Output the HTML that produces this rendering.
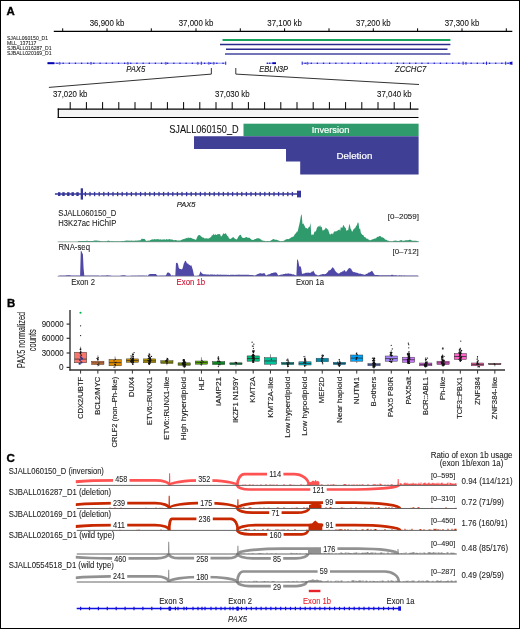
<!DOCTYPE html>
<html><head><meta charset="utf-8"><style>
html,body{margin:0;padding:0;background:#fff;}
svg{display:block;will-change:transform;font-family:"Liberation Sans", sans-serif;}
</style></head><body>
<svg width="520" height="629" viewBox="0 0 520 629">
<rect width="520" height="629" fill="#fff"/>
<rect x="0.5" y="0.5" width="519" height="628" fill="none" stroke="#000" stroke-width="1"/>
<text x="6.50" y="14.80" font-size="11.4" text-anchor="start" fill="#000" font-weight="bold" stroke="#000" stroke-width="0.35">A</text>
<line x1="53.80" y1="31.30" x2="512.30" y2="31.30" stroke="#000" stroke-width="1.2" />
<line x1="62.70" y1="28.30" x2="62.70" y2="31.30" stroke="#000" stroke-width="1" />
<line x1="107.00" y1="28.30" x2="107.00" y2="31.30" stroke="#000" stroke-width="1" />
<line x1="151.30" y1="28.30" x2="151.30" y2="31.30" stroke="#000" stroke-width="1" />
<line x1="196.00" y1="28.30" x2="196.00" y2="31.30" stroke="#000" stroke-width="1" />
<line x1="240.30" y1="28.30" x2="240.30" y2="31.30" stroke="#000" stroke-width="1" />
<line x1="284.60" y1="28.30" x2="284.60" y2="31.30" stroke="#000" stroke-width="1" />
<line x1="329.00" y1="28.30" x2="329.00" y2="31.30" stroke="#000" stroke-width="1" />
<line x1="373.30" y1="28.30" x2="373.30" y2="31.30" stroke="#000" stroke-width="1" />
<line x1="417.60" y1="28.30" x2="417.60" y2="31.30" stroke="#000" stroke-width="1" />
<line x1="462.00" y1="28.30" x2="462.00" y2="31.30" stroke="#000" stroke-width="1" />
<line x1="506.30" y1="28.30" x2="506.30" y2="31.30" stroke="#000" stroke-width="1" />
<text x="107.00" y="25.60" font-size="9.3" text-anchor="middle" fill="#111" stroke="#111" stroke-width="0.08" textLength="34.6" lengthAdjust="spacingAndGlyphs" >36,900 kb</text>
<text x="196.00" y="25.60" font-size="9.3" text-anchor="middle" fill="#111" stroke="#111" stroke-width="0.08" textLength="34.6" lengthAdjust="spacingAndGlyphs" >37,000 kb</text>
<text x="284.60" y="25.60" font-size="9.3" text-anchor="middle" fill="#111" stroke="#111" stroke-width="0.08" textLength="34.6" lengthAdjust="spacingAndGlyphs" >37,100 kb</text>
<text x="373.30" y="25.60" font-size="9.3" text-anchor="middle" fill="#111" stroke="#111" stroke-width="0.08" textLength="34.6" lengthAdjust="spacingAndGlyphs" >37,200 kb</text>
<text x="462.00" y="25.60" font-size="9.3" text-anchor="middle" fill="#111" stroke="#111" stroke-width="0.08" textLength="34.6" lengthAdjust="spacingAndGlyphs" >37,300 kb</text>
<text x="6.90" y="40.30" font-size="5.9" text-anchor="start" fill="#222" stroke="#222" stroke-width="0.08" textLength="41.1" lengthAdjust="spacingAndGlyphs" >SJALL060150_D1</text>
<text x="6.90" y="45.15" font-size="5.9" text-anchor="start" fill="#222" stroke="#222" stroke-width="0.08" textLength="29.6" lengthAdjust="spacingAndGlyphs" >MLL_137117</text>
<text x="6.90" y="50.00" font-size="5.9" text-anchor="start" fill="#222" stroke="#222" stroke-width="0.08" textLength="44.6" lengthAdjust="spacingAndGlyphs" >SJBALL016287_D1</text>
<text x="6.90" y="54.85" font-size="5.9" text-anchor="start" fill="#222" stroke="#222" stroke-width="0.08" textLength="44.6" lengthAdjust="spacingAndGlyphs" >SJBALL020169_D1</text>
<line x1="222.50" y1="39.90" x2="450.40" y2="39.90" stroke="#17a35c" stroke-width="2" />
<line x1="220.00" y1="44.60" x2="450.40" y2="44.60" stroke="#2b2b8c" stroke-width="1.5" />
<line x1="226.00" y1="49.30" x2="447.50" y2="49.30" stroke="#2b2b8c" stroke-width="1.5" />
<line x1="225.00" y1="54.00" x2="450.40" y2="54.00" stroke="#4545a0" stroke-width="1.6" />
<line x1="47.50" y1="63.20" x2="225.80" y2="63.20" stroke="#6a6af0" stroke-width="0.8" />
<rect x="47.50" y="62.20" width="6.90" height="2.00" fill="#0000b0" />
<circle cx="57.00" cy="63.2" r="0.75" fill="#1010c8"/>
<circle cx="63.15" cy="63.2" r="0.75" fill="#1010c8"/>
<circle cx="69.30" cy="63.2" r="0.75" fill="#1010c8"/>
<circle cx="75.45" cy="63.2" r="0.75" fill="#1010c8"/>
<circle cx="81.60" cy="63.2" r="0.75" fill="#1010c8"/>
<circle cx="87.75" cy="63.2" r="0.75" fill="#1010c8"/>
<circle cx="93.90" cy="63.2" r="0.75" fill="#1010c8"/>
<circle cx="100.05" cy="63.2" r="0.75" fill="#1010c8"/>
<circle cx="106.20" cy="63.2" r="0.75" fill="#1010c8"/>
<circle cx="112.35" cy="63.2" r="0.75" fill="#1010c8"/>
<circle cx="118.50" cy="63.2" r="0.75" fill="#1010c8"/>
<circle cx="124.65" cy="63.2" r="0.75" fill="#1010c8"/>
<circle cx="130.80" cy="63.2" r="0.75" fill="#1010c8"/>
<circle cx="136.95" cy="63.2" r="0.75" fill="#1010c8"/>
<circle cx="143.10" cy="63.2" r="0.75" fill="#1010c8"/>
<circle cx="149.25" cy="63.2" r="0.75" fill="#1010c8"/>
<circle cx="155.40" cy="63.2" r="0.75" fill="#1010c8"/>
<circle cx="161.55" cy="63.2" r="0.75" fill="#1010c8"/>
<circle cx="167.70" cy="63.2" r="0.75" fill="#1010c8"/>
<circle cx="173.85" cy="63.2" r="0.75" fill="#1010c8"/>
<circle cx="180.00" cy="63.2" r="0.75" fill="#1010c8"/>
<circle cx="186.15" cy="63.2" r="0.75" fill="#1010c8"/>
<circle cx="192.30" cy="63.2" r="0.75" fill="#1010c8"/>
<circle cx="204.60" cy="63.2" r="0.75" fill="#1010c8"/>
<circle cx="210.75" cy="63.2" r="0.75" fill="#1010c8"/>
<circle cx="216.90" cy="63.2" r="0.75" fill="#1010c8"/>
<circle cx="223.05" cy="63.2" r="0.75" fill="#1010c8"/>
<ellipse cx="59.60" cy="63.2" rx="1.1" ry="1.5" fill="#4a4ad8" fill-opacity="0.8"/>
<ellipse cx="91.00" cy="63.2" rx="1.1" ry="1.5" fill="#4a4ad8" fill-opacity="0.8"/>
<ellipse cx="127.80" cy="63.2" rx="1.1" ry="1.5" fill="#4a4ad8" fill-opacity="0.8"/>
<ellipse cx="165.80" cy="63.2" rx="1.1" ry="1.5" fill="#4a4ad8" fill-opacity="0.8"/>
<ellipse cx="197.80" cy="63.2" rx="1.1" ry="1.5" fill="#4a4ad8" fill-opacity="0.8"/>
<ellipse cx="208.80" cy="63.2" rx="1.1" ry="1.5" fill="#4a4ad8" fill-opacity="0.8"/>
<ellipse cx="213.70" cy="63.2" rx="1.1" ry="1.5" fill="#4a4ad8" fill-opacity="0.8"/>
<rect x="200.80" y="61.60" width="1.00" height="3.20" fill="#2020d0" />
<rect x="225.20" y="61.60" width="1.00" height="3.20" fill="#2020d0" />
<line x1="266.20" y1="63.20" x2="276.00" y2="63.20" stroke="#6a6af0" stroke-width="0.8" />
<rect x="272.30" y="62.30" width="3.70" height="1.80" fill="#0000b0" />
<circle cx="267.50" cy="63.2" r="0.7" fill="#1010c8"/>
<circle cx="269.80" cy="63.2" r="0.7" fill="#1010c8"/>
<line x1="301.90" y1="63.20" x2="512.00" y2="63.20" stroke="#6a6af0" stroke-width="0.8" />
<circle cx="305.10" cy="63.2" r="0.75" fill="#1010c8"/>
<circle cx="311.25" cy="63.2" r="0.75" fill="#1010c8"/>
<circle cx="317.40" cy="63.2" r="0.75" fill="#1010c8"/>
<circle cx="323.55" cy="63.2" r="0.75" fill="#1010c8"/>
<circle cx="329.70" cy="63.2" r="0.75" fill="#1010c8"/>
<circle cx="335.85" cy="63.2" r="0.75" fill="#1010c8"/>
<circle cx="342.00" cy="63.2" r="0.75" fill="#1010c8"/>
<circle cx="348.15" cy="63.2" r="0.75" fill="#1010c8"/>
<circle cx="354.30" cy="63.2" r="0.75" fill="#1010c8"/>
<circle cx="360.45" cy="63.2" r="0.75" fill="#1010c8"/>
<circle cx="366.60" cy="63.2" r="0.75" fill="#1010c8"/>
<circle cx="372.75" cy="63.2" r="0.75" fill="#1010c8"/>
<circle cx="378.90" cy="63.2" r="0.75" fill="#1010c8"/>
<circle cx="385.05" cy="63.2" r="0.75" fill="#1010c8"/>
<circle cx="391.20" cy="63.2" r="0.75" fill="#1010c8"/>
<circle cx="397.35" cy="63.2" r="0.75" fill="#1010c8"/>
<circle cx="403.50" cy="63.2" r="0.75" fill="#1010c8"/>
<circle cx="409.65" cy="63.2" r="0.75" fill="#1010c8"/>
<circle cx="415.80" cy="63.2" r="0.75" fill="#1010c8"/>
<circle cx="421.95" cy="63.2" r="0.75" fill="#1010c8"/>
<circle cx="428.10" cy="63.2" r="0.75" fill="#1010c8"/>
<circle cx="434.25" cy="63.2" r="0.75" fill="#1010c8"/>
<circle cx="440.40" cy="63.2" r="0.75" fill="#1010c8"/>
<circle cx="446.55" cy="63.2" r="0.75" fill="#1010c8"/>
<circle cx="452.70" cy="63.2" r="0.75" fill="#1010c8"/>
<circle cx="458.85" cy="63.2" r="0.75" fill="#1010c8"/>
<circle cx="471.15" cy="63.2" r="0.75" fill="#1010c8"/>
<circle cx="477.30" cy="63.2" r="0.75" fill="#1010c8"/>
<circle cx="483.45" cy="63.2" r="0.75" fill="#1010c8"/>
<circle cx="489.60" cy="63.2" r="0.75" fill="#1010c8"/>
<circle cx="495.75" cy="63.2" r="0.75" fill="#1010c8"/>
<circle cx="501.90" cy="63.2" r="0.75" fill="#1010c8"/>
<circle cx="508.05" cy="63.2" r="0.75" fill="#1010c8"/>
<ellipse cx="307.50" cy="63.2" rx="1.1" ry="1.5" fill="#4a4ad8" fill-opacity="0.8"/>
<ellipse cx="466.00" cy="63.2" rx="1.1" ry="1.5" fill="#4a4ad8" fill-opacity="0.8"/>
<rect x="301.70" y="61.60" width="1.00" height="3.20" fill="#2020d0" />
<rect x="462.60" y="61.60" width="1.00" height="3.20" fill="#2020d0" />
<rect x="486.00" y="61.60" width="1.00" height="3.20" fill="#2020d0" />
<rect x="505.20" y="61.60" width="1.00" height="3.20" fill="#2020d0" />
<rect x="511.50" y="61.60" width="1.00" height="3.20" fill="#2020d0" />
<rect x="509.60" y="61.90" width="2.40" height="2.60" fill="#1010c0" />
<text x="126.20" y="72.10" font-size="8.8" text-anchor="start" fill="#222" stroke="#222" stroke-width="0.15" font-style="italic" textLength="19" lengthAdjust="spacingAndGlyphs" >PAX5</text>
<text x="259.20" y="72.10" font-size="8.8" text-anchor="start" fill="#222" stroke="#222" stroke-width="0.15" font-style="italic" textLength="28.9" lengthAdjust="spacingAndGlyphs" >EBLN3P</text>
<text x="395.00" y="72.10" font-size="8.8" text-anchor="start" fill="#222" stroke="#222" stroke-width="0.15" font-style="italic" textLength="31.3" lengthAdjust="spacingAndGlyphs" >ZCCHC7</text>
<polyline points="48.9,87.4 211.35,74.1 211.35,68" fill="none" stroke="#333" stroke-width="1"/>
<polyline points="235.8,68 235.8,74.1 419,84.5" fill="none" stroke="#333" stroke-width="1"/>
<text x="70.20" y="97.10" font-size="9.3" text-anchor="middle" fill="#111" stroke="#111" stroke-width="0.08" textLength="34.6" lengthAdjust="spacingAndGlyphs" >37,020 kb</text>
<text x="232.30" y="97.10" font-size="9.3" text-anchor="middle" fill="#111" stroke="#111" stroke-width="0.08" textLength="34.6" lengthAdjust="spacingAndGlyphs" >37,030 kb</text>
<text x="394.40" y="97.10" font-size="9.3" text-anchor="middle" fill="#111" stroke="#111" stroke-width="0.08" textLength="34.6" lengthAdjust="spacingAndGlyphs" >37,040 kb</text>
<rect x="58.30" y="109.20" width="360.20" height="8.30" fill="#f5f5f5" />
<line x1="57.70" y1="109.20" x2="418.50" y2="109.20" stroke="#000" stroke-width="1.2" />
<line x1="57.70" y1="117.50" x2="418.50" y2="117.50" stroke="#000" stroke-width="1.2" />
<line x1="58.30" y1="108.60" x2="58.30" y2="118.10" stroke="#000" stroke-width="1.2" />
<line x1="70.20" y1="102.10" x2="70.20" y2="109.20" stroke="#000" stroke-width="1" />
<line x1="86.40" y1="102.10" x2="86.40" y2="109.20" stroke="#000" stroke-width="1" />
<line x1="102.60" y1="102.10" x2="102.60" y2="109.20" stroke="#000" stroke-width="1" />
<line x1="118.80" y1="102.10" x2="118.80" y2="109.20" stroke="#000" stroke-width="1" />
<line x1="135.00" y1="102.10" x2="135.00" y2="109.20" stroke="#000" stroke-width="1" />
<line x1="151.20" y1="102.10" x2="151.20" y2="109.20" stroke="#000" stroke-width="1" />
<line x1="167.40" y1="102.10" x2="167.40" y2="109.20" stroke="#000" stroke-width="1" />
<line x1="183.60" y1="102.10" x2="183.60" y2="109.20" stroke="#000" stroke-width="1" />
<line x1="199.80" y1="102.10" x2="199.80" y2="109.20" stroke="#000" stroke-width="1" />
<line x1="216.00" y1="102.10" x2="216.00" y2="109.20" stroke="#000" stroke-width="1" />
<line x1="232.20" y1="102.10" x2="232.20" y2="109.20" stroke="#000" stroke-width="1" />
<line x1="248.40" y1="102.10" x2="248.40" y2="109.20" stroke="#000" stroke-width="1" />
<line x1="264.60" y1="102.10" x2="264.60" y2="109.20" stroke="#000" stroke-width="1" />
<line x1="280.80" y1="102.10" x2="280.80" y2="109.20" stroke="#000" stroke-width="1" />
<line x1="297.00" y1="102.10" x2="297.00" y2="109.20" stroke="#000" stroke-width="1" />
<line x1="313.20" y1="102.10" x2="313.20" y2="109.20" stroke="#000" stroke-width="1" />
<line x1="329.40" y1="102.10" x2="329.40" y2="109.20" stroke="#000" stroke-width="1" />
<line x1="345.60" y1="102.10" x2="345.60" y2="109.20" stroke="#000" stroke-width="1" />
<line x1="361.80" y1="102.10" x2="361.80" y2="109.20" stroke="#000" stroke-width="1" />
<line x1="378.00" y1="102.10" x2="378.00" y2="109.20" stroke="#000" stroke-width="1" />
<line x1="394.20" y1="102.10" x2="394.20" y2="109.20" stroke="#000" stroke-width="1" />
<line x1="410.40" y1="102.10" x2="410.40" y2="109.20" stroke="#000" stroke-width="1" />
<rect x="243.50" y="123.70" width="175.10" height="12.50" fill="#2f9a6c" />
<polygon points="194.00,136.20 418.60,136.20 418.60,174.50 300.20,174.50 300.20,161.50 286.00,161.50 286.00,149.00 194.00,149.00" fill="#3f3f96" />
<text x="238.70" y="132.90" font-size="10.2" text-anchor="end" fill="#111" stroke="#111" stroke-width="0.08" textLength="69.5" lengthAdjust="spacingAndGlyphs" >SJALL060150_D</text>
<text x="311.70" y="133.10" font-size="9.7" text-anchor="start" fill="#fff" textLength="37.7" lengthAdjust="spacingAndGlyphs" stroke="#fff" stroke-width="0.2">Inversion</text>
<text x="336.60" y="159.10" font-size="9.7" text-anchor="start" fill="#fff" textLength="35.7" lengthAdjust="spacingAndGlyphs" stroke="#fff" stroke-width="0.2">Deletion</text>
<line x1="54.90" y1="194.00" x2="301.00" y2="194.00" stroke="#36369a" stroke-width="1.4" />
<rect x="58.00" y="192.20" width="2.40" height="3.80" fill="#36369a" />
<rect x="62.30" y="192.20" width="2.40" height="3.80" fill="#36369a" />
<rect x="67.10" y="192.20" width="2.40" height="3.80" fill="#36369a" />
<rect x="71.50" y="192.20" width="2.40" height="3.80" fill="#36369a" />
<rect x="76.30" y="192.20" width="2.40" height="3.80" fill="#36369a" />
<rect x="80.70" y="188.30" width="2.30" height="11.30" fill="#36369a" />
<rect x="84.75" y="191.90" width="1.30" height="4.30" fill="#36369a" />
<rect x="89.35" y="191.90" width="1.30" height="4.30" fill="#36369a" />
<rect x="93.95" y="191.90" width="1.30" height="4.30" fill="#36369a" />
<rect x="98.55" y="191.90" width="1.30" height="4.30" fill="#36369a" />
<rect x="103.15" y="191.90" width="1.30" height="4.30" fill="#36369a" />
<rect x="107.75" y="191.90" width="1.30" height="4.30" fill="#36369a" />
<rect x="112.35" y="191.90" width="1.30" height="4.30" fill="#36369a" />
<rect x="116.95" y="191.90" width="1.30" height="4.30" fill="#36369a" />
<rect x="121.55" y="191.90" width="1.30" height="4.30" fill="#36369a" />
<rect x="126.15" y="191.90" width="1.30" height="4.30" fill="#36369a" />
<rect x="130.75" y="191.90" width="1.30" height="4.30" fill="#36369a" />
<rect x="135.35" y="191.90" width="1.30" height="4.30" fill="#36369a" />
<rect x="139.95" y="191.90" width="1.30" height="4.30" fill="#36369a" />
<rect x="144.55" y="191.90" width="1.30" height="4.30" fill="#36369a" />
<rect x="149.15" y="191.90" width="1.30" height="4.30" fill="#36369a" />
<rect x="153.75" y="191.90" width="1.30" height="4.30" fill="#36369a" />
<rect x="158.35" y="191.90" width="1.30" height="4.30" fill="#36369a" />
<rect x="162.95" y="191.90" width="1.30" height="4.30" fill="#36369a" />
<rect x="167.55" y="191.90" width="1.30" height="4.30" fill="#36369a" />
<rect x="172.15" y="191.90" width="1.30" height="4.30" fill="#36369a" />
<rect x="176.75" y="191.90" width="1.30" height="4.30" fill="#36369a" />
<rect x="181.35" y="191.90" width="1.30" height="4.30" fill="#36369a" />
<rect x="185.95" y="191.90" width="1.30" height="4.30" fill="#36369a" />
<rect x="190.55" y="191.90" width="1.30" height="4.30" fill="#36369a" />
<rect x="195.15" y="191.90" width="1.30" height="4.30" fill="#36369a" />
<rect x="199.75" y="191.90" width="1.30" height="4.30" fill="#36369a" />
<rect x="204.35" y="191.90" width="1.30" height="4.30" fill="#36369a" />
<rect x="208.95" y="191.90" width="1.30" height="4.30" fill="#36369a" />
<rect x="213.55" y="191.90" width="1.30" height="4.30" fill="#36369a" />
<rect x="218.15" y="191.90" width="1.30" height="4.30" fill="#36369a" />
<rect x="222.75" y="191.90" width="1.30" height="4.30" fill="#36369a" />
<rect x="227.35" y="191.90" width="1.30" height="4.30" fill="#36369a" />
<rect x="231.95" y="191.90" width="1.30" height="4.30" fill="#36369a" />
<rect x="236.55" y="191.90" width="1.30" height="4.30" fill="#36369a" />
<rect x="241.15" y="191.90" width="1.30" height="4.30" fill="#36369a" />
<rect x="245.75" y="191.90" width="1.30" height="4.30" fill="#36369a" />
<rect x="250.35" y="191.90" width="1.30" height="4.30" fill="#36369a" />
<rect x="254.95" y="191.90" width="1.30" height="4.30" fill="#36369a" />
<rect x="259.55" y="191.90" width="1.30" height="4.30" fill="#36369a" />
<rect x="264.15" y="191.90" width="1.30" height="4.30" fill="#36369a" />
<rect x="268.75" y="191.90" width="1.30" height="4.30" fill="#36369a" />
<rect x="273.35" y="191.90" width="1.30" height="4.30" fill="#36369a" />
<rect x="277.95" y="191.90" width="1.30" height="4.30" fill="#36369a" />
<rect x="282.55" y="191.90" width="1.30" height="4.30" fill="#36369a" />
<rect x="287.15" y="191.90" width="1.30" height="4.30" fill="#36369a" />
<rect x="291.75" y="191.90" width="1.30" height="4.30" fill="#36369a" />
<rect x="297.00" y="190.70" width="4.00" height="6.70" fill="#36369a" />
<text x="176.80" y="206.90" font-size="7.8" text-anchor="start" fill="#222" stroke="#222" stroke-width="0.18" font-style="italic" textLength="18.6" lengthAdjust="spacingAndGlyphs" >PAX5</text>
<text x="58.30" y="216.00" font-size="8.3" text-anchor="start" fill="#222" stroke="#222" stroke-width="0.08" textLength="58" lengthAdjust="spacingAndGlyphs" >SJALL060150_D</text>
<text x="58.30" y="225.80" font-size="8.3" text-anchor="start" fill="#222" stroke="#222" stroke-width="0.08" textLength="58" lengthAdjust="spacingAndGlyphs" >H3K27ac HiChIP</text>
<text x="419.00" y="218.60" font-size="7.9" text-anchor="end" fill="#222" stroke="#222" stroke-width="0.08" textLength="31.2" lengthAdjust="spacingAndGlyphs" >[0–2059]</text>
<polygon points="57.70,241.90 57.70,241.70 58.50,241.69 59.30,241.67 60.10,241.70 60.90,241.70 61.70,241.69 62.50,241.71 63.30,241.70 64.10,241.69 64.90,241.68 65.70,241.72 66.50,241.71 67.30,241.72 68.10,241.68 68.90,241.68 69.70,241.72 70.50,241.67 71.30,241.67 72.10,241.69 72.90,241.69 73.70,241.72 74.50,241.73 75.30,241.69 76.10,241.72 76.90,241.71 77.70,241.71 78.50,241.11 79.30,240.99 80.10,241.00 80.90,240.89 81.70,240.98 82.50,240.94 83.30,240.98 84.10,240.94 84.90,240.99 85.70,241.04 86.50,240.85 87.30,240.85 88.10,240.89 88.90,240.93 89.70,241.03 90.50,241.06 91.30,241.04 92.10,241.10 92.90,240.91 93.70,240.87 94.50,240.55 95.30,240.62 96.10,240.40 96.90,240.44 97.70,240.77 98.50,240.83 99.30,240.86 100.10,241.19 100.90,241.09 101.70,241.21 102.50,241.28 103.30,241.16 104.10,241.13 104.90,241.23 105.70,241.27 106.50,241.22 107.30,240.90 108.10,240.49 108.90,240.74 109.70,241.09 110.50,241.27 111.30,241.28 112.10,241.12 112.90,241.25 113.70,241.17 114.50,241.20 115.30,241.25 116.10,241.14 116.90,241.26 117.70,241.16 118.50,241.27 119.30,241.20 120.10,241.25 120.90,241.23 121.70,241.09 122.50,241.12 123.30,241.23 124.10,241.05 124.90,240.83 125.70,240.71 126.50,240.53 127.30,240.59 128.10,240.78 128.90,240.44 129.70,240.72 130.50,240.69 131.30,240.49 132.10,240.65 132.90,240.65 133.70,240.73 134.50,240.71 135.30,240.50 136.10,240.63 136.90,240.47 137.70,240.56 138.50,240.51 139.30,240.29 140.10,240.40 140.90,239.71 141.70,238.83 142.50,238.81 143.30,238.96 144.10,238.67 144.90,239.17 145.70,240.62 146.50,241.02 147.30,240.78 148.10,240.62 148.90,240.79 149.70,240.43 150.50,240.06 151.30,239.65 152.10,239.31 152.90,239.56 153.70,239.61 154.50,238.89 155.30,239.45 156.10,239.09 156.90,239.44 157.70,239.00 158.50,239.17 159.30,239.41 160.10,239.51 160.90,239.14 161.70,239.68 162.50,239.60 163.30,239.41 164.10,239.25 164.90,239.47 165.70,239.63 166.50,239.06 167.30,239.50 168.10,239.56 168.90,239.27 169.70,239.03 170.50,239.44 171.30,239.54 172.10,239.60 172.90,239.68 173.70,240.15 174.50,240.15 175.30,240.00 176.10,240.10 176.90,240.38 177.70,240.50 178.50,240.41 179.30,240.48 180.10,240.42 180.90,240.32 181.70,239.64 182.50,239.43 183.30,238.90 184.10,239.36 184.90,238.50 185.70,238.39 186.50,237.95 187.30,238.23 188.10,237.26 188.90,238.21 189.70,237.74 190.50,237.81 191.30,237.93 192.10,238.40 192.90,238.73 193.70,238.95 194.50,239.16 195.30,239.82 196.10,239.65 196.90,237.77 197.70,236.06 198.50,235.24 199.30,234.99 200.10,235.36 200.90,236.33 201.70,236.68 202.50,237.45 203.30,237.61 204.10,237.91 204.90,238.70 205.70,238.32 206.50,238.21 207.30,238.55 208.10,238.45 208.90,238.42 209.70,237.66 210.50,237.39 211.30,236.60 212.10,234.89 212.90,235.44 213.70,233.56 214.50,235.35 215.30,234.25 216.10,234.68 216.90,235.09 217.70,233.89 218.50,234.17 219.30,234.10 220.10,234.34 220.90,236.41 221.70,236.29 222.50,234.95 223.30,233.25 224.10,233.63 224.90,233.93 225.70,233.02 226.50,234.52 227.30,235.97 228.10,236.37 228.90,238.21 229.70,238.76 230.50,238.93 231.30,238.44 232.10,237.75 232.90,237.33 233.70,237.29 234.50,238.43 235.30,238.79 236.10,239.55 236.90,239.19 237.70,237.95 238.50,236.54 239.30,235.51 240.10,234.77 240.90,234.95 241.70,236.90 242.50,237.78 243.30,237.92 244.10,237.89 244.90,237.74 245.70,237.22 246.50,237.00 247.30,237.44 248.10,237.92 248.90,237.59 249.70,237.90 250.50,238.86 251.30,239.56 252.10,239.96 252.90,239.67 253.70,239.92 254.50,239.17 255.30,238.99 256.10,238.91 256.90,238.11 257.70,238.61 258.50,238.19 259.30,238.14 260.10,239.26 260.90,239.36 261.70,240.23 262.50,240.50 263.30,240.76 264.10,240.80 264.90,241.10 265.70,241.16 266.50,241.15 267.30,241.12 268.10,241.09 268.90,241.15 269.70,241.25 270.50,240.79 271.30,240.29 272.10,239.87 272.90,239.37 273.70,239.00 274.50,239.57 275.30,239.70 276.10,239.85 276.90,239.85 277.70,240.16 278.50,240.48 279.30,240.80 280.10,241.21 280.90,241.13 281.70,241.10 282.50,241.27 283.30,241.10 284.10,240.59 284.90,240.19 285.70,239.56 286.50,239.35 287.30,239.04 288.10,239.36 288.90,239.12 289.70,238.47 290.50,237.96 291.30,237.20 292.10,237.25 292.90,236.43 293.70,236.43 294.50,234.68 295.30,233.63 296.10,233.12 296.90,231.44 297.70,231.62 298.50,227.79 299.30,224.53 300.10,220.76 300.90,215.79 301.70,214.28 302.50,224.22 303.30,223.37 304.10,225.06 304.90,226.60 305.70,228.29 306.50,228.09 307.30,228.76 308.10,228.52 308.90,226.68 309.70,226.70 310.50,222.66 311.30,235.59 312.10,234.02 312.90,235.36 313.70,234.24 314.50,231.40 315.30,231.82 316.10,230.63 316.90,227.98 317.70,226.80 318.50,226.32 319.30,226.73 320.10,225.06 320.90,227.45 321.70,226.60 322.50,230.59 323.30,230.50 324.10,229.44 324.90,229.73 325.70,227.40 326.50,228.27 327.30,229.36 328.10,229.44 328.90,232.04 329.70,234.15 330.50,234.40 331.30,233.81 332.10,233.36 332.90,234.43 333.70,232.30 334.50,231.35 335.30,231.74 336.10,230.76 336.90,231.57 337.70,230.17 338.50,230.00 339.30,229.32 340.10,230.90 340.90,226.74 341.70,227.94 342.50,227.60 343.30,224.65 344.10,225.88 344.90,227.58 345.70,228.11 346.50,231.12 347.30,230.12 348.10,230.52 348.90,226.13 349.70,223.76 350.50,228.42 351.30,229.77 352.10,231.88 352.90,230.59 353.70,228.99 354.50,228.38 355.30,227.69 356.10,226.00 356.90,225.25 357.70,222.42 358.50,222.73 359.30,228.98 360.10,228.56 360.90,233.10 361.70,234.03 362.50,234.93 363.30,235.04 364.10,236.75 364.90,237.29 365.70,237.50 366.50,238.64 367.30,238.53 368.10,239.47 368.90,239.58 369.70,240.15 370.50,240.18 371.30,239.75 372.10,239.56 372.90,239.29 373.70,238.94 374.50,238.51 375.30,238.56 376.10,238.16 376.90,237.26 377.70,236.85 378.50,236.71 379.30,235.95 380.10,236.16 380.90,236.21 381.70,237.53 382.50,237.32 383.30,237.76 384.10,238.21 384.90,239.24 385.70,239.70 386.50,239.81 387.30,240.60 388.10,240.74 388.90,240.87 389.70,241.14 390.50,241.19 391.30,241.17 392.10,241.31 392.90,241.17 393.70,240.78 394.50,240.72 395.30,240.51 396.10,240.85 396.90,240.86 397.70,240.89 398.50,241.01 399.30,240.78 400.10,240.41 400.90,240.10 401.70,240.18 402.50,240.68 403.30,240.66 404.10,240.67 404.90,240.56 405.70,240.29 406.50,240.34 407.30,240.26 408.10,240.14 408.90,240.09 409.70,239.66 410.50,239.85 411.30,240.15 412.10,240.63 412.90,240.72 413.70,240.81 414.50,240.70 415.30,240.75 416.10,240.82 416.90,241.10 417.70,241.14 418.50,240.97 418.60,241.90" fill="#2f9a6c" />
<line x1="57.70" y1="241.90" x2="418.60" y2="241.90" stroke="#999" stroke-width="0.6" />
<text x="58.40" y="250.30" font-size="8.3" text-anchor="start" fill="#222" stroke="#222" stroke-width="0.08" textLength="31.6" lengthAdjust="spacingAndGlyphs" >RNA-seq</text>
<text x="418.80" y="254.30" font-size="7.9" text-anchor="end" fill="#222" stroke="#222" stroke-width="0.08" textLength="26.3" lengthAdjust="spacingAndGlyphs" >[0–712]</text>
<polygon points="57.70,276.20 57.70,276.00 58.40,275.79 59.10,275.65 59.80,275.45 60.50,275.41 61.20,275.46 61.90,275.47 62.60,275.58 63.30,275.53 64.00,275.55 64.70,275.55 65.40,275.43 66.10,275.30 66.80,275.27 67.50,275.22 68.20,275.15 68.90,274.99 69.60,275.26 70.30,275.32 71.00,275.56 71.70,275.57 72.40,275.55 73.10,275.58 73.80,275.60 74.50,275.58 75.20,275.59 75.90,275.54 76.60,275.56 77.30,275.62 78.00,275.55 78.70,275.57 79.40,275.56 80.10,275.56 80.80,250.74 81.50,251.32 82.20,252.89 82.90,254.35 83.60,268.56 84.30,275.55 85.00,275.58 85.70,275.53 86.40,275.60 87.10,275.55 87.80,275.52 88.50,275.57 89.20,275.51 89.90,275.46 90.60,275.45 91.30,275.49 92.00,275.38 92.70,275.41 93.40,275.44 94.10,275.38 94.80,275.38 95.50,275.42 96.20,275.48 96.90,275.44 97.60,275.53 98.30,275.57 99.00,275.61 99.70,275.63 100.40,275.72 101.10,275.62 101.80,275.56 102.50,275.58 103.20,275.52 103.90,275.53 104.60,275.47 105.30,275.41 106.00,275.41 106.70,275.35 107.40,275.26 108.10,275.37 108.80,275.43 109.50,275.43 110.20,275.54 110.90,275.55 111.60,275.65 112.30,275.67 113.00,275.73 113.70,275.69 114.40,275.67 115.10,275.74 115.80,275.65 116.50,275.73 117.20,275.70 117.90,275.72 118.60,275.69 119.30,275.68 120.00,275.73 120.70,275.54 121.40,275.49 122.10,275.37 122.80,275.25 123.50,275.19 124.20,275.19 124.90,275.34 125.60,275.57 126.30,275.71 127.00,275.66 127.70,275.69 128.40,275.71 129.10,275.68 129.80,275.70 130.50,275.68 131.20,275.61 131.90,275.64 132.60,275.58 133.30,275.59 134.00,275.65 134.70,275.54 135.40,275.54 136.10,275.64 136.80,275.55 137.50,275.60 138.20,275.60 138.90,275.54 139.60,275.62 140.30,275.59 141.00,275.54 141.70,275.57 142.40,275.60 143.10,275.54 143.80,275.56 144.50,275.58 145.20,275.64 145.90,275.58 146.60,275.60 147.30,275.63 148.00,275.64 148.70,274.59 149.40,274.28 150.10,274.09 150.80,273.93 151.50,273.94 152.20,273.99 152.90,273.91 153.60,274.03 154.30,273.94 155.00,274.09 155.70,273.97 156.40,274.62 157.10,275.57 157.80,275.62 158.50,275.64 159.20,275.55 159.90,275.56 160.60,275.58 161.30,275.61 162.00,275.62 162.70,275.57 163.40,275.59 164.10,275.58 164.80,275.58 165.50,275.56 166.20,275.11 166.90,273.27 167.60,272.57 168.30,272.61 169.00,272.63 169.70,273.14 170.40,274.06 171.10,275.42 171.80,275.40 172.50,275.37 173.20,275.45 173.90,275.38 174.60,275.45 175.30,275.45 176.00,262.73 176.70,263.03 177.40,262.83 178.10,264.48 178.80,267.93 179.50,268.80 180.20,269.09 180.90,269.06 181.60,269.47 182.30,268.91 183.00,267.08 183.70,263.84 184.40,262.48 185.10,260.78 185.80,261.04 186.50,262.27 187.20,263.88 187.90,263.01 188.60,264.48 189.30,264.83 190.00,265.18 190.70,265.87 191.40,265.32 192.10,267.47 192.80,269.87 193.50,273.10 194.20,275.80 194.90,275.78 195.60,275.67 196.30,275.70 197.00,275.66 197.70,275.57 198.40,275.53 199.10,275.17 199.80,273.29 200.50,271.32 201.20,272.62 201.90,273.25 202.60,273.78 203.30,274.36 204.00,274.33 204.70,274.23 205.40,274.30 206.10,274.48 206.80,274.58 207.50,274.54 208.20,274.46 208.90,274.60 209.60,274.70 210.30,274.55 211.00,274.62 211.70,274.55 212.40,274.56 213.10,274.55 213.80,274.68 214.50,274.56 215.20,274.70 215.90,274.68 216.60,274.65 217.30,274.49 218.00,274.49 218.70,274.67 219.40,274.63 220.10,274.62 220.80,274.64 221.50,274.66 222.20,274.68 222.90,274.75 223.60,274.67 224.30,274.63 225.00,274.72 225.70,274.67 226.40,274.76 227.10,274.88 227.80,274.75 228.50,274.74 229.20,274.91 229.90,275.00 230.60,274.87 231.30,274.85 232.00,274.83 232.70,274.71 233.40,274.78 234.10,274.72 234.80,274.90 235.50,274.76 236.20,274.68 236.90,274.85 237.60,274.84 238.30,274.65 239.00,274.59 239.70,274.80 240.40,274.65 241.10,274.80 241.80,274.65 242.50,274.69 243.20,274.81 243.90,274.83 244.60,274.71 245.30,274.78 246.00,274.74 246.70,274.84 247.40,274.87 248.10,274.73 248.80,274.82 249.50,274.88 250.20,274.90 250.90,274.95 251.60,275.04 252.30,275.09 253.00,275.26 253.70,275.28 254.40,275.40 255.10,275.40 255.80,275.05 256.50,274.70 257.20,274.33 257.90,273.95 258.60,273.73 259.30,273.45 260.00,273.26 260.70,273.21 261.40,273.41 262.10,273.41 262.80,273.55 263.50,273.24 264.20,273.11 264.90,273.75 265.60,274.92 266.30,275.41 267.00,275.10 267.70,274.85 268.40,274.36 269.10,274.38 269.80,274.01 270.50,273.82 271.20,273.28 271.90,272.91 272.60,272.98 273.30,272.79 274.00,272.48 274.70,272.40 275.40,272.18 276.10,272.77 276.80,272.72 277.50,274.34 278.20,275.48 278.90,275.30 279.60,275.02 280.30,274.85 281.00,274.76 281.70,274.60 282.40,274.39 283.10,274.27 283.80,273.95 284.50,274.03 285.20,273.84 285.90,273.62 286.60,273.67 287.30,273.68 288.00,273.28 288.70,273.38 289.40,273.77 290.10,273.79 290.80,273.73 291.50,274.04 292.20,274.25 292.90,274.42 293.60,274.36 294.30,274.69 295.00,275.05 295.70,275.29 296.40,275.55 297.10,260.12 297.80,259.15 298.50,262.22 299.20,265.90 299.90,266.87 300.60,266.21 301.30,268.83 302.00,274.07 302.70,273.79 303.40,273.54 304.10,273.48 304.80,273.21 305.50,272.87 306.20,272.91 306.90,272.53 307.60,272.75 308.30,272.67 309.00,272.45 309.70,272.91 310.40,272.74 311.10,272.61 311.80,271.61 312.50,271.73 313.20,270.42 313.90,271.73 314.60,273.08 315.30,274.29 316.00,274.58 316.70,274.84 317.40,275.34 318.10,275.56 318.80,275.31 319.50,274.97 320.20,274.79 320.90,274.46 321.60,274.38 322.30,274.05 323.00,274.16 323.70,273.93 324.40,274.21 325.10,273.89 325.80,274.10 326.50,273.35 327.20,272.52 327.90,271.98 328.60,270.53 329.30,270.45 330.00,269.89 330.70,269.64 331.40,268.78 332.10,267.98 332.80,267.01 333.50,268.14 334.20,268.70 334.90,270.43 335.60,271.16 336.30,272.17 337.00,272.61 337.70,273.35 338.40,273.49 339.10,273.46 339.80,272.91 340.50,272.33 341.20,272.30 341.90,271.67 342.60,271.37 343.30,271.41 344.00,270.05 344.70,270.33 345.40,271.60 346.10,271.72 346.80,271.07 347.50,270.05 348.20,268.91 348.90,268.31 349.60,268.11 350.30,268.48 351.00,268.56 351.70,270.04 352.40,271.22 353.10,271.79 353.80,272.26 354.50,271.97 355.20,272.41 355.90,272.46 356.60,272.87 357.30,272.74 358.00,273.33 358.70,273.46 359.40,273.64 360.10,273.52 360.80,273.68 361.50,274.09 362.20,274.18 362.90,274.22 363.60,274.49 364.30,274.81 365.00,274.67 365.70,274.36 366.40,274.05 367.10,273.60 367.80,273.44 368.50,272.61 369.20,272.56 369.90,272.14 370.60,271.68 371.30,271.21 372.00,270.79 372.70,271.70 373.40,272.88 374.10,273.98 374.80,274.93 375.50,274.89 376.20,274.89 376.90,274.89 377.60,275.00 378.30,275.10 379.00,275.18 379.70,275.34 380.40,275.32 381.10,275.32 381.80,275.26 382.50,275.35 383.20,275.31 383.90,275.29 384.60,275.24 385.30,275.24 386.00,275.27 386.70,275.35 387.40,275.25 388.10,275.22 388.80,275.28 389.50,275.31 390.20,275.24 390.90,275.14 391.60,274.83 392.30,274.74 393.00,275.03 393.70,275.17 394.40,275.24 395.10,275.36 395.80,275.25 396.50,275.31 397.20,275.39 397.90,275.42 398.60,275.41 399.30,275.37 400.00,275.36 400.70,275.42 401.40,275.34 402.10,275.43 402.80,275.43 403.50,275.48 404.20,275.37 404.90,275.49 405.60,275.40 406.30,275.45 407.00,275.46 407.70,275.47 408.40,275.51 409.10,275.44 409.80,275.43 410.50,275.46 411.20,275.50 411.90,275.57 412.60,275.49 413.30,275.56 414.00,275.50 414.70,275.58 415.40,275.55 416.10,275.53 416.80,275.61 417.50,275.58 418.20,275.64 418.60,276.20" fill="#4f48a6" />
<line x1="57.70" y1="276.30" x2="418.60" y2="276.30" stroke="#999" stroke-width="0.6" />
<text x="71.20" y="285.10" font-size="8.8" text-anchor="start" fill="#222" stroke="#222" stroke-width="0.08" textLength="23.8" lengthAdjust="spacingAndGlyphs" >Exon 2</text>
<text x="176.50" y="284.90" font-size="8.8" text-anchor="start" fill="#c8102e" stroke="#c8102e" stroke-width="0.08" textLength="28.7" lengthAdjust="spacingAndGlyphs" >Exon 1b</text>
<text x="295.90" y="284.70" font-size="8.8" text-anchor="start" fill="#222" stroke="#222" stroke-width="0.08" textLength="28.1" lengthAdjust="spacingAndGlyphs" >Exon 1a</text>
<text x="6.90" y="306.60" font-size="11.4" text-anchor="start" fill="#000" font-weight="bold" stroke="#000" stroke-width="0.35">B</text>
<line x1="70.00" y1="310.00" x2="70.00" y2="370.60" stroke="#333" stroke-width="1.4" />
<line x1="69.30" y1="370.00" x2="505.00" y2="370.00" stroke="#333" stroke-width="1.4" />
<line x1="66.60" y1="324.10" x2="70.00" y2="324.10" stroke="#333" stroke-width="1.2" />
<text x="63.70" y="327.10" font-size="8.8" text-anchor="end" fill="#222" stroke="#222" stroke-width="0.08" textLength="22" lengthAdjust="spacingAndGlyphs" >90000</text>
<line x1="66.60" y1="338.30" x2="70.00" y2="338.30" stroke="#333" stroke-width="1.2" />
<text x="63.70" y="341.30" font-size="8.8" text-anchor="end" fill="#222" stroke="#222" stroke-width="0.08" textLength="22" lengthAdjust="spacingAndGlyphs" >60000</text>
<line x1="66.60" y1="353.00" x2="70.00" y2="353.00" stroke="#333" stroke-width="1.2" />
<text x="63.70" y="356.00" font-size="8.8" text-anchor="end" fill="#222" stroke="#222" stroke-width="0.08" textLength="22" lengthAdjust="spacingAndGlyphs" >30000</text>
<line x1="66.60" y1="367.40" x2="70.00" y2="367.40" stroke="#333" stroke-width="1.2" />
<text x="63.70" y="370.40" font-size="8.8" text-anchor="end" fill="#222" stroke="#222" stroke-width="0.08" textLength="4.6" lengthAdjust="spacingAndGlyphs" >0</text>
<text transform="translate(24.9,339.9) rotate(-90)" font-size="10.8" text-anchor="middle" fill="#222" stroke="#222" stroke-width="0.08" textLength="56" lengthAdjust="spacingAndGlyphs">PAX5 normalized</text>
<text transform="translate(35.9,340.2) rotate(-90)" font-size="10.8" text-anchor="middle" fill="#222" stroke="#222" stroke-width="0.08" textLength="22" lengthAdjust="spacingAndGlyphs">counts</text>
<line x1="80.60" y1="346.70" x2="80.60" y2="352.20" stroke="#222" stroke-width="0.5" />
<line x1="80.60" y1="362.80" x2="80.60" y2="364.60" stroke="#222" stroke-width="0.5" />
<rect x="74.50" y="352.20" width="12.20" height="10.60" fill="#F8766D" stroke="#2a2a2a" stroke-width="0.45"/>
<line x1="74.50" y1="359.10" x2="86.70" y2="359.10" stroke="#2a2a2a" stroke-width="0.75" />
<line x1="80.60" y1="370.00" x2="80.60" y2="373.60" stroke="#333" stroke-width="1" />
<circle cx="80.44" cy="353.30" r="0.62" fill="#111"/>
<circle cx="80.38" cy="356.01" r="0.62" fill="#111"/>
<circle cx="81.33" cy="357.79" r="0.62" fill="#111"/>
<circle cx="80.77" cy="352.54" r="0.62" fill="#111"/>
<circle cx="80.95" cy="361.82" r="0.62" fill="#111"/>
<circle cx="80.95" cy="351.94" r="0.62" fill="#111"/>
<circle cx="80.81" cy="349.18" r="0.62" fill="#111"/>
<circle cx="80.57" cy="351.94" r="0.62" fill="#111"/>
<circle cx="80.14" cy="352.88" r="0.62" fill="#111"/>
<circle cx="81.80" cy="358.73" r="0.62" fill="#111"/>
<circle cx="80.36" cy="349.06" r="0.62" fill="#111"/>
<circle cx="80.53" cy="354.00" r="0.62" fill="#111"/>
<circle cx="80.24" cy="349.34" r="0.62" fill="#111"/>
<circle cx="81.45" cy="355.18" r="0.62" fill="#111"/>
<text transform="translate(82.70,376.8) rotate(-90)" font-size="7.9" text-anchor="end" fill="#222" stroke="#222" stroke-width="0.14" textLength="42.3" lengthAdjust="spacingAndGlyphs">CDX2/UBTF</text>
<line x1="97.86" y1="355.40" x2="97.86" y2="361.20" stroke="#222" stroke-width="0.5" />
<line x1="97.86" y1="364.60" x2="97.86" y2="366.40" stroke="#222" stroke-width="0.5" />
<rect x="91.76" y="361.20" width="12.20" height="3.40" fill="#ED8141" stroke="#2a2a2a" stroke-width="0.45"/>
<line x1="91.76" y1="362.90" x2="103.96" y2="362.90" stroke="#2a2a2a" stroke-width="0.75" />
<line x1="97.86" y1="370.00" x2="97.86" y2="373.60" stroke="#333" stroke-width="1" />
<circle cx="97.89" cy="359.69" r="0.62" fill="#111"/>
<circle cx="98.77" cy="365.13" r="0.62" fill="#111"/>
<circle cx="98.21" cy="357.64" r="0.62" fill="#111"/>
<circle cx="97.82" cy="364.49" r="0.62" fill="#111"/>
<circle cx="98.87" cy="363.04" r="0.62" fill="#111"/>
<circle cx="98.11" cy="359.07" r="0.62" fill="#111"/>
<circle cx="97.54" cy="358.91" r="0.62" fill="#111"/>
<circle cx="96.97" cy="358.48" r="0.62" fill="#111"/>
<text transform="translate(99.96,376.8) rotate(-90)" font-size="7.9" text-anchor="end" fill="#222" stroke="#222" stroke-width="0.14" textLength="37.9" lengthAdjust="spacingAndGlyphs">BCL2/MYC</text>
<line x1="115.12" y1="356.60" x2="115.12" y2="359.50" stroke="#222" stroke-width="0.5" />
<line x1="115.12" y1="365.80" x2="115.12" y2="367.60" stroke="#222" stroke-width="0.5" />
<rect x="109.02" y="359.50" width="12.20" height="6.30" fill="#E08B00" stroke="#2a2a2a" stroke-width="0.45"/>
<line x1="109.02" y1="362.65" x2="121.22" y2="362.65" stroke="#2a2a2a" stroke-width="0.75" />
<line x1="115.12" y1="370.00" x2="115.12" y2="373.60" stroke="#333" stroke-width="1" />
<circle cx="114.10" cy="367.18" r="0.62" fill="#111"/>
<circle cx="115.29" cy="364.52" r="0.62" fill="#111"/>
<circle cx="115.37" cy="359.48" r="0.62" fill="#111"/>
<circle cx="114.60" cy="364.25" r="0.62" fill="#111"/>
<circle cx="115.29" cy="362.53" r="0.62" fill="#111"/>
<circle cx="115.42" cy="365.08" r="0.62" fill="#111"/>
<circle cx="114.02" cy="360.76" r="0.62" fill="#111"/>
<circle cx="116.02" cy="362.43" r="0.62" fill="#111"/>
<text transform="translate(117.22,376.8) rotate(-90)" font-size="7.9" text-anchor="end" fill="#222" stroke="#222" stroke-width="0.14" textLength="70.6" lengthAdjust="spacingAndGlyphs">CRLF2 (non–Ph-like)</text>
<line x1="132.38" y1="352.90" x2="132.38" y2="358.90" stroke="#222" stroke-width="0.5" />
<line x1="132.38" y1="362.30" x2="132.38" y2="364.10" stroke="#222" stroke-width="0.5" />
<rect x="126.28" y="358.90" width="12.20" height="3.40" fill="#CF9400" stroke="#2a2a2a" stroke-width="0.45"/>
<line x1="126.28" y1="360.60" x2="138.48" y2="360.60" stroke="#2a2a2a" stroke-width="0.75" />
<line x1="132.38" y1="370.00" x2="132.38" y2="373.60" stroke="#333" stroke-width="1" />
<circle cx="132.97" cy="362.87" r="0.62" fill="#111"/>
<circle cx="131.11" cy="360.34" r="0.62" fill="#111"/>
<circle cx="132.77" cy="362.87" r="0.62" fill="#111"/>
<circle cx="132.27" cy="359.35" r="0.62" fill="#111"/>
<circle cx="131.92" cy="360.72" r="0.62" fill="#111"/>
<circle cx="132.09" cy="360.36" r="0.62" fill="#111"/>
<circle cx="133.41" cy="361.16" r="0.62" fill="#111"/>
<circle cx="132.07" cy="361.44" r="0.62" fill="#111"/>
<circle cx="133.36" cy="354.17" r="0.62" fill="#111"/>
<circle cx="131.66" cy="361.47" r="0.62" fill="#111"/>
<circle cx="133.17" cy="360.25" r="0.62" fill="#111"/>
<circle cx="132.98" cy="358.46" r="0.62" fill="#111"/>
<circle cx="132.26" cy="358.98" r="0.62" fill="#111"/>
<circle cx="132.57" cy="358.92" r="0.62" fill="#111"/>
<circle cx="133.79" cy="360.06" r="0.62" fill="#111"/>
<circle cx="132.61" cy="354.64" r="0.62" fill="#111"/>
<circle cx="132.14" cy="359.98" r="0.62" fill="#111"/>
<circle cx="132.65" cy="364.20" r="0.62" fill="#111"/>
<circle cx="132.66" cy="360.71" r="0.62" fill="#111"/>
<circle cx="132.55" cy="359.53" r="0.62" fill="#111"/>
<circle cx="134.08" cy="352.56" r="0.62" fill="#111"/>
<circle cx="132.63" cy="358.89" r="0.62" fill="#111"/>
<circle cx="130.47" cy="358.25" r="0.62" fill="#111"/>
<circle cx="132.04" cy="360.05" r="0.62" fill="#111"/>
<circle cx="132.98" cy="360.08" r="0.62" fill="#111"/>
<circle cx="133.42" cy="362.31" r="0.62" fill="#111"/>
<circle cx="133.14" cy="359.30" r="0.62" fill="#111"/>
<circle cx="130.50" cy="361.59" r="0.62" fill="#111"/>
<circle cx="132.50" cy="360.66" r="0.62" fill="#111"/>
<circle cx="133.22" cy="358.26" r="0.62" fill="#111"/>
<circle cx="132.32" cy="359.61" r="0.62" fill="#111"/>
<circle cx="133.45" cy="356.56" r="0.62" fill="#111"/>
<circle cx="133.02" cy="364.13" r="0.62" fill="#111"/>
<circle cx="132.19" cy="359.32" r="0.62" fill="#111"/>
<circle cx="131.31" cy="359.20" r="0.62" fill="#111"/>
<circle cx="131.32" cy="357.01" r="0.62" fill="#111"/>
<circle cx="133.27" cy="357.90" r="0.62" fill="#111"/>
<circle cx="132.90" cy="361.25" r="0.62" fill="#111"/>
<circle cx="132.92" cy="356.29" r="0.62" fill="#111"/>
<circle cx="133.49" cy="362.42" r="0.62" fill="#111"/>
<circle cx="131.00" cy="355.84" r="0.62" fill="#111"/>
<circle cx="133.36" cy="354.75" r="0.62" fill="#111"/>
<circle cx="133.43" cy="358.92" r="0.62" fill="#111"/>
<circle cx="131.67" cy="362.56" r="0.62" fill="#111"/>
<circle cx="131.86" cy="359.50" r="0.62" fill="#111"/>
<text transform="translate(134.48,376.8) rotate(-90)" font-size="7.9" text-anchor="end" fill="#222" stroke="#222" stroke-width="0.14" textLength="20.2" lengthAdjust="spacingAndGlyphs">DUX4</text>
<line x1="149.64" y1="352.90" x2="149.64" y2="358.90" stroke="#222" stroke-width="0.5" />
<line x1="149.64" y1="362.80" x2="149.64" y2="364.60" stroke="#222" stroke-width="0.5" />
<rect x="143.54" y="358.90" width="12.20" height="3.90" fill="#BB9D00" stroke="#2a2a2a" stroke-width="0.45"/>
<line x1="143.54" y1="360.85" x2="155.74" y2="360.85" stroke="#2a2a2a" stroke-width="0.75" />
<line x1="149.64" y1="370.00" x2="149.64" y2="373.60" stroke="#333" stroke-width="1" />
<circle cx="150.35" cy="358.18" r="0.62" fill="#111"/>
<circle cx="148.03" cy="360.32" r="0.62" fill="#111"/>
<circle cx="149.37" cy="363.24" r="0.62" fill="#111"/>
<circle cx="149.63" cy="354.70" r="0.62" fill="#111"/>
<circle cx="150.22" cy="361.56" r="0.62" fill="#111"/>
<circle cx="150.68" cy="360.57" r="0.62" fill="#111"/>
<circle cx="150.77" cy="360.80" r="0.62" fill="#111"/>
<circle cx="148.27" cy="358.42" r="0.62" fill="#111"/>
<circle cx="150.39" cy="361.24" r="0.62" fill="#111"/>
<circle cx="149.23" cy="358.21" r="0.62" fill="#111"/>
<circle cx="149.80" cy="362.82" r="0.62" fill="#111"/>
<circle cx="149.50" cy="360.89" r="0.62" fill="#111"/>
<circle cx="148.76" cy="361.16" r="0.62" fill="#111"/>
<circle cx="150.35" cy="357.82" r="0.62" fill="#111"/>
<circle cx="150.19" cy="359.73" r="0.62" fill="#111"/>
<circle cx="148.55" cy="356.44" r="0.62" fill="#111"/>
<circle cx="149.19" cy="357.67" r="0.62" fill="#111"/>
<circle cx="148.57" cy="356.43" r="0.62" fill="#111"/>
<circle cx="149.56" cy="361.25" r="0.62" fill="#111"/>
<circle cx="149.19" cy="363.65" r="0.62" fill="#111"/>
<circle cx="148.28" cy="355.32" r="0.62" fill="#111"/>
<circle cx="149.84" cy="358.62" r="0.62" fill="#111"/>
<circle cx="149.32" cy="360.71" r="0.62" fill="#111"/>
<circle cx="150.57" cy="359.52" r="0.62" fill="#111"/>
<circle cx="150.10" cy="358.39" r="0.62" fill="#111"/>
<circle cx="149.43" cy="362.33" r="0.62" fill="#111"/>
<circle cx="149.31" cy="364.38" r="0.62" fill="#111"/>
<circle cx="148.99" cy="363.72" r="0.62" fill="#111"/>
<circle cx="150.12" cy="362.66" r="0.62" fill="#111"/>
<circle cx="149.01" cy="360.65" r="0.62" fill="#111"/>
<circle cx="149.58" cy="359.98" r="0.62" fill="#111"/>
<circle cx="148.93" cy="354.00" r="0.62" fill="#111"/>
<circle cx="149.39" cy="360.06" r="0.62" fill="#111"/>
<circle cx="151.51" cy="356.46" r="0.62" fill="#111"/>
<circle cx="150.44" cy="358.76" r="0.62" fill="#111"/>
<circle cx="150.82" cy="359.67" r="0.62" fill="#111"/>
<circle cx="149.94" cy="358.86" r="0.62" fill="#111"/>
<circle cx="149.87" cy="363.48" r="0.62" fill="#111"/>
<circle cx="149.15" cy="363.52" r="0.62" fill="#111"/>
<circle cx="149.84" cy="357.40" r="0.62" fill="#111"/>
<circle cx="149.77" cy="356.03" r="0.62" fill="#111"/>
<circle cx="148.80" cy="363.64" r="0.62" fill="#111"/>
<circle cx="148.70" cy="363.15" r="0.62" fill="#111"/>
<circle cx="149.03" cy="363.19" r="0.62" fill="#111"/>
<circle cx="149.82" cy="358.53" r="0.62" fill="#111"/>
<text transform="translate(151.74,376.8) rotate(-90)" font-size="7.9" text-anchor="end" fill="#222" stroke="#222" stroke-width="0.14" textLength="48.1" lengthAdjust="spacingAndGlyphs">ETV6::RUNX1</text>
<line x1="166.90" y1="357.70" x2="166.90" y2="360.70" stroke="#222" stroke-width="0.5" />
<line x1="166.90" y1="363.50" x2="166.90" y2="365.30" stroke="#222" stroke-width="0.5" />
<rect x="160.80" y="360.70" width="12.20" height="2.80" fill="#A3A500" stroke="#2a2a2a" stroke-width="0.45"/>
<line x1="160.80" y1="362.10" x2="173.00" y2="362.10" stroke="#2a2a2a" stroke-width="0.75" />
<line x1="166.90" y1="370.00" x2="166.90" y2="373.60" stroke="#333" stroke-width="1" />
<circle cx="166.39" cy="360.52" r="0.62" fill="#111"/>
<circle cx="166.81" cy="360.67" r="0.62" fill="#111"/>
<circle cx="166.67" cy="360.87" r="0.62" fill="#111"/>
<circle cx="167.45" cy="358.57" r="0.62" fill="#111"/>
<circle cx="166.82" cy="360.75" r="0.62" fill="#111"/>
<circle cx="167.01" cy="359.97" r="0.62" fill="#111"/>
<circle cx="167.19" cy="359.35" r="0.62" fill="#111"/>
<circle cx="167.64" cy="358.53" r="0.62" fill="#111"/>
<circle cx="165.57" cy="361.07" r="0.62" fill="#111"/>
<circle cx="166.94" cy="362.33" r="0.62" fill="#111"/>
<circle cx="166.17" cy="360.65" r="0.62" fill="#111"/>
<circle cx="168.00" cy="359.61" r="0.62" fill="#111"/>
<circle cx="167.25" cy="361.57" r="0.62" fill="#111"/>
<circle cx="167.02" cy="363.46" r="0.62" fill="#111"/>
<text transform="translate(169.00,376.8) rotate(-90)" font-size="7.9" text-anchor="end" fill="#222" stroke="#222" stroke-width="0.14" textLength="62.9" lengthAdjust="spacingAndGlyphs">ETV6::RUNX1-like</text>
<line x1="184.16" y1="359.50" x2="184.16" y2="362.80" stroke="#222" stroke-width="0.5" />
<line x1="184.16" y1="365.30" x2="184.16" y2="367.10" stroke="#222" stroke-width="0.5" />
<rect x="178.06" y="362.80" width="12.20" height="2.50" fill="#85AD00" stroke="#2a2a2a" stroke-width="0.45"/>
<line x1="178.06" y1="364.05" x2="190.26" y2="364.05" stroke="#2a2a2a" stroke-width="0.75" />
<line x1="184.16" y1="370.00" x2="184.16" y2="373.60" stroke="#333" stroke-width="1" />
<circle cx="185.32" cy="362.73" r="0.62" fill="#111"/>
<circle cx="184.84" cy="364.73" r="0.62" fill="#111"/>
<circle cx="183.95" cy="363.09" r="0.62" fill="#111"/>
<circle cx="184.91" cy="364.01" r="0.62" fill="#111"/>
<circle cx="185.03" cy="366.33" r="0.62" fill="#111"/>
<circle cx="184.01" cy="366.35" r="0.62" fill="#111"/>
<circle cx="184.85" cy="363.60" r="0.62" fill="#111"/>
<circle cx="184.16" cy="364.26" r="0.62" fill="#111"/>
<circle cx="184.71" cy="364.27" r="0.62" fill="#111"/>
<circle cx="184.18" cy="363.80" r="0.62" fill="#111"/>
<circle cx="183.99" cy="362.10" r="0.62" fill="#111"/>
<circle cx="184.64" cy="361.25" r="0.62" fill="#111"/>
<circle cx="183.85" cy="361.67" r="0.62" fill="#111"/>
<circle cx="182.75" cy="363.47" r="0.62" fill="#111"/>
<circle cx="184.00" cy="360.67" r="0.62" fill="#111"/>
<circle cx="183.17" cy="365.76" r="0.62" fill="#111"/>
<circle cx="184.03" cy="364.39" r="0.62" fill="#111"/>
<circle cx="182.89" cy="364.36" r="0.62" fill="#111"/>
<circle cx="184.60" cy="365.76" r="0.62" fill="#111"/>
<circle cx="182.93" cy="362.45" r="0.62" fill="#111"/>
<circle cx="184.18" cy="361.79" r="0.62" fill="#111"/>
<circle cx="184.33" cy="363.62" r="0.62" fill="#111"/>
<circle cx="183.24" cy="365.76" r="0.62" fill="#111"/>
<circle cx="183.81" cy="361.75" r="0.62" fill="#111"/>
<circle cx="184.50" cy="362.01" r="0.62" fill="#111"/>
<circle cx="183.05" cy="364.41" r="0.62" fill="#111"/>
<circle cx="184.12" cy="359.72" r="0.62" fill="#111"/>
<circle cx="183.63" cy="363.20" r="0.62" fill="#111"/>
<circle cx="184.04" cy="360.18" r="0.62" fill="#111"/>
<circle cx="182.25" cy="363.72" r="0.62" fill="#111"/>
<circle cx="184.26" cy="365.08" r="0.62" fill="#111"/>
<circle cx="183.20" cy="359.76" r="0.62" fill="#111"/>
<circle cx="184.13" cy="363.14" r="0.62" fill="#111"/>
<circle cx="183.56" cy="359.54" r="0.62" fill="#111"/>
<circle cx="183.65" cy="363.21" r="0.62" fill="#111"/>
<circle cx="183.21" cy="360.46" r="0.62" fill="#111"/>
<circle cx="183.82" cy="364.09" r="0.62" fill="#111"/>
<circle cx="184.23" cy="361.05" r="0.62" fill="#111"/>
<circle cx="184.93" cy="366.80" r="0.62" fill="#111"/>
<circle cx="184.25" cy="367.05" r="0.62" fill="#111"/>
<circle cx="184.58" cy="363.21" r="0.62" fill="#111"/>
<circle cx="185.80" cy="364.62" r="0.62" fill="#111"/>
<circle cx="184.52" cy="364.36" r="0.62" fill="#111"/>
<circle cx="184.05" cy="363.47" r="0.62" fill="#111"/>
<circle cx="184.33" cy="364.99" r="0.62" fill="#111"/>
<circle cx="185.64" cy="362.11" r="0.62" fill="#111"/>
<circle cx="183.59" cy="364.21" r="0.62" fill="#111"/>
<circle cx="184.34" cy="363.55" r="0.62" fill="#111"/>
<circle cx="185.33" cy="365.78" r="0.62" fill="#111"/>
<circle cx="184.17" cy="360.44" r="0.62" fill="#111"/>
<text transform="translate(186.26,376.8) rotate(-90)" font-size="7.9" text-anchor="end" fill="#222" stroke="#222" stroke-width="0.14" textLength="63.5" lengthAdjust="spacingAndGlyphs">High hyperdiploid</text>
<line x1="201.42" y1="357.30" x2="201.42" y2="361.00" stroke="#222" stroke-width="0.5" />
<line x1="201.42" y1="364.20" x2="201.42" y2="366.00" stroke="#222" stroke-width="0.5" />
<rect x="195.32" y="361.00" width="12.20" height="3.20" fill="#5BB300" stroke="#2a2a2a" stroke-width="0.45"/>
<line x1="195.32" y1="362.60" x2="207.52" y2="362.60" stroke="#2a2a2a" stroke-width="0.75" />
<line x1="201.42" y1="370.00" x2="201.42" y2="373.60" stroke="#333" stroke-width="1" />
<circle cx="201.89" cy="363.65" r="0.62" fill="#111"/>
<circle cx="201.08" cy="362.24" r="0.62" fill="#111"/>
<circle cx="200.95" cy="362.54" r="0.62" fill="#111"/>
<circle cx="201.99" cy="360.45" r="0.62" fill="#111"/>
<circle cx="201.06" cy="364.54" r="0.62" fill="#111"/>
<circle cx="203.02" cy="361.58" r="0.62" fill="#111"/>
<text transform="translate(203.52,376.8) rotate(-90)" font-size="7.9" text-anchor="end" fill="#222" stroke="#222" stroke-width="0.14" textLength="13.5" lengthAdjust="spacingAndGlyphs">HLF</text>
<line x1="218.68" y1="356.60" x2="218.68" y2="361.60" stroke="#222" stroke-width="0.5" />
<line x1="218.68" y1="364.60" x2="218.68" y2="366.40" stroke="#222" stroke-width="0.5" />
<rect x="212.58" y="361.60" width="12.20" height="3.00" fill="#00B81F" stroke="#2a2a2a" stroke-width="0.45"/>
<line x1="212.58" y1="363.10" x2="224.78" y2="363.10" stroke="#2a2a2a" stroke-width="0.75" />
<line x1="218.68" y1="370.00" x2="218.68" y2="373.60" stroke="#333" stroke-width="1" />
<circle cx="217.46" cy="361.75" r="0.62" fill="#111"/>
<circle cx="219.93" cy="364.72" r="0.62" fill="#111"/>
<circle cx="219.50" cy="361.17" r="0.62" fill="#111"/>
<circle cx="218.36" cy="356.85" r="0.62" fill="#111"/>
<circle cx="218.70" cy="358.85" r="0.62" fill="#111"/>
<circle cx="217.67" cy="361.04" r="0.62" fill="#111"/>
<circle cx="218.05" cy="357.87" r="0.62" fill="#111"/>
<circle cx="218.79" cy="364.50" r="0.62" fill="#111"/>
<circle cx="218.35" cy="359.20" r="0.62" fill="#111"/>
<circle cx="218.19" cy="358.57" r="0.62" fill="#111"/>
<circle cx="219.08" cy="361.61" r="0.62" fill="#111"/>
<circle cx="220.15" cy="361.90" r="0.62" fill="#111"/>
<circle cx="218.31" cy="366.56" r="0.62" fill="#111"/>
<circle cx="218.80" cy="361.25" r="0.62" fill="#111"/>
<text transform="translate(220.78,376.8) rotate(-90)" font-size="7.9" text-anchor="end" fill="#222" stroke="#222" stroke-width="0.14" textLength="28.9" lengthAdjust="spacingAndGlyphs">iAMP21</text>
<line x1="235.94" y1="362.00" x2="235.94" y2="362.80" stroke="#222" stroke-width="0.5" />
<line x1="235.94" y1="364.60" x2="235.94" y2="366.40" stroke="#222" stroke-width="0.5" />
<rect x="229.84" y="362.80" width="12.20" height="1.80" fill="#00BC59" stroke="#2a2a2a" stroke-width="0.45"/>
<line x1="229.84" y1="363.70" x2="242.04" y2="363.70" stroke="#2a2a2a" stroke-width="0.75" />
<line x1="235.94" y1="370.00" x2="235.94" y2="373.60" stroke="#333" stroke-width="1" />
<circle cx="235.98" cy="362.35" r="0.62" fill="#111"/>
<circle cx="236.48" cy="362.71" r="0.62" fill="#111"/>
<circle cx="235.21" cy="362.33" r="0.62" fill="#111"/>
<circle cx="236.38" cy="363.29" r="0.62" fill="#111"/>
<text transform="translate(238.04,376.8) rotate(-90)" font-size="7.9" text-anchor="end" fill="#222" stroke="#222" stroke-width="0.14" textLength="46.2" lengthAdjust="spacingAndGlyphs">IKZF1 N159Y</text>
<line x1="253.20" y1="349.90" x2="253.20" y2="355.90" stroke="#222" stroke-width="0.5" />
<line x1="253.20" y1="361.20" x2="253.20" y2="363.00" stroke="#222" stroke-width="0.5" />
<rect x="247.10" y="355.90" width="12.20" height="5.30" fill="#00BF7D" stroke="#2a2a2a" stroke-width="0.45"/>
<line x1="247.10" y1="358.55" x2="259.30" y2="358.55" stroke="#2a2a2a" stroke-width="0.75" />
<line x1="253.20" y1="370.00" x2="253.20" y2="373.60" stroke="#333" stroke-width="1" />
<circle cx="253.56" cy="357.13" r="0.62" fill="#111"/>
<circle cx="253.13" cy="359.70" r="0.62" fill="#111"/>
<circle cx="253.13" cy="346.19" r="0.62" fill="#111"/>
<circle cx="253.72" cy="358.35" r="0.62" fill="#111"/>
<circle cx="253.30" cy="359.92" r="0.62" fill="#111"/>
<circle cx="253.09" cy="360.28" r="0.62" fill="#111"/>
<circle cx="253.19" cy="351.77" r="0.62" fill="#111"/>
<circle cx="253.19" cy="361.87" r="0.62" fill="#111"/>
<circle cx="253.72" cy="360.06" r="0.62" fill="#111"/>
<circle cx="253.11" cy="356.23" r="0.62" fill="#111"/>
<circle cx="254.24" cy="360.08" r="0.62" fill="#111"/>
<circle cx="252.80" cy="354.72" r="0.62" fill="#111"/>
<circle cx="254.38" cy="359.13" r="0.62" fill="#111"/>
<circle cx="253.50" cy="361.82" r="0.62" fill="#111"/>
<circle cx="253.57" cy="352.42" r="0.62" fill="#111"/>
<circle cx="253.58" cy="354.39" r="0.62" fill="#111"/>
<circle cx="252.29" cy="355.61" r="0.62" fill="#111"/>
<circle cx="253.06" cy="356.73" r="0.62" fill="#111"/>
<circle cx="252.95" cy="350.95" r="0.62" fill="#111"/>
<circle cx="253.94" cy="355.49" r="0.62" fill="#111"/>
<circle cx="253.25" cy="351.81" r="0.62" fill="#111"/>
<circle cx="253.72" cy="356.79" r="0.62" fill="#111"/>
<circle cx="252.15" cy="355.26" r="0.62" fill="#111"/>
<circle cx="253.21" cy="356.98" r="0.62" fill="#111"/>
<circle cx="253.23" cy="355.53" r="0.62" fill="#111"/>
<circle cx="253.38" cy="358.17" r="0.62" fill="#111"/>
<circle cx="253.53" cy="351.89" r="0.62" fill="#111"/>
<circle cx="252.10" cy="356.60" r="0.62" fill="#111"/>
<circle cx="253.42" cy="348.26" r="0.62" fill="#111"/>
<circle cx="252.74" cy="360.65" r="0.62" fill="#111"/>
<circle cx="252.75" cy="362.05" r="0.62" fill="#111"/>
<circle cx="253.21" cy="358.14" r="0.62" fill="#111"/>
<circle cx="253.62" cy="355.64" r="0.62" fill="#111"/>
<circle cx="253.76" cy="362.21" r="0.62" fill="#111"/>
<circle cx="253.85" cy="355.48" r="0.62" fill="#111"/>
<circle cx="253.46" cy="360.67" r="0.62" fill="#111"/>
<circle cx="253.77" cy="355.89" r="0.62" fill="#111"/>
<circle cx="252.94" cy="361.93" r="0.62" fill="#111"/>
<circle cx="252.85" cy="351.06" r="0.62" fill="#111"/>
<circle cx="252.61" cy="357.52" r="0.62" fill="#111"/>
<circle cx="253.08" cy="355.12" r="0.62" fill="#111"/>
<circle cx="253.84" cy="344.18" r="0.62" fill="#111"/>
<circle cx="252.39" cy="346.00" r="0.62" fill="#111"/>
<circle cx="254.22" cy="350.88" r="0.62" fill="#111"/>
<circle cx="252.10" cy="358.56" r="0.62" fill="#111"/>
<circle cx="254.33" cy="357.76" r="0.62" fill="#111"/>
<circle cx="252.12" cy="342.16" r="0.62" fill="#111"/>
<circle cx="253.88" cy="351.10" r="0.62" fill="#111"/>
<circle cx="253.67" cy="355.56" r="0.62" fill="#111"/>
<circle cx="252.94" cy="355.39" r="0.62" fill="#111"/>
<text transform="translate(255.30,376.8) rotate(-90)" font-size="7.9" text-anchor="end" fill="#222" stroke="#222" stroke-width="0.14" textLength="26" lengthAdjust="spacingAndGlyphs">KMT2A</text>
<line x1="270.46" y1="354.30" x2="270.46" y2="357.70" stroke="#222" stroke-width="0.5" />
<line x1="270.46" y1="364.20" x2="270.46" y2="366.00" stroke="#222" stroke-width="0.5" />
<rect x="264.36" y="357.70" width="12.20" height="6.50" fill="#00C19C" stroke="#2a2a2a" stroke-width="0.45"/>
<line x1="264.36" y1="360.95" x2="276.56" y2="360.95" stroke="#2a2a2a" stroke-width="0.75" />
<line x1="270.46" y1="370.00" x2="270.46" y2="373.60" stroke="#333" stroke-width="1" />
<circle cx="271.40" cy="359.21" r="0.62" fill="#111"/>
<text transform="translate(272.56,376.8) rotate(-90)" font-size="7.9" text-anchor="end" fill="#222" stroke="#222" stroke-width="0.14" textLength="41" lengthAdjust="spacingAndGlyphs">KMT2A-like</text>
<line x1="287.72" y1="358.90" x2="287.72" y2="362.30" stroke="#222" stroke-width="0.5" />
<line x1="287.72" y1="364.60" x2="287.72" y2="366.40" stroke="#222" stroke-width="0.5" />
<rect x="281.62" y="362.30" width="12.20" height="2.30" fill="#00C0B8" stroke="#2a2a2a" stroke-width="0.45"/>
<line x1="281.62" y1="363.45" x2="293.82" y2="363.45" stroke="#2a2a2a" stroke-width="0.75" />
<line x1="287.72" y1="370.00" x2="287.72" y2="373.60" stroke="#333" stroke-width="1" />
<circle cx="287.47" cy="364.58" r="0.62" fill="#111"/>
<circle cx="288.89" cy="362.69" r="0.62" fill="#111"/>
<circle cx="287.75" cy="363.78" r="0.62" fill="#111"/>
<circle cx="287.80" cy="359.09" r="0.62" fill="#111"/>
<circle cx="288.51" cy="366.25" r="0.62" fill="#111"/>
<circle cx="286.98" cy="362.58" r="0.62" fill="#111"/>
<circle cx="288.07" cy="360.31" r="0.62" fill="#111"/>
<circle cx="288.25" cy="364.59" r="0.62" fill="#111"/>
<circle cx="286.64" cy="360.01" r="0.62" fill="#111"/>
<circle cx="287.78" cy="363.06" r="0.62" fill="#111"/>
<circle cx="287.44" cy="364.74" r="0.62" fill="#111"/>
<circle cx="288.59" cy="361.78" r="0.62" fill="#111"/>
<circle cx="287.91" cy="365.72" r="0.62" fill="#111"/>
<circle cx="287.69" cy="366.51" r="0.62" fill="#111"/>
<text transform="translate(289.82,376.8) rotate(-90)" font-size="7.9" text-anchor="end" fill="#222" stroke="#222" stroke-width="0.14" textLength="61" lengthAdjust="spacingAndGlyphs">Low hyperdiploid</text>
<line x1="304.98" y1="355.80" x2="304.98" y2="361.80" stroke="#222" stroke-width="0.5" />
<line x1="304.98" y1="365.00" x2="304.98" y2="366.80" stroke="#222" stroke-width="0.5" />
<rect x="298.88" y="361.80" width="12.20" height="3.20" fill="#00BDD0" stroke="#2a2a2a" stroke-width="0.45"/>
<line x1="298.88" y1="363.40" x2="311.08" y2="363.40" stroke="#2a2a2a" stroke-width="0.75" />
<line x1="304.98" y1="370.00" x2="304.98" y2="373.60" stroke="#333" stroke-width="1" />
<circle cx="305.27" cy="363.59" r="0.62" fill="#111"/>
<circle cx="305.05" cy="359.03" r="0.62" fill="#111"/>
<circle cx="305.70" cy="360.17" r="0.62" fill="#111"/>
<circle cx="304.80" cy="361.03" r="0.62" fill="#111"/>
<circle cx="304.67" cy="358.81" r="0.62" fill="#111"/>
<circle cx="304.95" cy="358.66" r="0.62" fill="#111"/>
<circle cx="304.51" cy="362.28" r="0.62" fill="#111"/>
<circle cx="304.43" cy="365.60" r="0.62" fill="#111"/>
<circle cx="304.69" cy="366.16" r="0.62" fill="#111"/>
<circle cx="305.35" cy="362.20" r="0.62" fill="#111"/>
<circle cx="304.03" cy="356.59" r="0.62" fill="#111"/>
<circle cx="305.82" cy="365.26" r="0.62" fill="#111"/>
<circle cx="303.67" cy="362.53" r="0.62" fill="#111"/>
<circle cx="305.89" cy="361.99" r="0.62" fill="#111"/>
<circle cx="304.82" cy="359.72" r="0.62" fill="#111"/>
<circle cx="304.90" cy="360.61" r="0.62" fill="#111"/>
<text transform="translate(307.08,376.8) rotate(-90)" font-size="7.9" text-anchor="end" fill="#222" stroke="#222" stroke-width="0.14" textLength="59" lengthAdjust="spacingAndGlyphs">Low hypodiploid</text>
<line x1="322.24" y1="354.70" x2="322.24" y2="358.20" stroke="#222" stroke-width="0.5" />
<line x1="322.24" y1="361.80" x2="322.24" y2="363.60" stroke="#222" stroke-width="0.5" />
<rect x="316.14" y="358.20" width="12.20" height="3.60" fill="#00B8E5" stroke="#2a2a2a" stroke-width="0.45"/>
<line x1="316.14" y1="360.00" x2="328.34" y2="360.00" stroke="#2a2a2a" stroke-width="0.75" />
<line x1="322.24" y1="370.00" x2="322.24" y2="373.60" stroke="#333" stroke-width="1" />
<circle cx="323.45" cy="355.66" r="0.62" fill="#111"/>
<circle cx="322.38" cy="356.87" r="0.62" fill="#111"/>
<circle cx="322.90" cy="358.54" r="0.62" fill="#111"/>
<circle cx="321.97" cy="360.76" r="0.62" fill="#111"/>
<circle cx="321.86" cy="359.23" r="0.62" fill="#111"/>
<circle cx="322.06" cy="355.35" r="0.62" fill="#111"/>
<circle cx="322.68" cy="356.62" r="0.62" fill="#111"/>
<circle cx="321.54" cy="357.97" r="0.62" fill="#111"/>
<circle cx="322.78" cy="355.02" r="0.62" fill="#111"/>
<circle cx="321.76" cy="361.29" r="0.62" fill="#111"/>
<circle cx="322.55" cy="362.74" r="0.62" fill="#111"/>
<circle cx="321.79" cy="360.57" r="0.62" fill="#111"/>
<circle cx="322.81" cy="363.77" r="0.62" fill="#111"/>
<circle cx="322.17" cy="358.50" r="0.62" fill="#111"/>
<text transform="translate(324.34,376.8) rotate(-90)" font-size="7.9" text-anchor="end" fill="#222" stroke="#222" stroke-width="0.14" textLength="26.4" lengthAdjust="spacingAndGlyphs">MEF2D</text>
<line x1="339.50" y1="358.90" x2="339.50" y2="362.30" stroke="#222" stroke-width="0.5" />
<line x1="339.50" y1="364.60" x2="339.50" y2="366.40" stroke="#222" stroke-width="0.5" />
<rect x="333.40" y="362.30" width="12.20" height="2.30" fill="#00B0F6" stroke="#2a2a2a" stroke-width="0.45"/>
<line x1="333.40" y1="363.45" x2="345.60" y2="363.45" stroke="#2a2a2a" stroke-width="0.75" />
<line x1="339.50" y1="370.00" x2="339.50" y2="373.60" stroke="#333" stroke-width="1" />
<circle cx="339.03" cy="365.38" r="0.62" fill="#111"/>
<circle cx="338.29" cy="365.03" r="0.62" fill="#111"/>
<circle cx="340.31" cy="362.20" r="0.62" fill="#111"/>
<circle cx="338.53" cy="363.87" r="0.62" fill="#111"/>
<circle cx="338.31" cy="364.18" r="0.62" fill="#111"/>
<circle cx="339.85" cy="363.67" r="0.62" fill="#111"/>
<circle cx="339.95" cy="365.48" r="0.62" fill="#111"/>
<circle cx="340.12" cy="363.61" r="0.62" fill="#111"/>
<circle cx="337.78" cy="362.04" r="0.62" fill="#111"/>
<circle cx="339.27" cy="366.41" r="0.62" fill="#111"/>
<circle cx="339.53" cy="361.89" r="0.62" fill="#111"/>
<circle cx="339.69" cy="363.68" r="0.62" fill="#111"/>
<circle cx="339.13" cy="359.66" r="0.62" fill="#111"/>
<circle cx="339.71" cy="365.14" r="0.62" fill="#111"/>
<text transform="translate(341.60,376.8) rotate(-90)" font-size="7.9" text-anchor="end" fill="#222" stroke="#222" stroke-width="0.14" textLength="46.2" lengthAdjust="spacingAndGlyphs">Near haploid</text>
<line x1="356.76" y1="352.00" x2="356.76" y2="355.00" stroke="#222" stroke-width="0.5" />
<line x1="356.76" y1="361.20" x2="356.76" y2="363.00" stroke="#222" stroke-width="0.5" />
<rect x="350.66" y="355.00" width="12.20" height="6.20" fill="#00A5FF" stroke="#2a2a2a" stroke-width="0.45"/>
<line x1="350.66" y1="358.10" x2="362.86" y2="358.10" stroke="#2a2a2a" stroke-width="0.75" />
<line x1="356.76" y1="370.00" x2="356.76" y2="373.60" stroke="#333" stroke-width="1" />
<circle cx="356.37" cy="357.48" r="0.62" fill="#111"/>
<circle cx="357.14" cy="357.35" r="0.62" fill="#111"/>
<circle cx="357.13" cy="354.69" r="0.62" fill="#111"/>
<circle cx="356.77" cy="358.81" r="0.62" fill="#111"/>
<circle cx="356.57" cy="353.32" r="0.62" fill="#111"/>
<circle cx="356.34" cy="353.65" r="0.62" fill="#111"/>
<circle cx="356.33" cy="358.98" r="0.62" fill="#111"/>
<circle cx="356.05" cy="359.60" r="0.62" fill="#111"/>
<text transform="translate(358.86,376.8) rotate(-90)" font-size="7.9" text-anchor="end" fill="#222" stroke="#222" stroke-width="0.14" textLength="27.5" lengthAdjust="spacingAndGlyphs">NUTM1</text>
<line x1="374.02" y1="357.50" x2="374.02" y2="363.50" stroke="#222" stroke-width="0.5" />
<line x1="374.02" y1="365.80" x2="374.02" y2="367.60" stroke="#222" stroke-width="0.5" />
<rect x="367.92" y="363.50" width="12.20" height="2.30" fill="#7997FF" stroke="#2a2a2a" stroke-width="0.45"/>
<line x1="367.92" y1="364.65" x2="380.12" y2="364.65" stroke="#2a2a2a" stroke-width="0.75" />
<line x1="374.02" y1="370.00" x2="374.02" y2="373.60" stroke="#333" stroke-width="1" />
<circle cx="374.27" cy="365.36" r="0.62" fill="#111"/>
<circle cx="374.12" cy="363.71" r="0.62" fill="#111"/>
<circle cx="372.81" cy="363.47" r="0.62" fill="#111"/>
<circle cx="374.53" cy="363.16" r="0.62" fill="#111"/>
<circle cx="374.56" cy="364.60" r="0.62" fill="#111"/>
<circle cx="373.83" cy="362.88" r="0.62" fill="#111"/>
<circle cx="373.80" cy="362.39" r="0.62" fill="#111"/>
<circle cx="373.34" cy="362.93" r="0.62" fill="#111"/>
<circle cx="374.00" cy="358.13" r="0.62" fill="#111"/>
<circle cx="373.88" cy="367.76" r="0.62" fill="#111"/>
<circle cx="372.74" cy="366.92" r="0.62" fill="#111"/>
<circle cx="374.38" cy="366.81" r="0.62" fill="#111"/>
<circle cx="373.81" cy="363.15" r="0.62" fill="#111"/>
<circle cx="374.04" cy="364.21" r="0.62" fill="#111"/>
<circle cx="373.61" cy="359.68" r="0.62" fill="#111"/>
<circle cx="372.45" cy="358.21" r="0.62" fill="#111"/>
<circle cx="374.00" cy="363.83" r="0.62" fill="#111"/>
<circle cx="374.45" cy="364.07" r="0.62" fill="#111"/>
<circle cx="374.12" cy="366.73" r="0.62" fill="#111"/>
<circle cx="374.62" cy="362.98" r="0.62" fill="#111"/>
<circle cx="375.09" cy="364.98" r="0.62" fill="#111"/>
<circle cx="374.64" cy="360.30" r="0.62" fill="#111"/>
<circle cx="373.38" cy="362.91" r="0.62" fill="#111"/>
<circle cx="373.54" cy="366.97" r="0.62" fill="#111"/>
<circle cx="373.51" cy="359.82" r="0.62" fill="#111"/>
<circle cx="373.26" cy="363.07" r="0.62" fill="#111"/>
<circle cx="374.94" cy="363.46" r="0.62" fill="#111"/>
<circle cx="374.25" cy="358.74" r="0.62" fill="#111"/>
<circle cx="373.54" cy="363.42" r="0.62" fill="#111"/>
<circle cx="374.00" cy="361.82" r="0.62" fill="#111"/>
<circle cx="374.06" cy="363.34" r="0.62" fill="#111"/>
<circle cx="372.54" cy="360.66" r="0.62" fill="#111"/>
<circle cx="373.90" cy="363.68" r="0.62" fill="#111"/>
<circle cx="374.68" cy="358.61" r="0.62" fill="#111"/>
<circle cx="374.03" cy="364.24" r="0.62" fill="#111"/>
<circle cx="373.62" cy="365.21" r="0.62" fill="#111"/>
<circle cx="373.77" cy="360.87" r="0.62" fill="#111"/>
<circle cx="374.04" cy="366.73" r="0.62" fill="#111"/>
<circle cx="374.42" cy="365.44" r="0.62" fill="#111"/>
<circle cx="373.57" cy="365.36" r="0.62" fill="#111"/>
<circle cx="374.34" cy="365.47" r="0.62" fill="#111"/>
<circle cx="373.56" cy="360.25" r="0.62" fill="#111"/>
<circle cx="373.42" cy="364.82" r="0.62" fill="#111"/>
<circle cx="374.85" cy="366.59" r="0.62" fill="#111"/>
<circle cx="374.26" cy="363.72" r="0.62" fill="#111"/>
<circle cx="374.90" cy="366.05" r="0.62" fill="#111"/>
<circle cx="374.09" cy="358.19" r="0.62" fill="#111"/>
<circle cx="373.02" cy="365.31" r="0.62" fill="#111"/>
<circle cx="373.98" cy="358.56" r="0.62" fill="#111"/>
<circle cx="375.42" cy="363.99" r="0.62" fill="#111"/>
<circle cx="374.46" cy="362.08" r="0.62" fill="#111"/>
<circle cx="374.00" cy="366.33" r="0.62" fill="#111"/>
<circle cx="373.24" cy="360.76" r="0.62" fill="#111"/>
<circle cx="374.04" cy="363.15" r="0.62" fill="#111"/>
<circle cx="374.22" cy="365.92" r="0.62" fill="#111"/>
<text transform="translate(376.12,376.8) rotate(-90)" font-size="7.9" text-anchor="end" fill="#222" stroke="#222" stroke-width="0.14" textLength="29.8" lengthAdjust="spacingAndGlyphs">B-others</text>
<line x1="391.28" y1="350.00" x2="391.28" y2="356.00" stroke="#222" stroke-width="0.5" />
<line x1="391.28" y1="361.20" x2="391.28" y2="363.00" stroke="#222" stroke-width="0.5" />
<rect x="385.18" y="356.00" width="12.20" height="5.20" fill="#AC88FF" stroke="#2a2a2a" stroke-width="0.45"/>
<line x1="385.18" y1="358.60" x2="397.38" y2="358.60" stroke="#2a2a2a" stroke-width="0.75" />
<line x1="391.28" y1="370.00" x2="391.28" y2="373.60" stroke="#333" stroke-width="1" />
<circle cx="391.15" cy="355.23" r="0.62" fill="#111"/>
<circle cx="390.75" cy="353.18" r="0.62" fill="#111"/>
<circle cx="391.18" cy="353.62" r="0.62" fill="#111"/>
<circle cx="392.28" cy="348.95" r="0.62" fill="#111"/>
<circle cx="391.25" cy="345.28" r="0.62" fill="#111"/>
<circle cx="391.79" cy="355.72" r="0.62" fill="#111"/>
<circle cx="391.74" cy="352.63" r="0.62" fill="#111"/>
<circle cx="390.85" cy="361.73" r="0.62" fill="#111"/>
<circle cx="390.29" cy="354.46" r="0.62" fill="#111"/>
<circle cx="389.60" cy="361.25" r="0.62" fill="#111"/>
<circle cx="390.24" cy="355.29" r="0.62" fill="#111"/>
<circle cx="391.71" cy="352.54" r="0.62" fill="#111"/>
<circle cx="392.64" cy="359.68" r="0.62" fill="#111"/>
<circle cx="392.00" cy="355.39" r="0.62" fill="#111"/>
<circle cx="391.06" cy="361.89" r="0.62" fill="#111"/>
<circle cx="391.60" cy="355.50" r="0.62" fill="#111"/>
<circle cx="390.91" cy="354.17" r="0.62" fill="#111"/>
<circle cx="390.20" cy="359.45" r="0.62" fill="#111"/>
<circle cx="391.90" cy="361.09" r="0.62" fill="#111"/>
<circle cx="389.94" cy="361.45" r="0.62" fill="#111"/>
<circle cx="391.65" cy="362.19" r="0.62" fill="#111"/>
<circle cx="391.58" cy="355.45" r="0.62" fill="#111"/>
<circle cx="390.41" cy="359.78" r="0.62" fill="#111"/>
<circle cx="390.30" cy="352.44" r="0.62" fill="#111"/>
<circle cx="391.30" cy="355.90" r="0.62" fill="#111"/>
<text transform="translate(393.38,376.8) rotate(-90)" font-size="7.9" text-anchor="end" fill="#222" stroke="#222" stroke-width="0.14" textLength="40.3" lengthAdjust="spacingAndGlyphs">PAX5 P80R</text>
<line x1="408.54" y1="351.20" x2="408.54" y2="357.20" stroke="#222" stroke-width="0.5" />
<line x1="408.54" y1="362.30" x2="408.54" y2="364.10" stroke="#222" stroke-width="0.5" />
<rect x="402.44" y="357.20" width="12.20" height="5.10" fill="#CF78FF" stroke="#2a2a2a" stroke-width="0.45"/>
<line x1="402.44" y1="359.75" x2="414.64" y2="359.75" stroke="#2a2a2a" stroke-width="0.75" />
<line x1="408.54" y1="370.00" x2="408.54" y2="373.60" stroke="#333" stroke-width="1" />
<circle cx="408.07" cy="359.41" r="0.62" fill="#111"/>
<circle cx="408.31" cy="358.22" r="0.62" fill="#111"/>
<circle cx="409.63" cy="358.68" r="0.62" fill="#111"/>
<circle cx="409.12" cy="353.58" r="0.62" fill="#111"/>
<circle cx="407.76" cy="359.33" r="0.62" fill="#111"/>
<circle cx="407.92" cy="361.89" r="0.62" fill="#111"/>
<circle cx="409.44" cy="357.94" r="0.62" fill="#111"/>
<circle cx="408.72" cy="344.66" r="0.62" fill="#111"/>
<circle cx="408.15" cy="357.83" r="0.62" fill="#111"/>
<circle cx="409.35" cy="357.09" r="0.62" fill="#111"/>
<circle cx="408.56" cy="362.06" r="0.62" fill="#111"/>
<circle cx="407.78" cy="359.91" r="0.62" fill="#111"/>
<circle cx="409.62" cy="363.10" r="0.62" fill="#111"/>
<circle cx="408.28" cy="357.92" r="0.62" fill="#111"/>
<circle cx="407.76" cy="360.92" r="0.62" fill="#111"/>
<circle cx="408.14" cy="361.99" r="0.62" fill="#111"/>
<circle cx="407.38" cy="353.98" r="0.62" fill="#111"/>
<circle cx="408.77" cy="359.20" r="0.62" fill="#111"/>
<circle cx="408.35" cy="343.24" r="0.62" fill="#111"/>
<circle cx="409.21" cy="358.27" r="0.62" fill="#111"/>
<circle cx="408.06" cy="362.68" r="0.62" fill="#111"/>
<circle cx="407.39" cy="359.67" r="0.62" fill="#111"/>
<circle cx="408.31" cy="355.43" r="0.62" fill="#111"/>
<circle cx="409.29" cy="358.72" r="0.62" fill="#111"/>
<circle cx="409.66" cy="355.91" r="0.62" fill="#111"/>
<circle cx="408.68" cy="359.52" r="0.62" fill="#111"/>
<circle cx="407.63" cy="359.68" r="0.62" fill="#111"/>
<circle cx="408.75" cy="347.84" r="0.62" fill="#111"/>
<circle cx="409.09" cy="356.42" r="0.62" fill="#111"/>
<circle cx="408.55" cy="357.51" r="0.62" fill="#111"/>
<circle cx="409.16" cy="357.54" r="0.62" fill="#111"/>
<circle cx="409.66" cy="357.74" r="0.62" fill="#111"/>
<circle cx="408.36" cy="363.23" r="0.62" fill="#111"/>
<circle cx="409.78" cy="359.13" r="0.62" fill="#111"/>
<circle cx="408.41" cy="354.37" r="0.62" fill="#111"/>
<circle cx="408.91" cy="360.93" r="0.62" fill="#111"/>
<circle cx="408.84" cy="356.64" r="0.62" fill="#111"/>
<circle cx="408.25" cy="362.02" r="0.62" fill="#111"/>
<circle cx="407.77" cy="354.52" r="0.62" fill="#111"/>
<circle cx="407.59" cy="360.69" r="0.62" fill="#111"/>
<circle cx="409.19" cy="351.99" r="0.62" fill="#111"/>
<circle cx="408.10" cy="355.95" r="0.62" fill="#111"/>
<circle cx="408.78" cy="356.60" r="0.62" fill="#111"/>
<circle cx="409.17" cy="355.70" r="0.62" fill="#111"/>
<circle cx="407.70" cy="354.47" r="0.62" fill="#111"/>
<circle cx="409.14" cy="360.86" r="0.62" fill="#111"/>
<circle cx="408.96" cy="355.77" r="0.62" fill="#111"/>
<circle cx="407.86" cy="353.45" r="0.62" fill="#111"/>
<circle cx="408.90" cy="354.25" r="0.62" fill="#111"/>
<circle cx="408.96" cy="356.85" r="0.62" fill="#111"/>
<circle cx="409.47" cy="354.14" r="0.62" fill="#111"/>
<circle cx="409.39" cy="363.32" r="0.62" fill="#111"/>
<circle cx="408.75" cy="361.95" r="0.62" fill="#111"/>
<circle cx="409.28" cy="353.92" r="0.62" fill="#111"/>
<circle cx="409.08" cy="361.49" r="0.62" fill="#111"/>
<circle cx="408.94" cy="360.94" r="0.62" fill="#111"/>
<circle cx="407.79" cy="363.13" r="0.62" fill="#111"/>
<circle cx="407.61" cy="361.26" r="0.62" fill="#111"/>
<circle cx="409.28" cy="363.39" r="0.62" fill="#111"/>
<circle cx="408.43" cy="356.80" r="0.62" fill="#111"/>
<text transform="translate(410.64,376.8) rotate(-90)" font-size="7.9" text-anchor="end" fill="#222" stroke="#222" stroke-width="0.14" textLength="27.8" lengthAdjust="spacingAndGlyphs">PAX5alt</text>
<line x1="425.80" y1="357.00" x2="425.80" y2="363.00" stroke="#222" stroke-width="0.5" />
<line x1="425.80" y1="365.80" x2="425.80" y2="367.60" stroke="#222" stroke-width="0.5" />
<rect x="419.70" y="363.00" width="12.20" height="2.80" fill="#E76BF3" stroke="#2a2a2a" stroke-width="0.45"/>
<line x1="419.70" y1="364.40" x2="431.90" y2="364.40" stroke="#2a2a2a" stroke-width="0.75" />
<line x1="425.80" y1="370.00" x2="425.80" y2="373.60" stroke="#333" stroke-width="1" />
<circle cx="426.50" cy="364.21" r="0.62" fill="#111"/>
<circle cx="425.47" cy="365.55" r="0.62" fill="#111"/>
<circle cx="426.24" cy="365.76" r="0.62" fill="#111"/>
<circle cx="426.04" cy="362.17" r="0.62" fill="#111"/>
<circle cx="427.03" cy="363.22" r="0.62" fill="#111"/>
<circle cx="426.16" cy="365.93" r="0.62" fill="#111"/>
<circle cx="424.88" cy="364.90" r="0.62" fill="#111"/>
<circle cx="425.20" cy="366.83" r="0.62" fill="#111"/>
<circle cx="426.60" cy="365.61" r="0.62" fill="#111"/>
<circle cx="425.45" cy="363.61" r="0.62" fill="#111"/>
<circle cx="425.69" cy="360.12" r="0.62" fill="#111"/>
<circle cx="425.42" cy="359.08" r="0.62" fill="#111"/>
<circle cx="426.18" cy="363.09" r="0.62" fill="#111"/>
<circle cx="425.70" cy="365.66" r="0.62" fill="#111"/>
<circle cx="426.31" cy="364.50" r="0.62" fill="#111"/>
<circle cx="425.44" cy="365.26" r="0.62" fill="#111"/>
<circle cx="425.24" cy="366.07" r="0.62" fill="#111"/>
<circle cx="426.82" cy="366.17" r="0.62" fill="#111"/>
<circle cx="425.12" cy="366.19" r="0.62" fill="#111"/>
<circle cx="427.52" cy="358.07" r="0.62" fill="#111"/>
<circle cx="425.92" cy="359.25" r="0.62" fill="#111"/>
<circle cx="425.92" cy="362.89" r="0.62" fill="#111"/>
<circle cx="427.01" cy="362.93" r="0.62" fill="#111"/>
<circle cx="426.53" cy="365.32" r="0.62" fill="#111"/>
<circle cx="427.08" cy="361.91" r="0.62" fill="#111"/>
<circle cx="426.12" cy="362.47" r="0.62" fill="#111"/>
<circle cx="424.50" cy="365.53" r="0.62" fill="#111"/>
<circle cx="424.46" cy="365.76" r="0.62" fill="#111"/>
<circle cx="426.35" cy="359.32" r="0.62" fill="#111"/>
<circle cx="425.56" cy="362.87" r="0.62" fill="#111"/>
<circle cx="425.81" cy="362.89" r="0.62" fill="#111"/>
<circle cx="424.45" cy="364.59" r="0.62" fill="#111"/>
<circle cx="425.46" cy="366.24" r="0.62" fill="#111"/>
<circle cx="425.12" cy="364.90" r="0.62" fill="#111"/>
<circle cx="424.64" cy="364.21" r="0.62" fill="#111"/>
<text transform="translate(427.90,376.8) rotate(-90)" font-size="7.9" text-anchor="end" fill="#222" stroke="#222" stroke-width="0.14" textLength="38.3" lengthAdjust="spacingAndGlyphs">BCR::ABL1</text>
<line x1="443.06" y1="355.20" x2="443.06" y2="361.20" stroke="#222" stroke-width="0.5" />
<line x1="443.06" y1="364.60" x2="443.06" y2="366.40" stroke="#222" stroke-width="0.5" />
<rect x="436.96" y="361.20" width="12.20" height="3.40" fill="#F763E0" stroke="#2a2a2a" stroke-width="0.45"/>
<line x1="436.96" y1="362.90" x2="449.16" y2="362.90" stroke="#2a2a2a" stroke-width="0.75" />
<line x1="443.06" y1="370.00" x2="443.06" y2="373.60" stroke="#333" stroke-width="1" />
<circle cx="442.41" cy="348.76" r="0.62" fill="#111"/>
<circle cx="442.30" cy="363.69" r="0.62" fill="#111"/>
<circle cx="442.10" cy="360.86" r="0.62" fill="#111"/>
<circle cx="444.79" cy="363.02" r="0.62" fill="#111"/>
<circle cx="442.87" cy="347.95" r="0.62" fill="#111"/>
<circle cx="442.10" cy="365.05" r="0.62" fill="#111"/>
<circle cx="441.87" cy="362.96" r="0.62" fill="#111"/>
<circle cx="442.87" cy="362.75" r="0.62" fill="#111"/>
<circle cx="443.33" cy="363.39" r="0.62" fill="#111"/>
<circle cx="442.54" cy="355.09" r="0.62" fill="#111"/>
<circle cx="441.16" cy="361.87" r="0.62" fill="#111"/>
<circle cx="442.98" cy="360.16" r="0.62" fill="#111"/>
<circle cx="442.78" cy="362.11" r="0.62" fill="#111"/>
<circle cx="443.95" cy="360.12" r="0.62" fill="#111"/>
<circle cx="443.72" cy="364.30" r="0.62" fill="#111"/>
<circle cx="442.48" cy="362.02" r="0.62" fill="#111"/>
<circle cx="443.90" cy="361.43" r="0.62" fill="#111"/>
<circle cx="442.61" cy="360.15" r="0.62" fill="#111"/>
<circle cx="442.33" cy="359.11" r="0.62" fill="#111"/>
<circle cx="442.40" cy="359.18" r="0.62" fill="#111"/>
<circle cx="442.67" cy="357.26" r="0.62" fill="#111"/>
<circle cx="442.39" cy="356.71" r="0.62" fill="#111"/>
<circle cx="443.30" cy="360.60" r="0.62" fill="#111"/>
<circle cx="441.53" cy="358.04" r="0.62" fill="#111"/>
<circle cx="442.56" cy="362.48" r="0.62" fill="#111"/>
<circle cx="442.85" cy="362.68" r="0.62" fill="#111"/>
<circle cx="442.03" cy="362.73" r="0.62" fill="#111"/>
<circle cx="441.79" cy="363.46" r="0.62" fill="#111"/>
<circle cx="443.40" cy="361.04" r="0.62" fill="#111"/>
<circle cx="442.21" cy="355.92" r="0.62" fill="#111"/>
<circle cx="441.68" cy="362.49" r="0.62" fill="#111"/>
<circle cx="442.16" cy="356.48" r="0.62" fill="#111"/>
<circle cx="442.76" cy="360.95" r="0.62" fill="#111"/>
<circle cx="442.68" cy="360.48" r="0.62" fill="#111"/>
<circle cx="444.38" cy="364.09" r="0.62" fill="#111"/>
<circle cx="444.32" cy="365.10" r="0.62" fill="#111"/>
<circle cx="442.96" cy="360.50" r="0.62" fill="#111"/>
<circle cx="442.55" cy="357.14" r="0.62" fill="#111"/>
<circle cx="442.75" cy="364.58" r="0.62" fill="#111"/>
<circle cx="441.72" cy="356.62" r="0.62" fill="#111"/>
<circle cx="441.48" cy="359.75" r="0.62" fill="#111"/>
<circle cx="443.46" cy="365.61" r="0.62" fill="#111"/>
<circle cx="444.07" cy="356.26" r="0.62" fill="#111"/>
<circle cx="443.15" cy="348.84" r="0.62" fill="#111"/>
<circle cx="443.76" cy="364.34" r="0.62" fill="#111"/>
<circle cx="444.26" cy="360.72" r="0.62" fill="#111"/>
<circle cx="442.08" cy="363.50" r="0.62" fill="#111"/>
<circle cx="443.46" cy="364.71" r="0.62" fill="#111"/>
<circle cx="442.56" cy="363.88" r="0.62" fill="#111"/>
<circle cx="442.53" cy="364.65" r="0.62" fill="#111"/>
<circle cx="442.53" cy="362.44" r="0.62" fill="#111"/>
<circle cx="442.82" cy="365.66" r="0.62" fill="#111"/>
<circle cx="442.59" cy="360.34" r="0.62" fill="#111"/>
<circle cx="443.89" cy="363.34" r="0.62" fill="#111"/>
<circle cx="441.74" cy="357.74" r="0.62" fill="#111"/>
<text transform="translate(445.16,376.8) rotate(-90)" font-size="7.9" text-anchor="end" fill="#222" stroke="#222" stroke-width="0.14" textLength="23.3" lengthAdjust="spacingAndGlyphs">Ph-like</text>
<line x1="460.32" y1="347.50" x2="460.32" y2="353.50" stroke="#222" stroke-width="0.5" />
<line x1="460.32" y1="359.50" x2="460.32" y2="361.30" stroke="#222" stroke-width="0.5" />
<rect x="454.22" y="353.50" width="12.20" height="6.00" fill="#FF61C9" stroke="#2a2a2a" stroke-width="0.45"/>
<line x1="454.22" y1="356.50" x2="466.42" y2="356.50" stroke="#2a2a2a" stroke-width="0.75" />
<line x1="460.32" y1="370.00" x2="460.32" y2="373.60" stroke="#333" stroke-width="1" />
<circle cx="460.96" cy="358.18" r="0.62" fill="#111"/>
<circle cx="460.52" cy="352.98" r="0.62" fill="#111"/>
<circle cx="459.79" cy="354.80" r="0.62" fill="#111"/>
<circle cx="460.91" cy="357.39" r="0.62" fill="#111"/>
<circle cx="458.98" cy="359.37" r="0.62" fill="#111"/>
<circle cx="459.82" cy="358.61" r="0.62" fill="#111"/>
<circle cx="460.08" cy="357.29" r="0.62" fill="#111"/>
<circle cx="460.15" cy="353.07" r="0.62" fill="#111"/>
<circle cx="460.56" cy="352.49" r="0.62" fill="#111"/>
<circle cx="460.78" cy="358.70" r="0.62" fill="#111"/>
<circle cx="460.11" cy="351.89" r="0.62" fill="#111"/>
<circle cx="460.29" cy="354.35" r="0.62" fill="#111"/>
<circle cx="461.49" cy="350.80" r="0.62" fill="#111"/>
<circle cx="460.39" cy="359.15" r="0.62" fill="#111"/>
<circle cx="459.82" cy="352.98" r="0.62" fill="#111"/>
<circle cx="459.40" cy="351.08" r="0.62" fill="#111"/>
<circle cx="460.46" cy="354.24" r="0.62" fill="#111"/>
<circle cx="459.73" cy="358.31" r="0.62" fill="#111"/>
<circle cx="461.01" cy="356.84" r="0.62" fill="#111"/>
<circle cx="461.00" cy="353.06" r="0.62" fill="#111"/>
<circle cx="460.31" cy="357.76" r="0.62" fill="#111"/>
<circle cx="459.79" cy="349.28" r="0.62" fill="#111"/>
<circle cx="459.95" cy="352.86" r="0.62" fill="#111"/>
<circle cx="460.86" cy="360.62" r="0.62" fill="#111"/>
<circle cx="459.72" cy="349.81" r="0.62" fill="#111"/>
<circle cx="461.45" cy="350.63" r="0.62" fill="#111"/>
<circle cx="459.93" cy="360.70" r="0.62" fill="#111"/>
<circle cx="460.45" cy="353.00" r="0.62" fill="#111"/>
<circle cx="460.74" cy="353.11" r="0.62" fill="#111"/>
<circle cx="458.68" cy="352.85" r="0.62" fill="#111"/>
<circle cx="460.76" cy="341.10" r="0.62" fill="#111"/>
<circle cx="461.61" cy="350.49" r="0.62" fill="#111"/>
<circle cx="461.53" cy="357.22" r="0.62" fill="#111"/>
<circle cx="459.98" cy="353.28" r="0.62" fill="#111"/>
<circle cx="459.71" cy="353.98" r="0.62" fill="#111"/>
<circle cx="460.35" cy="361.32" r="0.62" fill="#111"/>
<circle cx="460.51" cy="355.52" r="0.62" fill="#111"/>
<circle cx="460.43" cy="359.42" r="0.62" fill="#111"/>
<circle cx="460.13" cy="352.05" r="0.62" fill="#111"/>
<circle cx="460.69" cy="353.43" r="0.62" fill="#111"/>
<circle cx="460.45" cy="353.20" r="0.62" fill="#111"/>
<circle cx="459.33" cy="349.99" r="0.62" fill="#111"/>
<circle cx="459.68" cy="355.29" r="0.62" fill="#111"/>
<circle cx="459.90" cy="353.69" r="0.62" fill="#111"/>
<circle cx="460.37" cy="353.85" r="0.62" fill="#111"/>
<circle cx="460.23" cy="348.56" r="0.62" fill="#111"/>
<circle cx="459.87" cy="360.12" r="0.62" fill="#111"/>
<circle cx="461.30" cy="360.17" r="0.62" fill="#111"/>
<circle cx="459.23" cy="356.28" r="0.62" fill="#111"/>
<circle cx="460.86" cy="360.13" r="0.62" fill="#111"/>
<text transform="translate(462.42,376.8) rotate(-90)" font-size="7.9" text-anchor="end" fill="#222" stroke="#222" stroke-width="0.14" textLength="42" lengthAdjust="spacingAndGlyphs">TCF3::PBX1</text>
<line x1="477.58" y1="357.00" x2="477.58" y2="363.00" stroke="#222" stroke-width="0.5" />
<line x1="477.58" y1="365.80" x2="477.58" y2="367.60" stroke="#222" stroke-width="0.5" />
<rect x="471.48" y="363.00" width="12.20" height="2.80" fill="#FF65AE" stroke="#2a2a2a" stroke-width="0.45"/>
<line x1="471.48" y1="364.40" x2="483.68" y2="364.40" stroke="#2a2a2a" stroke-width="0.75" />
<line x1="477.58" y1="370.00" x2="477.58" y2="373.60" stroke="#333" stroke-width="1" />
<circle cx="476.76" cy="363.83" r="0.62" fill="#111"/>
<circle cx="477.31" cy="361.63" r="0.62" fill="#111"/>
<circle cx="477.30" cy="362.47" r="0.62" fill="#111"/>
<circle cx="478.45" cy="360.77" r="0.62" fill="#111"/>
<circle cx="478.70" cy="364.18" r="0.62" fill="#111"/>
<circle cx="477.92" cy="363.50" r="0.62" fill="#111"/>
<circle cx="477.05" cy="364.56" r="0.62" fill="#111"/>
<circle cx="479.04" cy="366.54" r="0.62" fill="#111"/>
<circle cx="478.86" cy="366.50" r="0.62" fill="#111"/>
<circle cx="477.01" cy="359.06" r="0.62" fill="#111"/>
<circle cx="477.66" cy="363.17" r="0.62" fill="#111"/>
<circle cx="479.17" cy="366.96" r="0.62" fill="#111"/>
<circle cx="477.56" cy="363.59" r="0.62" fill="#111"/>
<circle cx="477.49" cy="356.68" r="0.62" fill="#111"/>
<text transform="translate(479.68,376.8) rotate(-90)" font-size="7.9" text-anchor="end" fill="#222" stroke="#222" stroke-width="0.14" textLength="28.3" lengthAdjust="spacingAndGlyphs">ZNF384</text>
<line x1="494.84" y1="363.50" x2="494.84" y2="363.50" stroke="#222" stroke-width="0.5" />
<line x1="494.84" y1="364.60" x2="494.84" y2="366.40" stroke="#222" stroke-width="0.5" />
<rect x="488.74" y="363.50" width="12.20" height="1.10" fill="#FF6C90" stroke="#2a2a2a" stroke-width="0.45"/>
<line x1="488.74" y1="364.05" x2="500.94" y2="364.05" stroke="#2a2a2a" stroke-width="0.75" />
<line x1="494.84" y1="370.00" x2="494.84" y2="373.60" stroke="#333" stroke-width="1" />
<circle cx="494.26" cy="363.55" r="0.62" fill="#111"/>
<circle cx="494.87" cy="364.56" r="0.62" fill="#111"/>
<text transform="translate(496.94,376.8) rotate(-90)" font-size="7.9" text-anchor="end" fill="#222" stroke="#222" stroke-width="0.14" textLength="42.6" lengthAdjust="spacingAndGlyphs">ZNF384-like</text>
<circle cx="80.5" cy="312.8" r="1.05" fill="#00b050"/>
<circle cx="80.6" cy="325.8" r="0.65" fill="#111"/>
<circle cx="80.6" cy="335.6" r="0.65" fill="#111"/>
<circle cx="81" cy="357.5" r="1.0" fill="#2a3590"/>
<circle cx="82" cy="358.5" r="1.0" fill="#2a3590"/>
<circle cx="80" cy="360" r="1.0" fill="#2a3590"/>
<circle cx="79.5" cy="363.8" r="1.0" fill="#2a3590"/>
<circle cx="81.5" cy="362.5" r="1.0" fill="#2a3590"/>
<text x="6.50" y="461.50" font-size="11.6" text-anchor="start" fill="#000" font-weight="bold" stroke="#000" stroke-width="0.35">C</text>
<text x="8.80" y="473.70" font-size="8.2" text-anchor="start" fill="#222" stroke="#222" stroke-width="0.08" textLength="95.1" lengthAdjust="spacingAndGlyphs" >SJALL060150_D (inversion)</text>
<text x="8.80" y="494.70" font-size="8.2" text-anchor="start" fill="#222" stroke="#222" stroke-width="0.08" textLength="102.4" lengthAdjust="spacingAndGlyphs" >SJBALL016287_D1 (deletion)</text>
<text x="8.80" y="516.60" font-size="8.2" text-anchor="start" fill="#222" stroke="#222" stroke-width="0.08" textLength="102.4" lengthAdjust="spacingAndGlyphs" >SJBALL020169_D1 (deletion)</text>
<text x="8.80" y="538.20" font-size="8.2" text-anchor="start" fill="#222" stroke="#222" stroke-width="0.08" textLength="105.8" lengthAdjust="spacingAndGlyphs" >SJBALL020165_D1 (wild type)</text>
<text x="8.80" y="568.20" font-size="8.2" text-anchor="start" fill="#222" stroke="#222" stroke-width="0.08" textLength="105" lengthAdjust="spacingAndGlyphs" >SJALL0554518_D1 (wild type)</text>
<text x="471.60" y="457.70" font-size="8.5" text-anchor="middle" fill="#222" stroke="#222" stroke-width="0.08" textLength="81.9" lengthAdjust="spacingAndGlyphs" >Ratio of exon 1b usage</text>
<text x="471.50" y="466.30" font-size="8.5" text-anchor="middle" fill="#222" stroke="#222" stroke-width="0.08" textLength="63.7" lengthAdjust="spacingAndGlyphs" >(exon 1b/exon 1a)</text>
<text x="455.40" y="477.80" font-size="7.9" text-anchor="end" fill="#222" stroke="#222" stroke-width="0.08" textLength="24.3" lengthAdjust="spacingAndGlyphs" >[0–595]</text>
<text x="455.40" y="500.80" font-size="7.9" text-anchor="end" fill="#222" stroke="#222" stroke-width="0.08" textLength="24.3" lengthAdjust="spacingAndGlyphs" >[0–310]</text>
<text x="455.40" y="522.90" font-size="7.9" text-anchor="end" fill="#222" stroke="#222" stroke-width="0.08" textLength="24.3" lengthAdjust="spacingAndGlyphs" >[0–450]</text>
<text x="455.40" y="546.40" font-size="7.9" text-anchor="end" fill="#222" stroke="#222" stroke-width="0.08" textLength="24.3" lengthAdjust="spacingAndGlyphs" >[0–490]</text>
<text x="455.40" y="574.10" font-size="7.9" text-anchor="end" fill="#222" stroke="#222" stroke-width="0.08" textLength="24.3" lengthAdjust="spacingAndGlyphs" >[0–287]</text>
<text x="461.50" y="484.20" font-size="8.5" text-anchor="start" fill="#222" stroke="#222" stroke-width="0.08" textLength="51.2" lengthAdjust="spacingAndGlyphs" >0.94 (114/121)</text>
<text x="461.50" y="504.80" font-size="8.5" text-anchor="start" fill="#222" stroke="#222" stroke-width="0.08" textLength="42.4" lengthAdjust="spacingAndGlyphs" >0.72 (71/99)</text>
<text x="461.50" y="525.60" font-size="8.5" text-anchor="start" fill="#222" stroke="#222" stroke-width="0.08" textLength="46" lengthAdjust="spacingAndGlyphs" >1.76 (160/91)</text>
<text x="461.50" y="550.60" font-size="8.5" text-anchor="start" fill="#222" stroke="#222" stroke-width="0.08" textLength="46.6" lengthAdjust="spacingAndGlyphs" >0.48 (85/176)</text>
<text x="461.50" y="577.90" font-size="8.5" text-anchor="start" fill="#222" stroke="#222" stroke-width="0.08" textLength="42.4" lengthAdjust="spacingAndGlyphs" >0.49 (29/59)</text>
<defs><clipPath id="cc"><rect x="75.8" y="440" width="382" height="160"/></clipPath></defs>
<polygon points="76.50,485.20 76.50,485.20 77.50,485.20 77.50,485.20 78.50,485.20 78.50,485.20 79.50,485.20 79.50,485.20 80.50,485.20 80.50,485.20 81.50,485.20 81.50,485.20 82.50,485.20 82.50,485.20 83.50,485.20 83.50,485.20 84.50,485.20 84.50,485.20 85.50,485.20 85.50,485.20 86.50,485.20 86.50,485.20 87.50,485.20 87.50,485.20 88.50,485.20 88.50,485.20 89.50,485.20 89.50,485.20 90.50,485.20 90.50,485.20 91.50,485.20 91.50,485.20 92.50,485.20 92.50,485.20 93.50,485.20 93.50,485.20 94.50,485.20 94.50,485.20 95.50,485.20 95.50,485.20 96.50,485.20 96.50,485.20 97.50,485.20 97.50,485.20 98.50,485.20 98.50,485.20 99.50,485.20 99.50,485.20 100.50,485.20 100.50,485.20 101.50,485.20 101.50,485.20 102.50,485.20 102.50,485.20 103.50,485.20 103.50,485.20 104.50,485.20 104.50,485.20 105.50,485.20 105.50,485.20 106.50,485.20 106.50,485.20 107.50,485.20 107.50,485.20 108.50,485.20 108.50,485.20 109.50,485.20 109.50,485.20 110.50,485.20 110.50,485.20 111.50,485.20 111.50,485.20 112.50,485.20 112.50,485.20 113.50,485.20 113.50,485.20 114.50,485.20 114.50,485.20 115.50,485.20 115.50,485.20 116.50,485.20 116.50,485.20 117.50,485.20 117.50,485.20 118.50,485.20 118.50,485.20 119.50,485.20 119.50,485.20 120.50,485.20 120.50,485.20 121.50,485.20 121.50,485.20 122.50,485.20 122.50,485.20 123.50,485.20 123.50,485.20 124.50,485.20 124.50,485.20 125.50,485.20 125.50,485.20 126.50,485.20 126.50,485.20 127.50,485.20 127.50,485.20 128.50,485.20 128.50,485.20 129.50,485.20 129.50,485.20 130.50,485.20 130.50,485.20 131.50,485.20 131.50,485.20 132.50,485.20 132.50,485.20 133.50,485.20 133.50,485.20 134.50,485.20 134.50,485.20 135.50,485.20 135.50,485.20 136.50,485.20 136.50,485.20 137.50,485.20 137.50,485.20 138.50,485.20 138.50,485.20 139.50,485.20 139.50,485.20 140.50,485.20 140.50,485.20 141.50,485.20 141.50,485.20 142.50,485.20 142.50,485.20 143.50,485.20 143.50,485.20 144.50,485.20 144.50,485.20 145.50,485.20 145.50,485.20 146.50,485.20 146.50,485.20 147.50,485.20 147.50,485.20 148.50,485.20 148.50,485.20 149.50,485.20 149.50,485.20 150.50,485.20 150.50,485.20 151.50,485.20 151.50,485.20 152.50,485.20 152.50,485.20 153.50,485.20 153.50,485.20 154.50,485.20 154.50,485.20 155.50,485.20 155.50,485.20 156.50,485.20 156.50,485.20 157.50,485.20 157.50,485.20 158.50,485.20 158.50,485.20 159.50,485.20 159.50,485.20 160.50,485.20 160.50,485.20 161.50,485.20 161.50,485.20 162.50,485.20 162.50,485.20 163.50,485.20 163.50,485.20 164.50,485.20 164.50,485.20 165.50,485.20 165.50,485.20 166.50,485.20 166.50,485.20 167.50,485.20 167.50,485.20 168.50,485.20 168.50,485.20 169.50,485.20 169.50,485.20 170.50,485.20 170.50,485.20 171.50,485.20 171.50,485.20 172.50,485.20 172.50,485.20 173.50,485.20 173.50,485.20 174.50,485.20 174.50,485.20 175.50,485.20 175.50,485.20 176.50,485.20 176.50,485.20 177.50,485.20 177.50,485.20 178.50,485.20 178.50,485.20 179.50,485.20 179.50,485.20 180.50,485.20 180.50,485.20 181.50,485.20 181.50,485.20 182.50,485.20 182.50,485.20 183.50,485.20 183.50,485.20 184.50,485.20 184.50,485.20 185.50,485.20 185.50,485.20 186.50,485.20 186.50,485.20 187.50,485.20 187.50,485.20 188.50,485.20 188.50,485.20 189.50,485.20 189.50,485.20 190.50,485.20 190.50,485.20 191.50,485.20 191.50,485.20 192.50,485.20 192.50,485.20 193.50,485.20 193.50,485.20 194.50,485.20 194.50,485.20 195.50,485.20 195.50,485.20 196.50,485.20 196.50,485.20 197.50,485.20 197.50,485.20 198.50,485.20 198.50,485.20 199.50,485.20 199.50,485.20 200.50,485.20 200.50,485.20 201.50,485.20 201.50,485.20 202.50,485.20 202.50,485.20 203.50,485.20 203.50,485.20 204.50,485.20 204.50,485.20 205.50,485.20 205.50,485.20 206.50,485.20 206.50,485.20 207.50,485.20 207.50,485.20 208.50,485.20 208.50,485.20 209.50,485.20 209.50,485.20 210.50,485.20 210.50,485.20 211.50,485.20 211.50,485.20 212.50,485.20 212.50,485.20 213.50,485.20 213.50,485.20 214.50,485.20 214.50,485.20 215.50,485.20 215.50,485.20 216.50,485.20 216.50,485.20 217.50,485.20 217.50,485.20 218.50,485.20 218.50,485.20 219.50,485.20 219.50,485.20 220.50,485.20 220.50,485.20 221.50,485.20 221.50,485.20 222.50,485.20 222.50,485.20 223.50,485.20 223.50,485.20 224.50,485.20 224.50,485.20 225.50,485.20 225.50,485.20 226.50,485.20 226.50,485.20 227.50,485.20 227.50,485.20 228.50,485.20 228.50,485.20 229.50,485.20 229.50,485.20 230.50,485.20 230.50,485.20 231.50,485.20 231.50,485.20 232.50,485.20 232.50,485.20 233.50,485.20 233.50,485.20 234.50,485.20 234.50,485.20 235.50,485.20 235.50,485.20 236.50,485.20 236.50,485.20 237.50,485.20 237.50,485.20 238.50,485.20 238.50,485.20 239.50,485.20 239.50,485.20 240.50,485.20 240.50,485.20 241.50,485.20 241.50,485.20 242.50,485.20 242.50,484.51 243.50,484.51 243.50,485.20 244.50,485.20 244.50,484.39 245.50,484.39 245.50,484.74 246.50,484.74 246.50,485.20 247.50,485.20 247.50,485.20 248.50,485.20 248.50,484.83 249.50,484.83 249.50,484.35 250.50,484.35 250.50,485.20 251.50,485.20 251.50,485.20 252.50,485.20 252.50,484.35 253.50,484.35 253.50,485.20 254.50,485.20 254.50,485.20 255.50,485.20 255.50,485.20 256.50,485.20 256.50,484.84 257.50,484.84 257.50,485.20 258.50,485.20 258.50,485.20 259.50,485.20 259.50,485.20 260.50,485.20 260.50,484.17 261.50,484.17 261.50,485.20 262.50,485.20 262.50,485.20 263.50,485.20 263.50,485.20 264.50,485.20 264.50,485.20 265.50,485.20 265.50,484.08 266.50,484.08 266.50,485.20 267.50,485.20 267.50,485.20 268.50,485.20 268.50,485.20 269.50,485.20 269.50,484.15 270.50,484.15 270.50,485.20 271.50,485.20 271.50,484.57 272.50,484.57 272.50,485.20 273.50,485.20 273.50,484.43 274.50,484.43 274.50,485.20 275.50,485.20 275.50,485.20 276.50,485.20 276.50,484.26 277.50,484.26 277.50,485.20 278.50,485.20 278.50,485.20 279.50,485.20 279.50,485.20 280.50,485.20 280.50,485.20 281.50,485.20 281.50,485.20 282.50,485.20 282.50,485.20 283.50,485.20 283.50,484.11 284.50,484.11 284.50,485.20 285.50,485.20 285.50,485.20 286.50,485.20 286.50,485.20 287.50,485.20 287.50,485.20 288.50,485.20 288.50,485.20 289.50,485.20 289.50,484.03 290.50,484.03 290.50,484.74 291.50,484.74 291.50,484.67 292.50,484.67 292.50,485.20 293.50,485.20 293.50,484.81 294.50,484.81 294.50,485.20 295.50,485.20 295.50,484.88 296.50,484.88 296.50,485.20 297.50,485.20 297.50,485.20 298.50,485.20 298.50,485.20 299.50,485.20 299.50,485.20 300.50,485.20 300.50,484.12 301.50,484.12 301.50,485.20 302.50,485.20 302.50,484.79 303.50,484.79 303.50,485.20 304.50,485.20 304.50,485.20 305.50,485.20 305.50,485.20 306.50,485.20 306.50,484.53 307.50,484.53 307.50,484.37 308.50,484.37 308.50,485.20 309.50,485.20 309.50,484.38 310.50,484.38 310.50,485.20 311.50,485.20 311.50,484.16 312.50,484.16 312.50,485.20 313.50,485.20 313.50,485.20 314.50,485.20 314.50,485.20 315.50,485.20 315.50,485.20 316.50,485.20 316.50,485.20 317.50,485.20 317.50,485.20 318.50,485.20 318.50,485.20 319.50,485.20 319.50,485.20 320.50,485.20 320.50,484.59 321.50,484.59 321.50,484.33 322.50,484.33 322.50,485.20 323.50,485.20 323.50,485.20 324.50,485.20 324.50,485.20 325.50,485.20 325.50,485.20 326.50,485.20 326.50,485.20 327.50,485.20 327.50,484.23 328.50,484.23 328.50,485.20 329.50,485.20 329.50,485.20 330.50,485.20 330.50,484.35 331.50,484.35 331.50,485.20 332.50,485.20 332.50,484.21 333.50,484.21 333.50,484.34 334.50,484.34 334.50,485.20 335.50,485.20 335.50,484.72 336.50,484.72 336.50,485.20 337.50,485.20 337.50,485.20 338.50,485.20 338.50,485.20 339.50,485.20 339.50,485.20 340.50,485.20 340.50,485.20 341.50,485.20 341.50,485.20 342.50,485.20 342.50,485.20 343.50,485.20 343.50,484.07 344.50,484.07 344.50,484.02 345.50,484.02 345.50,484.20 346.50,484.20 346.50,485.20 347.50,485.20 347.50,485.20 348.50,485.20 348.50,484.22 349.50,484.22 349.50,485.20 350.50,485.20 350.50,485.20 351.50,485.20 351.50,484.50 352.50,484.50 352.50,485.20 353.50,485.20 353.50,484.13 354.50,484.13 354.50,485.20 355.50,485.20 355.50,485.20 356.50,485.20 356.50,484.29 357.50,484.29 357.50,485.20 358.50,485.20 358.50,484.74 359.50,484.74 359.50,484.52 360.50,484.52 360.50,485.20 361.50,485.20 361.50,484.58 362.50,484.58 362.50,484.19 363.50,484.19 363.50,485.20 364.50,485.20 364.50,485.20 365.50,485.20 365.50,485.20 366.50,485.20 366.50,485.20 367.50,485.20 367.50,483.98 368.50,483.98 368.50,485.20 369.50,485.20 369.50,485.20 370.50,485.20 370.50,485.20 371.50,485.20 371.50,485.20 372.50,485.20 372.50,484.59 373.50,484.59 373.50,484.23 374.50,484.23 374.50,484.14 375.50,484.14 375.50,484.44 376.50,484.44 376.50,485.20 377.50,485.20 377.50,484.18 378.50,484.18 378.50,485.20 379.50,485.20 379.50,483.62 380.50,483.62 380.50,483.90 381.50,483.90 381.50,484.81 382.50,484.81 382.50,485.20 383.50,485.20 383.50,485.20 384.50,485.20 384.50,484.40 385.50,484.40 385.50,485.20 386.50,485.20 386.50,485.20 387.50,485.20 387.50,484.61 388.50,484.61 388.50,485.20 389.50,485.20 389.50,485.20 390.50,485.20 390.50,484.46 391.50,484.46 391.50,484.02 392.50,484.02 392.50,485.20 393.50,485.20 393.50,485.20 394.50,485.20 394.50,485.20 395.50,485.20 395.50,485.20 396.50,485.20 396.50,485.20 397.50,485.20 397.50,485.20 398.50,485.20 398.50,485.20 399.50,485.20 399.50,483.50 400.50,483.50 400.50,483.01 401.50,483.01 401.50,484.23 402.50,484.23 402.50,484.49 403.50,484.49 403.50,483.27 404.50,483.27 404.50,482.48 405.50,482.48 405.50,483.62 406.50,483.62 406.50,482.67 407.50,482.67 407.50,483.70 408.50,483.70 408.50,483.54 409.50,483.54 409.50,483.88 410.50,483.88 410.50,483.33 411.50,483.33 411.50,483.82 412.50,483.82 412.50,482.72 413.50,482.72 413.50,483.57 414.50,483.57 414.50,483.86 415.50,483.86 415.50,483.29 416.50,483.29 416.50,484.32 417.50,484.32 417.50,483.82 418.50,483.82 418.50,482.74 419.50,482.74 419.50,484.07 420.50,484.07 420.50,482.59 421.50,482.59 421.50,484.40 422.50,484.40 422.50,483.46 423.50,483.46 423.50,482.88 424.50,482.88 424.50,482.40 425.50,482.40 425.50,483.41 426.50,483.41 426.50,483.68 427.50,483.68 427.50,483.25 428.50,483.25 428.50,482.51 429.50,482.51 429.50,483.40 430.50,483.40 430.50,483.71 431.50,483.71 431.50,483.32 432.50,483.32 432.50,482.65 433.50,482.65 433.50,483.48 434.50,483.48 434.50,483.19 435.50,483.19 435.50,483.78 436.50,483.78 436.50,482.79 437.50,482.79 437.50,483.83 438.50,483.83 438.50,482.77 439.50,482.77 439.50,484.27 440.50,484.27 440.50,483.05 441.50,483.05 441.50,482.42 442.50,482.42 442.50,483.62 443.50,483.62 443.50,483.89 444.50,483.89 444.50,483.44 445.50,483.44 445.50,484.12 446.50,484.12 446.50,483.23 447.50,483.23 447.50,482.41 448.50,482.41 448.50,484.41 449.50,484.41 449.50,482.85 450.50,482.85 450.50,483.05 451.50,483.05 451.50,483.86 452.50,483.86 452.50,483.27 453.50,483.27 453.50,484.09 454.50,484.09 454.50,483.34 455.50,483.34 455.50,483.14 456.50,483.14 456.50,485.20" fill="#ff5252" />
<polygon points="307.90,485.20 307.90,482.50 311.00,482.00 313.00,480.50 314.50,481.50 315.60,479.80 316.80,481.60 318.00,480.80 319.40,482.20 319.40,485.20" fill="#ff5252" />
<polygon points="168.85,485.20 169.10,473.30 170.10,473.30 170.35,485.20" fill="#ff5252" />
<polygon points="397.45,485.20 397.70,479.10 398.70,479.10 398.95,485.20" fill="#ff5252" />
<g clip-path="url(#cc)">
<path d="M60.00,485.20 C60.00,482.55 84.64,480.40 115.00,480.40 L155.40,480.40 C163.13,480.40 169.40,482.55 169.40,485.20" fill="none" stroke="#ff5252" stroke-width="2.7"/>
<path d="M169.60,485.20 C169.60,482.55 184.65,480.40 203.20,480.40 L203.30,480.40 C221.85,480.40 236.90,482.55 236.90,485.20" fill="none" stroke="#ff5252" stroke-width="2.7"/>
<path d="M237.30,485.20 C237.30,479.13 240.44,474.20 244.30,474.20 L293.80,474.20 C302.08,474.20 308.80,479.13 308.80,485.20" fill="none" stroke="#ff5252" stroke-width="2.7"/>
<path d="M237.30,485.20 C237.30,487.57 242.68,489.50 249.30,489.50 L344.00,489.50 C374.36,489.50 399.00,487.57 399.00,485.20" fill="none" stroke="#ff5252" stroke-width="2.7"/>
</g>
<rect x="113.10" y="475.70" width="16.40" height="7.6" fill="#fff"/>
<text x="121.30" y="482.35" font-size="8.3" text-anchor="middle" fill="#222" stroke="#222" stroke-width="0.08" textLength="12.0" lengthAdjust="spacingAndGlyphs" >458</text>
<rect x="196.00" y="475.70" width="16.40" height="7.6" fill="#fff"/>
<text x="204.20" y="482.35" font-size="8.3" text-anchor="middle" fill="#222" stroke="#222" stroke-width="0.08" textLength="12.0" lengthAdjust="spacingAndGlyphs" >352</text>
<rect x="267.00" y="470.40" width="16.40" height="7.6" fill="#fff"/>
<text x="275.20" y="477.05" font-size="8.3" text-anchor="middle" fill="#222" stroke="#222" stroke-width="0.08" textLength="12.0" lengthAdjust="spacingAndGlyphs" >114</text>
<rect x="310.30" y="486.40" width="16.40" height="7.6" fill="#fff"/>
<text x="318.50" y="493.05" font-size="8.3" text-anchor="middle" fill="#222" stroke="#222" stroke-width="0.08" textLength="12.0" lengthAdjust="spacingAndGlyphs" >121</text>
<line x1="76.80" y1="485.40" x2="456.80" y2="485.40" stroke="#555" stroke-width="0.9" />
<polygon points="76.50,508.30 76.50,508.30 77.50,508.30 77.50,508.30 78.50,508.30 78.50,508.30 79.50,508.30 79.50,508.30 80.50,508.30 80.50,508.30 81.50,508.30 81.50,508.30 82.50,508.30 82.50,508.30 83.50,508.30 83.50,508.30 84.50,508.30 84.50,508.30 85.50,508.30 85.50,508.30 86.50,508.30 86.50,508.30 87.50,508.30 87.50,508.30 88.50,508.30 88.50,508.30 89.50,508.30 89.50,508.30 90.50,508.30 90.50,508.30 91.50,508.30 91.50,508.30 92.50,508.30 92.50,508.30 93.50,508.30 93.50,508.30 94.50,508.30 94.50,507.91 95.50,507.91 95.50,508.30 96.50,508.30 96.50,507.94 97.50,507.94 97.50,508.30 98.50,508.30 98.50,508.30 99.50,508.30 99.50,508.30 100.50,508.30 100.50,508.30 101.50,508.30 101.50,508.30 102.50,508.30 102.50,507.99 103.50,507.99 103.50,508.30 104.50,508.30 104.50,508.30 105.50,508.30 105.50,508.30 106.50,508.30 106.50,508.30 107.50,508.30 107.50,508.30 108.50,508.30 108.50,508.30 109.50,508.30 109.50,507.46 110.50,507.46 110.50,508.30 111.50,508.30 111.50,508.30 112.50,508.30 112.50,508.30 113.50,508.30 113.50,508.30 114.50,508.30 114.50,507.47 115.50,507.47 115.50,508.30 116.50,508.30 116.50,508.30 117.50,508.30 117.50,508.30 118.50,508.30 118.50,508.30 119.50,508.30 119.50,508.30 120.50,508.30 120.50,507.44 121.50,507.44 121.50,508.30 122.50,508.30 122.50,508.30 123.50,508.30 123.50,508.30 124.50,508.30 124.50,508.30 125.50,508.30 125.50,508.30 126.50,508.30 126.50,508.30 127.50,508.30 127.50,508.30 128.50,508.30 128.50,508.30 129.50,508.30 129.50,508.30 130.50,508.30 130.50,508.30 131.50,508.30 131.50,508.30 132.50,508.30 132.50,508.30 133.50,508.30 133.50,508.30 134.50,508.30 134.50,508.30 135.50,508.30 135.50,508.30 136.50,508.30 136.50,508.30 137.50,508.30 137.50,508.30 138.50,508.30 138.50,508.30 139.50,508.30 139.50,508.30 140.50,508.30 140.50,508.30 141.50,508.30 141.50,508.30 142.50,508.30 142.50,508.30 143.50,508.30 143.50,508.30 144.50,508.30 144.50,508.30 145.50,508.30 145.50,507.68 146.50,507.68 146.50,508.30 147.50,508.30 147.50,508.30 148.50,508.30 148.50,507.93 149.50,507.93 149.50,508.30 150.50,508.30 150.50,508.30 151.50,508.30 151.50,508.30 152.50,508.30 152.50,508.30 153.50,508.30 153.50,508.30 154.50,508.30 154.50,508.30 155.50,508.30 155.50,507.60 156.50,507.60 156.50,508.30 157.50,508.30 157.50,508.30 158.50,508.30 158.50,508.30 159.50,508.30 159.50,507.84 160.50,507.84 160.50,508.30 161.50,508.30 161.50,507.73 162.50,507.73 162.50,508.30 163.50,508.30 163.50,508.30 164.50,508.30 164.50,508.30 165.50,508.30 165.50,508.30 166.50,508.30 166.50,508.30 167.50,508.30 167.50,508.30 168.50,508.30 168.50,508.30 169.50,508.30 169.50,508.30 170.50,508.30 170.50,508.30 171.50,508.30 171.50,508.30 172.50,508.30 172.50,508.30 173.50,508.30 173.50,508.30 174.50,508.30 174.50,508.30 175.50,508.30 175.50,508.30 176.50,508.30 176.50,508.30 177.50,508.30 177.50,508.30 178.50,508.30 178.50,508.30 179.50,508.30 179.50,508.30 180.50,508.30 180.50,508.30 181.50,508.30 181.50,508.30 182.50,508.30 182.50,508.30 183.50,508.30 183.50,508.30 184.50,508.30 184.50,508.30 185.50,508.30 185.50,508.30 186.50,508.30 186.50,508.30 187.50,508.30 187.50,508.30 188.50,508.30 188.50,508.30 189.50,508.30 189.50,508.30 190.50,508.30 190.50,508.30 191.50,508.30 191.50,508.30 192.50,508.30 192.50,508.30 193.50,508.30 193.50,508.30 194.50,508.30 194.50,508.30 195.50,508.30 195.50,508.30 196.50,508.30 196.50,508.30 197.50,508.30 197.50,508.30 198.50,508.30 198.50,508.30 199.50,508.30 199.50,508.30 200.50,508.30 200.50,508.30 201.50,508.30 201.50,508.30 202.50,508.30 202.50,508.30 203.50,508.30 203.50,508.30 204.50,508.30 204.50,508.30 205.50,508.30 205.50,508.30 206.50,508.30 206.50,508.30 207.50,508.30 207.50,508.30 208.50,508.30 208.50,508.30 209.50,508.30 209.50,508.30 210.50,508.30 210.50,508.30 211.50,508.30 211.50,508.30 212.50,508.30 212.50,508.30 213.50,508.30 213.50,508.30 214.50,508.30 214.50,508.30 215.50,508.30 215.50,508.30 216.50,508.30 216.50,508.30 217.50,508.30 217.50,508.30 218.50,508.30 218.50,508.30 219.50,508.30 219.50,508.30 220.50,508.30 220.50,508.30 221.50,508.30 221.50,508.30 222.50,508.30 222.50,508.30 223.50,508.30 223.50,508.30 224.50,508.30 224.50,508.30 225.50,508.30 225.50,508.30 226.50,508.30 226.50,508.30 227.50,508.30 227.50,508.30 228.50,508.30 228.50,508.30 229.50,508.30 229.50,508.30 230.50,508.30 230.50,508.30 231.50,508.30 231.50,508.30 232.50,508.30 232.50,508.30 233.50,508.30 233.50,508.30 234.50,508.30 234.50,508.30 235.50,508.30 235.50,508.30 236.50,508.30 236.50,508.30 237.50,508.30 237.50,508.30 238.50,508.30 238.50,508.30 239.50,508.30 239.50,508.30 240.50,508.30 240.50,507.05 241.50,507.05 241.50,508.30 242.50,508.30 242.50,507.55 243.50,507.55 243.50,507.29 244.50,507.29 244.50,508.30 245.50,508.30 245.50,508.30 246.50,508.30 246.50,508.30 247.50,508.30 247.50,508.30 248.50,508.30 248.50,507.39 249.50,507.39 249.50,507.13 250.50,507.13 250.50,507.49 251.50,507.49 251.50,508.30 252.50,508.30 252.50,508.30 253.50,508.30 253.50,508.30 254.50,508.30 254.50,508.30 255.50,508.30 255.50,508.30 256.50,508.30 256.50,508.30 257.50,508.30 257.50,508.30 258.50,508.30 258.50,508.30 259.50,508.30 259.50,507.82 260.50,507.82 260.50,508.30 261.50,508.30 261.50,508.30 262.50,508.30 262.50,508.30 263.50,508.30 263.50,507.44 264.50,507.44 264.50,508.30 265.50,508.30 265.50,508.30 266.50,508.30 266.50,508.30 267.50,508.30 267.50,507.69 268.50,507.69 268.50,507.87 269.50,507.87 269.50,508.30 270.50,508.30 270.50,508.30 271.50,508.30 271.50,508.30 272.50,508.30 272.50,508.30 273.50,508.30 273.50,508.30 274.50,508.30 274.50,508.30 275.50,508.30 275.50,508.30 276.50,508.30 276.50,507.72 277.50,507.72 277.50,507.32 278.50,507.32 278.50,508.30 279.50,508.30 279.50,508.30 280.50,508.30 280.50,508.30 281.50,508.30 281.50,508.30 282.50,508.30 282.50,508.30 283.50,508.30 283.50,507.15 284.50,507.15 284.50,508.30 285.50,508.30 285.50,508.30 286.50,508.30 286.50,507.88 287.50,507.88 287.50,508.30 288.50,508.30 288.50,508.30 289.50,508.30 289.50,508.30 290.50,508.30 290.50,507.96 291.50,507.96 291.50,507.80 292.50,507.80 292.50,508.30 293.50,508.30 293.50,508.30 294.50,508.30 294.50,507.69 295.50,507.69 295.50,508.30 296.50,508.30 296.50,507.16 297.50,507.16 297.50,508.30 298.50,508.30 298.50,508.30 299.50,508.30 299.50,508.30 300.50,508.30 300.50,508.30 301.50,508.30 301.50,508.30 302.50,508.30 302.50,508.30 303.50,508.30 303.50,507.17 304.50,507.17 304.50,508.30 305.50,508.30 305.50,508.30 306.50,508.30 306.50,507.15 307.50,507.15 307.50,508.30 308.50,508.30 308.50,507.76 309.50,507.76 309.50,507.21 310.50,507.21 310.50,507.09 311.50,507.09 311.50,508.30 312.50,508.30 312.50,507.31 313.50,507.31 313.50,508.30 314.50,508.30 314.50,508.30 315.50,508.30 315.50,508.30 316.50,508.30 316.50,508.30 317.50,508.30 317.50,507.05 318.50,507.05 318.50,508.30 319.50,508.30 319.50,508.30 320.50,508.30 320.50,508.30 321.50,508.30 321.50,508.30 322.50,508.30 322.50,508.30 323.50,508.30 323.50,508.30 324.50,508.30 324.50,508.30 325.50,508.30 325.50,507.30 326.50,507.30 326.50,508.30 327.50,508.30 327.50,508.30 328.50,508.30 328.50,508.30 329.50,508.30 329.50,507.24 330.50,507.24 330.50,507.30 331.50,507.30 331.50,508.30 332.50,508.30 332.50,508.30 333.50,508.30 333.50,508.30 334.50,508.30 334.50,508.30 335.50,508.30 335.50,508.30 336.50,508.30 336.50,508.30 337.50,508.30 337.50,507.94 338.50,507.94 338.50,508.30 339.50,508.30 339.50,508.30 340.50,508.30 340.50,507.69 341.50,507.69 341.50,507.29 342.50,507.29 342.50,508.30 343.50,508.30 343.50,507.76 344.50,507.76 344.50,508.30 345.50,508.30 345.50,508.30 346.50,508.30 346.50,508.30 347.50,508.30 347.50,508.30 348.50,508.30 348.50,508.30 349.50,508.30 349.50,508.30 350.50,508.30 350.50,507.44 351.50,507.44 351.50,508.30 352.50,508.30 352.50,508.30 353.50,508.30 353.50,508.30 354.50,508.30 354.50,508.30 355.50,508.30 355.50,507.33 356.50,507.33 356.50,508.30 357.50,508.30 357.50,508.30 358.50,508.30 358.50,508.30 359.50,508.30 359.50,508.30 360.50,508.30 360.50,507.71 361.50,507.71 361.50,508.30 362.50,508.30 362.50,507.94 363.50,507.94 363.50,508.30 364.50,508.30 364.50,507.30 365.50,507.30 365.50,508.30 366.50,508.30 366.50,507.68 367.50,507.68 367.50,508.30 368.50,508.30 368.50,508.30 369.50,508.30 369.50,507.93 370.50,507.93 370.50,507.01 371.50,507.01 371.50,508.30 372.50,508.30 372.50,507.28 373.50,507.28 373.50,508.30 374.50,508.30 374.50,508.30 375.50,508.30 375.50,507.51 376.50,507.51 376.50,508.30 377.50,508.30 377.50,507.46 378.50,507.46 378.50,507.08 379.50,507.08 379.50,508.30 380.50,508.30 380.50,508.30 381.50,508.30 381.50,508.30 382.50,508.30 382.50,508.30 383.50,508.30 383.50,508.30 384.50,508.30 384.50,507.86 385.50,507.86 385.50,507.23 386.50,507.23 386.50,508.30 387.50,508.30 387.50,508.30 388.50,508.30 388.50,507.36 389.50,507.36 389.50,508.30 390.50,508.30 390.50,508.30 391.50,508.30 391.50,507.22 392.50,507.22 392.50,508.30 393.50,508.30 393.50,508.30 394.50,508.30 394.50,508.30 395.50,508.30 395.50,507.17 396.50,507.17 396.50,508.30 397.50,508.30 397.50,508.30 398.50,508.30 398.50,508.30 399.50,508.30 399.50,508.30 400.50,508.30 400.50,508.30 401.50,508.30 401.50,507.96 402.50,507.96 402.50,508.30 403.50,508.30 403.50,508.30 404.50,508.30 404.50,508.30 405.50,508.30 405.50,508.30 406.50,508.30 406.50,508.30 407.50,508.30 407.50,508.30 408.50,508.30 408.50,508.30 409.50,508.30 409.50,508.30 410.50,508.30 410.50,507.70 411.50,507.70 411.50,508.30 412.50,508.30 412.50,507.31 413.50,507.31 413.50,507.56 414.50,507.56 414.50,508.30 415.50,508.30 415.50,507.96 416.50,507.96 416.50,508.30 417.50,508.30 417.50,507.28 418.50,507.28 418.50,507.16 419.50,507.16 419.50,508.30 420.50,508.30 420.50,508.30 421.50,508.30 421.50,508.30 422.50,508.30 422.50,508.30 423.50,508.30 423.50,508.30 424.50,508.30 424.50,508.30 425.50,508.30 425.50,508.30 426.50,508.30 426.50,508.30 427.50,508.30 427.50,508.30 428.50,508.30 428.50,508.30 429.50,508.30 429.50,508.30 430.50,508.30 430.50,508.30 431.50,508.30 431.50,507.70 432.50,507.70 432.50,508.30 433.50,508.30 433.50,508.30 434.50,508.30 434.50,508.30 435.50,508.30 435.50,507.91 436.50,507.91 436.50,508.30 437.50,508.30 437.50,508.30 438.50,508.30 438.50,508.30 439.50,508.30 439.50,508.30 440.50,508.30 440.50,508.30 441.50,508.30 441.50,508.30 442.50,508.30 442.50,508.30 443.50,508.30 443.50,508.30 444.50,508.30 444.50,508.30 445.50,508.30 445.50,507.32 446.50,507.32 446.50,508.30 447.50,508.30 447.50,508.30 448.50,508.30 448.50,508.30 449.50,508.30 449.50,508.30 450.50,508.30 450.50,508.30 451.50,508.30 451.50,508.30 452.50,508.30 452.50,508.30 453.50,508.30 453.50,508.30 454.50,508.30 454.50,508.30 455.50,508.30 455.50,507.81 456.50,507.81 456.50,508.30" fill="#c82800" />
<polygon points="309.00,508.30 309.00,505.00 312.00,504.00 315.00,503.00 317.00,502.70 319.00,504.00 321.50,504.50 321.50,508.30" fill="#c82800" />
<polygon points="168.45,508.30 168.70,495.80 169.70,495.80 169.95,508.30" fill="#c82800" />
<polygon points="237.15,508.30 237.40,499.20 238.40,499.20 238.65,508.30" fill="#c82800" />
<g clip-path="url(#cc)">
<path d="M60.00,508.30 C60.00,505.43 84.64,503.10 115.00,503.10 L155.20,503.10 C162.93,503.10 169.20,505.43 169.20,508.30" fill="none" stroke="#c82800" stroke-width="2.7"/>
<path d="M169.20,508.30 C169.20,505.32 184.57,502.90 203.50,502.90 L203.60,502.90 C222.53,502.90 237.90,505.32 237.90,508.30" fill="none" stroke="#c82800" stroke-width="2.7"/>
<path d="M237.30,508.30 C237.30,505.21 250.74,502.70 267.30,502.70 L355.00,502.70 C379.84,502.70 400.00,505.21 400.00,508.30" fill="none" stroke="#c82800" stroke-width="2.7"/>
<path d="M237.30,508.30 C237.30,510.73 244.02,512.70 252.30,512.70 L297.00,512.70 C303.62,512.70 309.00,510.73 309.00,508.30" fill="none" stroke="#c82800" stroke-width="2.7"/>
</g>
<rect x="110.80" y="499.30" width="16.40" height="7.6" fill="#fff"/>
<text x="119.00" y="505.95" font-size="8.3" text-anchor="middle" fill="#222" stroke="#222" stroke-width="0.08" textLength="12.0" lengthAdjust="spacingAndGlyphs" >239</text>
<rect x="198.00" y="499.30" width="16.40" height="7.6" fill="#fff"/>
<text x="206.20" y="505.95" font-size="8.3" text-anchor="middle" fill="#222" stroke="#222" stroke-width="0.08" textLength="12.0" lengthAdjust="spacingAndGlyphs" >175</text>
<rect x="323.00" y="498.40" width="12.40" height="7.6" fill="#fff"/>
<text x="329.20" y="505.05" font-size="8.3" text-anchor="middle" fill="#222" stroke="#222" stroke-width="0.08" textLength="8.0" lengthAdjust="spacingAndGlyphs" >99</text>
<rect x="269.20" y="509.80" width="12.40" height="7.6" fill="#fff"/>
<text x="275.40" y="516.45" font-size="8.3" text-anchor="middle" fill="#222" stroke="#222" stroke-width="0.08" textLength="8.0" lengthAdjust="spacingAndGlyphs" >71</text>
<line x1="76.80" y1="508.50" x2="456.80" y2="508.50" stroke="#555" stroke-width="0.9" />
<polygon points="76.50,530.20 76.50,530.20 77.50,530.20 77.50,530.20 78.50,530.20 78.50,530.20 79.50,530.20 79.50,530.20 80.50,530.20 80.50,530.20 81.50,530.20 81.50,530.20 82.50,530.20 82.50,530.20 83.50,530.20 83.50,530.20 84.50,530.20 84.50,530.20 85.50,530.20 85.50,530.20 86.50,530.20 86.50,530.20 87.50,530.20 87.50,530.20 88.50,530.20 88.50,530.20 89.50,530.20 89.50,530.20 90.50,530.20 90.50,530.20 91.50,530.20 91.50,530.20 92.50,530.20 92.50,530.20 93.50,530.20 93.50,530.20 94.50,530.20 94.50,530.20 95.50,530.20 95.50,530.20 96.50,530.20 96.50,530.20 97.50,530.20 97.50,530.20 98.50,530.20 98.50,530.20 99.50,530.20 99.50,530.20 100.50,530.20 100.50,530.20 101.50,530.20 101.50,530.20 102.50,530.20 102.50,530.20 103.50,530.20 103.50,530.20 104.50,530.20 104.50,530.20 105.50,530.20 105.50,530.20 106.50,530.20 106.50,530.20 107.50,530.20 107.50,530.20 108.50,530.20 108.50,530.20 109.50,530.20 109.50,530.20 110.50,530.20 110.50,530.20 111.50,530.20 111.50,530.20 112.50,530.20 112.50,530.20 113.50,530.20 113.50,530.20 114.50,530.20 114.50,530.20 115.50,530.20 115.50,530.20 116.50,530.20 116.50,530.20 117.50,530.20 117.50,530.20 118.50,530.20 118.50,530.20 119.50,530.20 119.50,529.68 120.50,529.68 120.50,530.20 121.50,530.20 121.50,530.20 122.50,530.20 122.50,530.20 123.50,530.20 123.50,530.20 124.50,530.20 124.50,530.20 125.50,530.20 125.50,530.20 126.50,530.20 126.50,530.20 127.50,530.20 127.50,530.20 128.50,530.20 128.50,530.20 129.50,530.20 129.50,530.20 130.50,530.20 130.50,530.20 131.50,530.20 131.50,530.20 132.50,530.20 132.50,530.20 133.50,530.20 133.50,530.20 134.50,530.20 134.50,530.20 135.50,530.20 135.50,530.20 136.50,530.20 136.50,529.78 137.50,529.78 137.50,530.20 138.50,530.20 138.50,529.60 139.50,529.60 139.50,530.20 140.50,530.20 140.50,530.20 141.50,530.20 141.50,530.20 142.50,530.20 142.50,530.20 143.50,530.20 143.50,530.20 144.50,530.20 144.50,530.20 145.50,530.20 145.50,530.20 146.50,530.20 146.50,530.20 147.50,530.20 147.50,530.20 148.50,530.20 148.50,530.20 149.50,530.20 149.50,530.20 150.50,530.20 150.50,530.20 151.50,530.20 151.50,530.20 152.50,530.20 152.50,530.20 153.50,530.20 153.50,530.20 154.50,530.20 154.50,530.20 155.50,530.20 155.50,530.20 156.50,530.20 156.50,530.20 157.50,530.20 157.50,530.20 158.50,530.20 158.50,530.20 159.50,530.20 159.50,530.20 160.50,530.20 160.50,529.60 161.50,529.60 161.50,530.20 162.50,530.20 162.50,530.20 163.50,530.20 163.50,530.20 164.50,530.20 164.50,530.20 165.50,530.20 165.50,530.20 166.50,530.20 166.50,530.20 167.50,530.20 167.50,530.20 168.50,530.20 168.50,530.20 169.50,530.20 169.50,530.20 170.50,530.20 170.50,530.20 171.50,530.20 171.50,530.20 172.50,530.20 172.50,530.20 173.50,530.20 173.50,530.20 174.50,530.20 174.50,530.20 175.50,530.20 175.50,530.20 176.50,530.20 176.50,530.20 177.50,530.20 177.50,530.20 178.50,530.20 178.50,530.20 179.50,530.20 179.50,530.20 180.50,530.20 180.50,530.20 181.50,530.20 181.50,530.20 182.50,530.20 182.50,530.20 183.50,530.20 183.50,530.20 184.50,530.20 184.50,530.20 185.50,530.20 185.50,530.20 186.50,530.20 186.50,530.20 187.50,530.20 187.50,530.20 188.50,530.20 188.50,530.20 189.50,530.20 189.50,530.20 190.50,530.20 190.50,530.20 191.50,530.20 191.50,530.20 192.50,530.20 192.50,530.20 193.50,530.20 193.50,530.20 194.50,530.20 194.50,530.20 195.50,530.20 195.50,530.20 196.50,530.20 196.50,530.20 197.50,530.20 197.50,530.20 198.50,530.20 198.50,530.20 199.50,530.20 199.50,530.20 200.50,530.20 200.50,530.20 201.50,530.20 201.50,530.20 202.50,530.20 202.50,530.20 203.50,530.20 203.50,530.20 204.50,530.20 204.50,530.20 205.50,530.20 205.50,530.20 206.50,530.20 206.50,530.20 207.50,530.20 207.50,530.20 208.50,530.20 208.50,530.20 209.50,530.20 209.50,530.20 210.50,530.20 210.50,530.20 211.50,530.20 211.50,530.20 212.50,530.20 212.50,530.20 213.50,530.20 213.50,530.20 214.50,530.20 214.50,530.20 215.50,530.20 215.50,530.20 216.50,530.20 216.50,530.20 217.50,530.20 217.50,530.20 218.50,530.20 218.50,530.20 219.50,530.20 219.50,530.20 220.50,530.20 220.50,530.20 221.50,530.20 221.50,530.20 222.50,530.20 222.50,530.20 223.50,530.20 223.50,530.20 224.50,530.20 224.50,530.20 225.50,530.20 225.50,530.20 226.50,530.20 226.50,530.20 227.50,530.20 227.50,530.20 228.50,530.20 228.50,530.20 229.50,530.20 229.50,530.20 230.50,530.20 230.50,530.20 231.50,530.20 231.50,530.20 232.50,530.20 232.50,530.20 233.50,530.20 233.50,530.20 234.50,530.20 234.50,530.20 235.50,530.20 235.50,530.20 236.50,530.20 236.50,530.20 237.50,530.20 237.50,530.20 238.50,530.20 238.50,530.20 239.50,530.20 239.50,530.20 240.50,530.20 240.50,530.20 241.50,530.20 241.50,530.20 242.50,530.20 242.50,530.20 243.50,530.20 243.50,529.87 244.50,529.87 244.50,528.94 245.50,528.94 245.50,529.23 246.50,529.23 246.50,529.08 247.50,529.08 247.50,530.20 248.50,530.20 248.50,528.85 249.50,528.85 249.50,530.20 250.50,530.20 250.50,530.20 251.50,530.20 251.50,530.20 252.50,530.20 252.50,530.20 253.50,530.20 253.50,529.49 254.50,529.49 254.50,529.30 255.50,529.30 255.50,530.20 256.50,530.20 256.50,530.20 257.50,530.20 257.50,529.68 258.50,529.68 258.50,530.20 259.50,530.20 259.50,530.20 260.50,530.20 260.50,530.20 261.50,530.20 261.50,530.20 262.50,530.20 262.50,528.89 263.50,528.89 263.50,530.20 264.50,530.20 264.50,530.20 265.50,530.20 265.50,530.20 266.50,530.20 266.50,529.50 267.50,529.50 267.50,528.83 268.50,528.83 268.50,530.20 269.50,530.20 269.50,529.70 270.50,529.70 270.50,530.20 271.50,530.20 271.50,530.20 272.50,530.20 272.50,530.20 273.50,530.20 273.50,530.20 274.50,530.20 274.50,530.20 275.50,530.20 275.50,529.21 276.50,529.21 276.50,530.20 277.50,530.20 277.50,529.35 278.50,529.35 278.50,530.20 279.50,530.20 279.50,529.73 280.50,529.73 280.50,530.20 281.50,530.20 281.50,529.57 282.50,529.57 282.50,530.20 283.50,530.20 283.50,529.22 284.50,529.22 284.50,530.20 285.50,530.20 285.50,530.20 286.50,530.20 286.50,530.20 287.50,530.20 287.50,529.23 288.50,529.23 288.50,530.20 289.50,530.20 289.50,530.20 290.50,530.20 290.50,530.20 291.50,530.20 291.50,530.20 292.50,530.20 292.50,530.20 293.50,530.20 293.50,530.20 294.50,530.20 294.50,528.95 295.50,528.95 295.50,530.20 296.50,530.20 296.50,530.20 297.50,530.20 297.50,530.20 298.50,530.20 298.50,530.20 299.50,530.20 299.50,530.20 300.50,530.20 300.50,530.20 301.50,530.20 301.50,530.20 302.50,530.20 302.50,530.20 303.50,530.20 303.50,530.20 304.50,530.20 304.50,530.20 305.50,530.20 305.50,530.20 306.50,530.20 306.50,529.50 307.50,529.50 307.50,530.20 308.50,530.20 308.50,530.20 309.50,530.20 309.50,530.20 310.50,530.20 310.50,530.20 311.50,530.20 311.50,529.62 312.50,529.62 312.50,530.20 313.50,530.20 313.50,529.89 314.50,529.89 314.50,530.20 315.50,530.20 315.50,530.20 316.50,530.20 316.50,530.20 317.50,530.20 317.50,530.20 318.50,530.20 318.50,530.20 319.50,530.20 319.50,529.82 320.50,529.82 320.50,530.20 321.50,530.20 321.50,530.20 322.50,530.20 322.50,530.20 323.50,530.20 323.50,530.20 324.50,530.20 324.50,530.20 325.50,530.20 325.50,530.20 326.50,530.20 326.50,530.20 327.50,530.20 327.50,530.20 328.50,530.20 328.50,529.69 329.50,529.69 329.50,530.20 330.50,530.20 330.50,530.20 331.50,530.20 331.50,530.20 332.50,530.20 332.50,530.20 333.50,530.20 333.50,530.20 334.50,530.20 334.50,530.20 335.50,530.20 335.50,529.32 336.50,529.32 336.50,530.20 337.50,530.20 337.50,529.59 338.50,529.59 338.50,529.70 339.50,529.70 339.50,529.05 340.50,529.05 340.50,529.42 341.50,529.42 341.50,529.18 342.50,529.18 342.50,530.20 343.50,530.20 343.50,530.20 344.50,530.20 344.50,529.02 345.50,529.02 345.50,530.20 346.50,530.20 346.50,530.20 347.50,530.20 347.50,528.93 348.50,528.93 348.50,530.20 349.50,530.20 349.50,530.20 350.50,530.20 350.50,529.67 351.50,529.67 351.50,530.20 352.50,530.20 352.50,530.20 353.50,530.20 353.50,530.20 354.50,530.20 354.50,530.20 355.50,530.20 355.50,529.51 356.50,529.51 356.50,530.20 357.50,530.20 357.50,530.20 358.50,530.20 358.50,530.20 359.50,530.20 359.50,530.20 360.50,530.20 360.50,530.20 361.50,530.20 361.50,529.40 362.50,529.40 362.50,529.15 363.50,529.15 363.50,530.20 364.50,530.20 364.50,530.20 365.50,530.20 365.50,530.20 366.50,530.20 366.50,529.34 367.50,529.34 367.50,528.79 368.50,528.79 368.50,530.20 369.50,530.20 369.50,530.20 370.50,530.20 370.50,529.16 371.50,529.16 371.50,530.20 372.50,530.20 372.50,530.20 373.50,530.20 373.50,529.71 374.50,529.71 374.50,528.98 375.50,528.98 375.50,528.92 376.50,528.92 376.50,530.20 377.50,530.20 377.50,530.20 378.50,530.20 378.50,530.20 379.50,530.20 379.50,530.20 380.50,530.20 380.50,530.20 381.50,530.20 381.50,530.20 382.50,530.20 382.50,530.20 383.50,530.20 383.50,530.20 384.50,530.20 384.50,529.05 385.50,529.05 385.50,530.20 386.50,530.20 386.50,530.20 387.50,530.20 387.50,530.20 388.50,530.20 388.50,530.20 389.50,530.20 389.50,530.20 390.50,530.20 390.50,530.20 391.50,530.20 391.50,529.27 392.50,529.27 392.50,530.20 393.50,530.20 393.50,529.89 394.50,529.89 394.50,530.20 395.50,530.20 395.50,530.20 396.50,530.20 396.50,530.20 397.50,530.20 397.50,530.20 398.50,530.20 398.50,530.20 399.50,530.20 399.50,528.99 400.50,528.99 400.50,529.87 401.50,529.87 401.50,529.83 402.50,529.83 402.50,530.20 403.50,530.20 403.50,530.20 404.50,530.20 404.50,528.77 405.50,528.77 405.50,530.20 406.50,530.20 406.50,529.69 407.50,529.69 407.50,530.20 408.50,530.20 408.50,530.20 409.50,530.20 409.50,529.87 410.50,529.87 410.50,530.20 411.50,530.20 411.50,528.72 412.50,528.72 412.50,530.20 413.50,530.20 413.50,530.20 414.50,530.20 414.50,530.20 415.50,530.20 415.50,530.20 416.50,530.20 416.50,530.20 417.50,530.20 417.50,530.20 418.50,530.20 418.50,530.20 419.50,530.20 419.50,529.02 420.50,529.02 420.50,529.13 421.50,529.13 421.50,530.20 422.50,530.20 422.50,530.20 423.50,530.20 423.50,529.22 424.50,529.22 424.50,530.20 425.50,530.20 425.50,530.20 426.50,530.20 426.50,530.20 427.50,530.20 427.50,530.20 428.50,530.20 428.50,529.60 429.50,529.60 429.50,529.38 430.50,529.38 430.50,529.66 431.50,529.66 431.50,530.20 432.50,530.20 432.50,530.20 433.50,530.20 433.50,528.71 434.50,528.71 434.50,529.22 435.50,529.22 435.50,528.86 436.50,528.86 436.50,530.20 437.50,530.20 437.50,529.00 438.50,529.00 438.50,530.20 439.50,530.20 439.50,529.50 440.50,529.50 440.50,530.20 441.50,530.20 441.50,530.20 442.50,530.20 442.50,529.08 443.50,529.08 443.50,530.20 444.50,530.20 444.50,530.20 445.50,530.20 445.50,530.20 446.50,530.20 446.50,530.20 447.50,530.20 447.50,528.84 448.50,528.84 448.50,530.20 449.50,530.20 449.50,530.20 450.50,530.20 450.50,530.20 451.50,530.20 451.50,528.86 452.50,528.86 452.50,530.20 453.50,530.20 453.50,529.87 454.50,529.87 454.50,528.73 455.50,528.73 455.50,528.81 456.50,528.81 456.50,530.20" fill="#c82800" />
<polygon points="308.50,530.20 308.50,524.00 312.00,523.50 314.00,521.50 315.40,520.60 317.00,522.00 318.50,523.20 322.30,523.50 322.30,530.20" fill="#c82800" />
<g clip-path="url(#cc)">
<path d="M60.00,530.20 C60.00,527.38 84.64,525.10 115.00,525.10 L155.20,525.10 C162.93,525.10 169.20,527.38 169.20,530.20" fill="none" stroke="#c82800" stroke-width="2.7"/>
<path d="M169.20,530.20 C169.20,523.96 170.32,518.90 171.70,518.90 L230.90,518.90 C234.76,518.90 237.90,523.96 237.90,530.20" fill="none" stroke="#c82800" stroke-width="2.7"/>
<path d="M237.30,530.20 C237.30,527.44 245.36,525.20 255.30,525.20 L355.00,525.20 C379.84,525.20 400.00,527.44 400.00,530.20" fill="none" stroke="#c82800" stroke-width="2.7"/>
<path d="M237.30,530.20 C237.30,532.46 242.68,534.30 249.30,534.30 L302.00,534.30 C305.31,534.30 308.00,532.46 308.00,530.20" fill="none" stroke="#c82800" stroke-width="2.7"/>
</g>
<rect x="110.80" y="521.30" width="16.40" height="7.6" fill="#fff"/>
<text x="119.00" y="527.95" font-size="8.3" text-anchor="middle" fill="#222" stroke="#222" stroke-width="0.08" textLength="12.0" lengthAdjust="spacingAndGlyphs" >411</text>
<rect x="196.40" y="515.00" width="16.40" height="7.6" fill="#fff"/>
<text x="204.60" y="521.65" font-size="8.3" text-anchor="middle" fill="#222" stroke="#222" stroke-width="0.08" textLength="12.0" lengthAdjust="spacingAndGlyphs" >236</text>
<rect x="323.20" y="521.10" width="12.40" height="7.6" fill="#fff"/>
<text x="329.40" y="527.75" font-size="8.3" text-anchor="middle" fill="#222" stroke="#222" stroke-width="0.08" textLength="8.0" lengthAdjust="spacingAndGlyphs" >91</text>
<rect x="267.20" y="531.10" width="16.40" height="7.6" fill="#fff"/>
<text x="275.40" y="537.75" font-size="8.3" text-anchor="middle" fill="#222" stroke="#222" stroke-width="0.08" textLength="12.0" lengthAdjust="spacingAndGlyphs" >160</text>
<line x1="76.80" y1="530.40" x2="456.80" y2="530.40" stroke="#555" stroke-width="0.9" />
<polygon points="76.50,553.80 76.50,553.80 77.50,553.80 77.50,553.80 78.50,553.80 78.50,553.80 79.50,553.80 79.50,553.80 80.50,553.80 80.50,553.80 81.50,553.80 81.50,553.80 82.50,553.80 82.50,553.80 83.50,553.80 83.50,553.80 84.50,553.80 84.50,553.80 85.50,553.80 85.50,553.80 86.50,553.80 86.50,553.80 87.50,553.80 87.50,553.80 88.50,553.80 88.50,553.80 89.50,553.80 89.50,553.80 90.50,553.80 90.50,553.80 91.50,553.80 91.50,553.80 92.50,553.80 92.50,553.80 93.50,553.80 93.50,553.80 94.50,553.80 94.50,553.80 95.50,553.80 95.50,553.80 96.50,553.80 96.50,553.80 97.50,553.80 97.50,553.80 98.50,553.80 98.50,553.80 99.50,553.80 99.50,553.80 100.50,553.80 100.50,553.80 101.50,553.80 101.50,553.80 102.50,553.80 102.50,553.80 103.50,553.80 103.50,553.80 104.50,553.80 104.50,553.80 105.50,553.80 105.50,553.80 106.50,553.80 106.50,553.80 107.50,553.80 107.50,553.80 108.50,553.80 108.50,553.80 109.50,553.80 109.50,553.80 110.50,553.80 110.50,553.80 111.50,553.80 111.50,553.80 112.50,553.80 112.50,553.80 113.50,553.80 113.50,553.80 114.50,553.80 114.50,553.80 115.50,553.80 115.50,553.80 116.50,553.80 116.50,553.80 117.50,553.80 117.50,553.80 118.50,553.80 118.50,553.80 119.50,553.80 119.50,553.80 120.50,553.80 120.50,553.80 121.50,553.80 121.50,553.80 122.50,553.80 122.50,553.80 123.50,553.80 123.50,553.80 124.50,553.80 124.50,553.80 125.50,553.80 125.50,553.80 126.50,553.80 126.50,553.80 127.50,553.80 127.50,553.80 128.50,553.80 128.50,553.80 129.50,553.80 129.50,553.80 130.50,553.80 130.50,553.80 131.50,553.80 131.50,553.80 132.50,553.80 132.50,553.80 133.50,553.80 133.50,553.80 134.50,553.80 134.50,553.80 135.50,553.80 135.50,553.80 136.50,553.80 136.50,553.80 137.50,553.80 137.50,553.80 138.50,553.80 138.50,553.80 139.50,553.80 139.50,553.80 140.50,553.80 140.50,553.80 141.50,553.80 141.50,553.80 142.50,553.80 142.50,553.80 143.50,553.80 143.50,553.80 144.50,553.80 144.50,553.80 145.50,553.80 145.50,553.80 146.50,553.80 146.50,553.80 147.50,553.80 147.50,553.80 148.50,553.80 148.50,553.80 149.50,553.80 149.50,553.80 150.50,553.80 150.50,553.80 151.50,553.80 151.50,553.80 152.50,553.80 152.50,553.80 153.50,553.80 153.50,553.80 154.50,553.80 154.50,553.80 155.50,553.80 155.50,553.80 156.50,553.80 156.50,553.80 157.50,553.80 157.50,553.80 158.50,553.80 158.50,553.80 159.50,553.80 159.50,553.80 160.50,553.80 160.50,553.80 161.50,553.80 161.50,553.80 162.50,553.80 162.50,553.80 163.50,553.80 163.50,553.80 164.50,553.80 164.50,553.80 165.50,553.80 165.50,553.80 166.50,553.80 166.50,553.80 167.50,553.80 167.50,553.80 168.50,553.80 168.50,553.80 169.50,553.80 169.50,553.80 170.50,553.80 170.50,553.80 171.50,553.80 171.50,553.80 172.50,553.80 172.50,553.80 173.50,553.80 173.50,553.80 174.50,553.80 174.50,553.80 175.50,553.80 175.50,553.80 176.50,553.80 176.50,553.80 177.50,553.80 177.50,553.80 178.50,553.80 178.50,553.80 179.50,553.80 179.50,553.80 180.50,553.80 180.50,553.80 181.50,553.80 181.50,553.80 182.50,553.80 182.50,553.80 183.50,553.80 183.50,553.80 184.50,553.80 184.50,553.80 185.50,553.80 185.50,553.80 186.50,553.80 186.50,553.80 187.50,553.80 187.50,553.80 188.50,553.80 188.50,553.80 189.50,553.80 189.50,553.80 190.50,553.80 190.50,553.80 191.50,553.80 191.50,553.80 192.50,553.80 192.50,553.80 193.50,553.80 193.50,553.80 194.50,553.80 194.50,553.80 195.50,553.80 195.50,553.80 196.50,553.80 196.50,553.80 197.50,553.80 197.50,553.80 198.50,553.80 198.50,553.80 199.50,553.80 199.50,553.80 200.50,553.80 200.50,553.80 201.50,553.80 201.50,553.80 202.50,553.80 202.50,553.80 203.50,553.80 203.50,553.80 204.50,553.80 204.50,553.80 205.50,553.80 205.50,553.80 206.50,553.80 206.50,553.80 207.50,553.80 207.50,553.80 208.50,553.80 208.50,553.80 209.50,553.80 209.50,553.80 210.50,553.80 210.50,553.80 211.50,553.80 211.50,553.80 212.50,553.80 212.50,553.80 213.50,553.80 213.50,553.80 214.50,553.80 214.50,553.80 215.50,553.80 215.50,553.80 216.50,553.80 216.50,553.80 217.50,553.80 217.50,553.80 218.50,553.80 218.50,553.80 219.50,553.80 219.50,553.80 220.50,553.80 220.50,553.80 221.50,553.80 221.50,553.80 222.50,553.80 222.50,553.80 223.50,553.80 223.50,553.80 224.50,553.80 224.50,553.80 225.50,553.80 225.50,553.80 226.50,553.80 226.50,553.80 227.50,553.80 227.50,553.80 228.50,553.80 228.50,553.80 229.50,553.80 229.50,553.80 230.50,553.80 230.50,553.80 231.50,553.80 231.50,553.80 232.50,553.80 232.50,553.80 233.50,553.80 233.50,553.80 234.50,553.80 234.50,553.80 235.50,553.80 235.50,553.80 236.50,553.80 236.50,553.80 237.50,553.80 237.50,553.80 238.50,553.80 238.50,553.80 239.50,553.80 239.50,553.80 240.50,553.80 240.50,552.98 241.50,552.98 241.50,553.38 242.50,553.38 242.50,553.80 243.50,553.80 243.50,553.26 244.50,553.26 244.50,553.80 245.50,553.80 245.50,553.80 246.50,553.80 246.50,553.80 247.50,553.80 247.50,553.80 248.50,553.80 248.50,553.34 249.50,553.34 249.50,553.80 250.50,553.80 250.50,553.80 251.50,553.80 251.50,553.15 252.50,553.15 252.50,553.20 253.50,553.20 253.50,553.49 254.50,553.49 254.50,553.80 255.50,553.80 255.50,553.80 256.50,553.80 256.50,553.80 257.50,553.80 257.50,553.16 258.50,553.16 258.50,553.20 259.50,553.20 259.50,553.02 260.50,553.02 260.50,552.98 261.50,552.98 261.50,553.80 262.50,553.80 262.50,553.25 263.50,553.25 263.50,553.80 264.50,553.80 264.50,553.80 265.50,553.80 265.50,553.80 266.50,553.80 266.50,552.82 267.50,552.82 267.50,553.80 268.50,553.80 268.50,553.80 269.50,553.80 269.50,553.38 270.50,553.38 270.50,553.45 271.50,553.45 271.50,553.14 272.50,553.14 272.50,553.80 273.50,553.80 273.50,553.80 274.50,553.80 274.50,553.80 275.50,553.80 275.50,553.02 276.50,553.02 276.50,553.80 277.50,553.80 277.50,553.80 278.50,553.80 278.50,553.80 279.50,553.80 279.50,553.80 280.50,553.80 280.50,553.80 281.50,553.80 281.50,553.80 282.50,553.80 282.50,553.80 283.50,553.80 283.50,553.80 284.50,553.80 284.50,553.80 285.50,553.80 285.50,553.80 286.50,553.80 286.50,553.80 287.50,553.80 287.50,553.80 288.50,553.80 288.50,553.80 289.50,553.80 289.50,553.80 290.50,553.80 290.50,552.80 291.50,552.80 291.50,553.07 292.50,553.07 292.50,553.80 293.50,553.80 293.50,553.07 294.50,553.07 294.50,553.80 295.50,553.80 295.50,553.36 296.50,553.36 296.50,552.91 297.50,552.91 297.50,553.80 298.50,553.80 298.50,553.80 299.50,553.80 299.50,553.01 300.50,553.01 300.50,553.80 301.50,553.80 301.50,553.80 302.50,553.80 302.50,553.80 303.50,553.80 303.50,553.80 304.50,553.80 304.50,553.80 305.50,553.80 305.50,552.98 306.50,552.98 306.50,553.80 307.50,553.80 307.50,553.80 308.50,553.80 308.50,553.80 309.50,553.80 309.50,553.80 310.50,553.80 310.50,553.06 311.50,553.06 311.50,553.80 312.50,553.80 312.50,553.80 313.50,553.80 313.50,553.80 314.50,553.80 314.50,553.80 315.50,553.80 315.50,553.80 316.50,553.80 316.50,553.80 317.50,553.80 317.50,553.80 318.50,553.80 318.50,553.80 319.50,553.80 319.50,553.80 320.50,553.80 320.50,553.17 321.50,553.17 321.50,553.10 322.50,553.10 322.50,553.80 323.50,553.80 323.50,552.42 324.50,552.42 324.50,552.79 325.50,552.79 325.50,553.29 326.50,553.29 326.50,553.80 327.50,553.80 327.50,552.71 328.50,552.71 328.50,552.28 329.50,552.28 329.50,553.24 330.50,553.24 330.50,553.80 331.50,553.80 331.50,552.54 332.50,552.54 332.50,553.80 333.50,553.80 333.50,553.80 334.50,553.80 334.50,553.80 335.50,553.80 335.50,552.93 336.50,552.93 336.50,553.80 337.50,553.80 337.50,553.80 338.50,553.80 338.50,553.27 339.50,553.27 339.50,553.35 340.50,553.35 340.50,552.30 341.50,552.30 341.50,552.82 342.50,552.82 342.50,552.91 343.50,552.91 343.50,553.80 344.50,553.80 344.50,552.83 345.50,552.83 345.50,552.30 346.50,552.30 346.50,553.80 347.50,553.80 347.50,552.48 348.50,552.48 348.50,552.72 349.50,552.72 349.50,552.94 350.50,552.94 350.50,552.93 351.50,552.93 351.50,553.20 352.50,553.20 352.50,553.41 353.50,553.41 353.50,552.42 354.50,552.42 354.50,553.01 355.50,553.01 355.50,552.25 356.50,552.25 356.50,552.55 357.50,552.55 357.50,553.80 358.50,553.80 358.50,552.87 359.50,552.87 359.50,553.80 360.50,553.80 360.50,552.94 361.50,552.94 361.50,552.84 362.50,552.84 362.50,552.43 363.50,552.43 363.50,552.89 364.50,552.89 364.50,552.28 365.50,552.28 365.50,552.92 366.50,552.92 366.50,552.11 367.50,552.11 367.50,552.04 368.50,552.04 368.50,552.94 369.50,552.94 369.50,553.01 370.50,553.01 370.50,552.37 371.50,552.37 371.50,552.71 372.50,552.71 372.50,552.15 373.50,552.15 373.50,553.80 374.50,553.80 374.50,552.61 375.50,552.61 375.50,552.81 376.50,552.81 376.50,553.80 377.50,553.80 377.50,552.79 378.50,552.79 378.50,553.80 379.50,553.80 379.50,552.76 380.50,552.76 380.50,552.26 381.50,552.26 381.50,552.39 382.50,552.39 382.50,553.44 383.50,553.44 383.50,552.67 384.50,552.67 384.50,553.80 385.50,553.80 385.50,553.80 386.50,553.80 386.50,553.17 387.50,553.17 387.50,552.27 388.50,552.27 388.50,553.37 389.50,553.37 389.50,553.80 390.50,553.80 390.50,553.42 391.50,553.42 391.50,552.43 392.50,552.43 392.50,553.42 393.50,553.42 393.50,552.87 394.50,552.87 394.50,552.00 395.50,552.00 395.50,553.80 396.50,553.80 396.50,553.80 397.50,553.80 397.50,553.00 398.50,553.00 398.50,553.49 399.50,553.49 399.50,553.80 400.50,553.80 400.50,553.11 401.50,553.11 401.50,553.12 402.50,553.12 402.50,553.80 403.50,553.80 403.50,552.73 404.50,552.73 404.50,553.42 405.50,553.42 405.50,552.20 406.50,552.20 406.50,553.80 407.50,553.80 407.50,553.80 408.50,553.80 408.50,553.20 409.50,553.20 409.50,552.69 410.50,552.69 410.50,552.80 411.50,552.80 411.50,552.62 412.50,552.62 412.50,552.30 413.50,552.30 413.50,552.12 414.50,552.12 414.50,553.42 415.50,553.42 415.50,552.70 416.50,552.70 416.50,552.65 417.50,552.65 417.50,553.09 418.50,553.09 418.50,553.80 419.50,553.80 419.50,552.43 420.50,552.43 420.50,553.80 421.50,553.80 421.50,552.82 422.50,552.82 422.50,553.80 423.50,553.80 423.50,552.18 424.50,552.18 424.50,552.85 425.50,552.85 425.50,553.43 426.50,553.43 426.50,553.80 427.50,553.80 427.50,552.61 428.50,552.61 428.50,552.12 429.50,552.12 429.50,552.30 430.50,552.30 430.50,552.49 431.50,552.49 431.50,553.06 432.50,553.06 432.50,552.24 433.50,552.24 433.50,552.12 434.50,552.12 434.50,553.35 435.50,553.35 435.50,552.32 436.50,552.32 436.50,553.80 437.50,553.80 437.50,552.51 438.50,552.51 438.50,552.14 439.50,552.14 439.50,553.27 440.50,553.27 440.50,552.46 441.50,552.46 441.50,552.25 442.50,552.25 442.50,553.15 443.50,553.15 443.50,553.02 444.50,553.02 444.50,553.27 445.50,553.27 445.50,553.80 446.50,553.80 446.50,552.24 447.50,552.24 447.50,552.30 448.50,552.30 448.50,553.80 449.50,553.80 449.50,553.45 450.50,553.45 450.50,552.54 451.50,552.54 451.50,552.68 452.50,552.68 452.50,552.80 453.50,552.80 453.50,552.86 454.50,552.86 454.50,553.33 455.50,553.33 455.50,553.80 456.50,553.80 456.50,553.80" fill="#919191" />
<polygon points="308.00,553.80 308.00,549.00 312.00,548.20 316.00,547.70 319.00,548.00 321.00,548.50 321.00,553.80" fill="#919191" />
<polygon points="167.95,553.80 168.20,541.80 169.20,541.80 169.45,553.80" fill="#919191" />
<polygon points="237.15,553.80 237.40,545.70 238.40,545.70 238.65,553.80" fill="#919191" />
<polygon points="397.25,553.80 397.50,549.00 398.50,549.00 398.75,553.80" fill="#919191" />
<g clip-path="url(#cc)">
<path d="M60.00,553.80 C60.00,556.28 82.40,558.30 110.00,558.30 L156.70,558.30 C163.32,558.30 168.70,556.28 168.70,553.80" fill="none" stroke="#919191" stroke-width="2.7"/>
<path d="M168.70,553.80 C168.70,556.23 173.18,558.20 178.70,558.20 L227.90,558.20 C233.42,558.20 237.90,556.23 237.90,553.80" fill="none" stroke="#919191" stroke-width="2.7"/>
<path d="M237.50,553.80 C237.50,550.98 257.66,548.70 282.50,548.70 L358.00,548.70 C380.08,548.70 398.00,550.98 398.00,553.80" fill="none" stroke="#919191" stroke-width="2.7"/>
<path d="M237.50,553.80 C237.50,556.28 244.22,558.30 252.50,558.30 L296.00,558.30 C302.62,558.30 308.00,556.28 308.00,553.80" fill="none" stroke="#919191" stroke-width="2.7"/>
</g>
<rect x="112.10" y="555.20" width="16.40" height="7.6" fill="#fff"/>
<text x="120.30" y="561.85" font-size="8.3" text-anchor="middle" fill="#222" stroke="#222" stroke-width="0.08" textLength="12.0" lengthAdjust="spacingAndGlyphs" >460</text>
<rect x="194.10" y="555.10" width="16.40" height="7.6" fill="#fff"/>
<text x="202.30" y="561.75" font-size="8.3" text-anchor="middle" fill="#222" stroke="#222" stroke-width="0.08" textLength="12.0" lengthAdjust="spacingAndGlyphs" >258</text>
<rect x="321.00" y="544.90" width="16.40" height="7.6" fill="#fff"/>
<text x="329.20" y="551.55" font-size="8.3" text-anchor="middle" fill="#222" stroke="#222" stroke-width="0.08" textLength="12.0" lengthAdjust="spacingAndGlyphs" >176</text>
<rect x="270.80" y="555.20" width="12.40" height="7.6" fill="#fff"/>
<text x="277.00" y="561.85" font-size="8.3" text-anchor="middle" fill="#222" stroke="#222" stroke-width="0.08" textLength="8.0" lengthAdjust="spacingAndGlyphs" >85</text>
<line x1="76.80" y1="554.00" x2="456.80" y2="554.00" stroke="#555" stroke-width="0.9" />
<polygon points="76.50,581.80 76.50,581.80 77.50,581.80 77.50,581.80 78.50,581.80 78.50,581.80 79.50,581.80 79.50,581.80 80.50,581.80 80.50,581.80 81.50,581.80 81.50,581.80 82.50,581.80 82.50,581.80 83.50,581.80 83.50,581.80 84.50,581.80 84.50,581.80 85.50,581.80 85.50,581.80 86.50,581.80 86.50,581.80 87.50,581.80 87.50,581.80 88.50,581.80 88.50,581.80 89.50,581.80 89.50,581.80 90.50,581.80 90.50,581.80 91.50,581.80 91.50,581.80 92.50,581.80 92.50,581.80 93.50,581.80 93.50,581.80 94.50,581.80 94.50,581.80 95.50,581.80 95.50,581.80 96.50,581.80 96.50,581.80 97.50,581.80 97.50,581.80 98.50,581.80 98.50,581.80 99.50,581.80 99.50,581.80 100.50,581.80 100.50,581.80 101.50,581.80 101.50,581.80 102.50,581.80 102.50,581.80 103.50,581.80 103.50,581.80 104.50,581.80 104.50,581.80 105.50,581.80 105.50,581.80 106.50,581.80 106.50,581.80 107.50,581.80 107.50,581.80 108.50,581.80 108.50,581.80 109.50,581.80 109.50,581.80 110.50,581.80 110.50,581.80 111.50,581.80 111.50,581.80 112.50,581.80 112.50,581.80 113.50,581.80 113.50,581.80 114.50,581.80 114.50,581.80 115.50,581.80 115.50,581.80 116.50,581.80 116.50,581.80 117.50,581.80 117.50,581.80 118.50,581.80 118.50,581.80 119.50,581.80 119.50,581.80 120.50,581.80 120.50,581.80 121.50,581.80 121.50,581.80 122.50,581.80 122.50,581.80 123.50,581.80 123.50,581.80 124.50,581.80 124.50,581.80 125.50,581.80 125.50,581.80 126.50,581.80 126.50,581.80 127.50,581.80 127.50,581.80 128.50,581.80 128.50,581.80 129.50,581.80 129.50,581.80 130.50,581.80 130.50,581.80 131.50,581.80 131.50,581.80 132.50,581.80 132.50,581.80 133.50,581.80 133.50,581.80 134.50,581.80 134.50,581.80 135.50,581.80 135.50,581.80 136.50,581.80 136.50,581.80 137.50,581.80 137.50,581.80 138.50,581.80 138.50,581.80 139.50,581.80 139.50,581.80 140.50,581.80 140.50,581.80 141.50,581.80 141.50,581.80 142.50,581.80 142.50,581.80 143.50,581.80 143.50,581.80 144.50,581.80 144.50,581.80 145.50,581.80 145.50,581.80 146.50,581.80 146.50,581.80 147.50,581.80 147.50,581.80 148.50,581.80 148.50,581.80 149.50,581.80 149.50,581.80 150.50,581.80 150.50,581.80 151.50,581.80 151.50,581.80 152.50,581.80 152.50,581.80 153.50,581.80 153.50,581.80 154.50,581.80 154.50,581.80 155.50,581.80 155.50,581.80 156.50,581.80 156.50,581.80 157.50,581.80 157.50,581.80 158.50,581.80 158.50,581.80 159.50,581.80 159.50,581.80 160.50,581.80 160.50,581.80 161.50,581.80 161.50,581.80 162.50,581.80 162.50,581.80 163.50,581.80 163.50,581.80 164.50,581.80 164.50,581.80 165.50,581.80 165.50,581.80 166.50,581.80 166.50,581.80 167.50,581.80 167.50,581.80 168.50,581.80 168.50,581.80 169.50,581.80 169.50,581.80 170.50,581.80 170.50,581.80 171.50,581.80 171.50,581.80 172.50,581.80 172.50,581.80 173.50,581.80 173.50,581.80 174.50,581.80 174.50,581.80 175.50,581.80 175.50,581.80 176.50,581.80 176.50,581.80 177.50,581.80 177.50,581.80 178.50,581.80 178.50,581.80 179.50,581.80 179.50,581.80 180.50,581.80 180.50,581.80 181.50,581.80 181.50,581.80 182.50,581.80 182.50,581.80 183.50,581.80 183.50,581.80 184.50,581.80 184.50,581.80 185.50,581.80 185.50,581.80 186.50,581.80 186.50,581.80 187.50,581.80 187.50,581.80 188.50,581.80 188.50,581.80 189.50,581.80 189.50,581.80 190.50,581.80 190.50,581.80 191.50,581.80 191.50,581.80 192.50,581.80 192.50,581.80 193.50,581.80 193.50,581.80 194.50,581.80 194.50,581.80 195.50,581.80 195.50,581.80 196.50,581.80 196.50,581.80 197.50,581.80 197.50,581.80 198.50,581.80 198.50,581.80 199.50,581.80 199.50,581.80 200.50,581.80 200.50,581.80 201.50,581.80 201.50,581.80 202.50,581.80 202.50,581.80 203.50,581.80 203.50,581.80 204.50,581.80 204.50,581.80 205.50,581.80 205.50,581.80 206.50,581.80 206.50,581.80 207.50,581.80 207.50,581.80 208.50,581.80 208.50,581.80 209.50,581.80 209.50,581.80 210.50,581.80 210.50,581.80 211.50,581.80 211.50,581.80 212.50,581.80 212.50,581.80 213.50,581.80 213.50,581.80 214.50,581.80 214.50,581.80 215.50,581.80 215.50,581.80 216.50,581.80 216.50,581.80 217.50,581.80 217.50,581.80 218.50,581.80 218.50,581.80 219.50,581.80 219.50,581.80 220.50,581.80 220.50,581.80 221.50,581.80 221.50,581.80 222.50,581.80 222.50,581.80 223.50,581.80 223.50,581.80 224.50,581.80 224.50,581.80 225.50,581.80 225.50,581.80 226.50,581.80 226.50,581.80 227.50,581.80 227.50,581.80 228.50,581.80 228.50,581.80 229.50,581.80 229.50,581.80 230.50,581.80 230.50,581.80 231.50,581.80 231.50,581.80 232.50,581.80 232.50,581.80 233.50,581.80 233.50,581.80 234.50,581.80 234.50,581.80 235.50,581.80 235.50,581.80 236.50,581.80 236.50,581.80 237.50,581.80 237.50,581.80 238.50,581.80 238.50,581.80 239.50,581.80 239.50,581.80 240.50,581.80 240.50,580.85 241.50,580.85 241.50,581.80 242.50,581.80 242.50,581.80 243.50,581.80 243.50,581.80 244.50,581.80 244.50,581.26 245.50,581.26 245.50,581.80 246.50,581.80 246.50,581.80 247.50,581.80 247.50,581.80 248.50,581.80 248.50,581.16 249.50,581.16 249.50,581.80 250.50,581.80 250.50,581.80 251.50,581.80 251.50,581.80 252.50,581.80 252.50,581.40 253.50,581.40 253.50,580.87 254.50,580.87 254.50,581.80 255.50,581.80 255.50,580.85 256.50,580.85 256.50,581.08 257.50,581.08 257.50,581.80 258.50,581.80 258.50,581.80 259.50,581.80 259.50,581.80 260.50,581.80 260.50,581.80 261.50,581.80 261.50,581.27 262.50,581.27 262.50,581.80 263.50,581.80 263.50,580.98 264.50,580.98 264.50,580.95 265.50,580.95 265.50,581.45 266.50,581.45 266.50,581.80 267.50,581.80 267.50,581.11 268.50,581.11 268.50,581.80 269.50,581.80 269.50,581.80 270.50,581.80 270.50,581.80 271.50,581.80 271.50,581.14 272.50,581.14 272.50,581.05 273.50,581.05 273.50,581.10 274.50,581.10 274.50,581.80 275.50,581.80 275.50,581.80 276.50,581.80 276.50,581.80 277.50,581.80 277.50,581.38 278.50,581.38 278.50,581.80 279.50,581.80 279.50,581.80 280.50,581.80 280.50,581.80 281.50,581.80 281.50,581.80 282.50,581.80 282.50,581.80 283.50,581.80 283.50,581.43 284.50,581.43 284.50,581.80 285.50,581.80 285.50,581.15 286.50,581.15 286.50,581.80 287.50,581.80 287.50,581.17 288.50,581.17 288.50,581.13 289.50,581.13 289.50,581.80 290.50,581.80 290.50,581.80 291.50,581.80 291.50,581.22 292.50,581.22 292.50,581.41 293.50,581.41 293.50,580.89 294.50,580.89 294.50,581.80 295.50,581.80 295.50,581.80 296.50,581.80 296.50,580.84 297.50,580.84 297.50,581.80 298.50,581.80 298.50,581.80 299.50,581.80 299.50,581.80 300.50,581.80 300.50,581.80 301.50,581.80 301.50,580.97 302.50,580.97 302.50,581.32 303.50,581.32 303.50,581.22 304.50,581.22 304.50,581.80 305.50,581.80 305.50,580.88 306.50,580.88 306.50,581.10 307.50,581.10 307.50,581.08 308.50,581.08 308.50,581.80 309.50,581.80 309.50,581.80 310.50,581.80 310.50,581.33 311.50,581.33 311.50,581.80 312.50,581.80 312.50,581.80 313.50,581.80 313.50,581.07 314.50,581.07 314.50,581.80 315.50,581.80 315.50,581.80 316.50,581.80 316.50,581.80 317.50,581.80 317.50,581.80 318.50,581.80 318.50,581.80 319.50,581.80 319.50,581.80 320.50,581.80 320.50,580.28 321.50,580.28 321.50,580.97 322.50,580.97 322.50,581.18 323.50,581.18 323.50,581.80 324.50,581.80 324.50,581.30 325.50,581.30 325.50,581.32 326.50,581.32 326.50,581.21 327.50,581.21 327.50,580.23 328.50,580.23 328.50,581.80 329.50,581.80 329.50,581.80 330.50,581.80 330.50,580.85 331.50,580.85 331.50,581.80 332.50,581.80 332.50,581.80 333.50,581.80 333.50,581.80 334.50,581.80 334.50,581.24 335.50,581.24 335.50,580.40 336.50,580.40 336.50,581.80 337.50,581.80 337.50,580.57 338.50,580.57 338.50,581.29 339.50,581.29 339.50,581.80 340.50,581.80 340.50,580.53 341.50,580.53 341.50,580.42 342.50,580.42 342.50,581.80 343.50,581.80 343.50,581.80 344.50,581.80 344.50,581.80 345.50,581.80 345.50,581.80 346.50,581.80 346.50,581.80 347.50,581.80 347.50,580.93 348.50,580.93 348.50,581.80 349.50,581.80 349.50,581.80 350.50,581.80 350.50,581.80 351.50,581.80 351.50,580.25 352.50,580.25 352.50,580.27 353.50,580.27 353.50,580.24 354.50,580.24 354.50,581.80 355.50,581.80 355.50,580.41 356.50,580.41 356.50,581.24 357.50,581.24 357.50,581.19 358.50,581.19 358.50,580.32 359.50,580.32 359.50,580.58 360.50,580.58 360.50,580.48 361.50,580.48 361.50,581.80 362.50,581.80 362.50,580.28 363.50,580.28 363.50,581.80 364.50,581.80 364.50,581.39 365.50,581.39 365.50,580.41 366.50,580.41 366.50,580.73 367.50,580.73 367.50,581.80 368.50,581.80 368.50,581.80 369.50,581.80 369.50,580.86 370.50,580.86 370.50,581.36 371.50,581.36 371.50,581.80 372.50,581.80 372.50,580.71 373.50,580.71 373.50,581.06 374.50,581.06 374.50,581.04 375.50,581.04 375.50,581.80 376.50,581.80 376.50,581.12 377.50,581.12 377.50,581.15 378.50,581.15 378.50,581.80 379.50,581.80 379.50,580.64 380.50,580.64 380.50,581.80 381.50,581.80 381.50,580.61 382.50,580.61 382.50,580.43 383.50,580.43 383.50,581.15 384.50,581.15 384.50,581.80 385.50,581.80 385.50,581.21 386.50,581.21 386.50,581.80 387.50,581.80 387.50,580.34 388.50,580.34 388.50,580.85 389.50,580.85 389.50,581.80 390.50,581.80 390.50,580.21 391.50,580.21 391.50,580.42 392.50,580.42 392.50,580.81 393.50,580.81 393.50,581.27 394.50,581.27 394.50,581.80 395.50,581.80 395.50,580.45 396.50,580.45 396.50,581.04 397.50,581.04 397.50,580.78 398.50,580.78 398.50,581.80 399.50,581.80 399.50,581.01 400.50,581.01 400.50,581.80 401.50,581.80 401.50,581.80 402.50,581.80 402.50,581.40 403.50,581.40 403.50,580.92 404.50,580.92 404.50,581.80 405.50,581.80 405.50,580.64 406.50,580.64 406.50,581.01 407.50,581.01 407.50,580.62 408.50,580.62 408.50,581.80 409.50,581.80 409.50,581.03 410.50,581.03 410.50,581.80 411.50,581.80 411.50,580.41 412.50,580.41 412.50,580.78 413.50,580.78 413.50,580.52 414.50,580.52 414.50,581.80 415.50,581.80 415.50,581.80 416.50,581.80 416.50,581.80 417.50,581.80 417.50,581.08 418.50,581.08 418.50,580.26 419.50,580.26 419.50,581.80 420.50,581.80 420.50,580.74 421.50,580.74 421.50,581.44 422.50,581.44 422.50,580.53 423.50,580.53 423.50,581.13 424.50,581.13 424.50,581.80 425.50,581.80 425.50,580.79 426.50,580.79 426.50,580.23 427.50,580.23 427.50,580.45 428.50,580.45 428.50,581.01 429.50,581.01 429.50,581.80 430.50,581.80 430.50,581.80 431.50,581.80 431.50,581.14 432.50,581.14 432.50,580.75 433.50,580.75 433.50,581.80 434.50,581.80 434.50,581.80 435.50,581.80 435.50,581.32 436.50,581.32 436.50,580.36 437.50,580.36 437.50,580.54 438.50,580.54 438.50,581.09 439.50,581.09 439.50,581.11 440.50,581.11 440.50,580.24 441.50,580.24 441.50,581.80 442.50,581.80 442.50,581.10 443.50,581.10 443.50,581.80 444.50,581.80 444.50,581.08 445.50,581.08 445.50,581.36 446.50,581.36 446.50,580.99 447.50,580.99 447.50,580.25 448.50,580.25 448.50,581.23 449.50,581.23 449.50,581.80 450.50,581.80 450.50,580.41 451.50,580.41 451.50,580.49 452.50,580.49 452.50,581.30 453.50,581.30 453.50,581.80 454.50,581.80 454.50,580.77 455.50,580.77 455.50,580.52 456.50,580.52 456.50,581.80" fill="#919191" />
<polygon points="308.00,581.80 308.00,580.50 311.00,580.00 313.00,579.30 315.00,580.20 317.00,579.50 319.00,580.30 321.00,580.80 321.00,581.80" fill="#919191" />
<polygon points="167.95,581.80 168.20,569.70 169.20,569.70 169.45,581.80" fill="#919191" />
<g clip-path="url(#cc)">
<path d="M60.00,581.80 C60.00,578.82 82.40,576.40 110.00,576.40 L156.70,576.40 C163.32,576.40 168.70,578.82 168.70,581.80" fill="none" stroke="#919191" stroke-width="2.7"/>
<path d="M168.70,581.80 C168.70,579.15 184.07,577.00 203.00,577.00 L203.00,577.00 C221.93,577.00 237.30,579.15 237.30,581.80" fill="none" stroke="#919191" stroke-width="2.7"/>
<path d="M237.30,581.80 C237.30,576.11 239.99,571.50 243.30,571.50 L384.80,571.50 C392.53,571.50 398.80,576.11 398.80,581.80" fill="none" stroke="#919191" stroke-width="2.7"/>
<path d="M237.30,581.80 C237.30,584.17 242.68,586.10 249.30,586.10 L296.50,586.10 C302.02,586.10 306.50,584.17 306.50,581.80" fill="none" stroke="#919191" stroke-width="2.7"/>
</g>
<rect x="110.80" y="572.70" width="16.40" height="7.6" fill="#fff"/>
<text x="119.00" y="579.35" font-size="8.3" text-anchor="middle" fill="#222" stroke="#222" stroke-width="0.08" textLength="12.0" lengthAdjust="spacingAndGlyphs" >241</text>
<rect x="194.10" y="573.20" width="16.40" height="7.6" fill="#fff"/>
<text x="202.30" y="579.85" font-size="8.3" text-anchor="middle" fill="#222" stroke="#222" stroke-width="0.08" textLength="12.0" lengthAdjust="spacingAndGlyphs" >180</text>
<rect x="317.60" y="567.10" width="12.40" height="7.6" fill="#fff"/>
<text x="323.80" y="573.75" font-size="8.3" text-anchor="middle" fill="#222" stroke="#222" stroke-width="0.08" textLength="8.0" lengthAdjust="spacingAndGlyphs" >59</text>
<rect x="270.80" y="582.90" width="12.40" height="7.6" fill="#fff"/>
<text x="277.00" y="589.55" font-size="8.3" text-anchor="middle" fill="#222" stroke="#222" stroke-width="0.08" textLength="8.0" lengthAdjust="spacingAndGlyphs" >29</text>
<line x1="76.80" y1="582.00" x2="456.80" y2="582.00" stroke="#555" stroke-width="0.9" />
<line x1="76.70" y1="608.50" x2="401.00" y2="608.50" stroke="#1010e0" stroke-width="1.5" />
<line x1="80.60" y1="606.80" x2="80.60" y2="610.20" stroke="#1010e0" stroke-width="1.2" />
<line x1="89.50" y1="606.80" x2="89.50" y2="610.20" stroke="#1010e0" stroke-width="1.2" />
<line x1="98.40" y1="606.80" x2="98.40" y2="610.20" stroke="#1010e0" stroke-width="1.2" />
<line x1="107.30" y1="606.80" x2="107.30" y2="610.20" stroke="#1010e0" stroke-width="1.2" />
<line x1="116.20" y1="606.80" x2="116.20" y2="610.20" stroke="#1010e0" stroke-width="1.2" />
<line x1="125.10" y1="606.80" x2="125.10" y2="610.20" stroke="#1010e0" stroke-width="1.2" />
<line x1="134.00" y1="606.80" x2="134.00" y2="610.20" stroke="#1010e0" stroke-width="1.2" />
<line x1="142.90" y1="606.80" x2="142.90" y2="610.20" stroke="#1010e0" stroke-width="1.2" />
<line x1="151.80" y1="606.80" x2="151.80" y2="610.20" stroke="#1010e0" stroke-width="1.2" />
<line x1="160.70" y1="606.80" x2="160.70" y2="610.20" stroke="#1010e0" stroke-width="1.2" />
<line x1="175.40" y1="606.80" x2="175.40" y2="610.20" stroke="#1010e0" stroke-width="1.2" />
<line x1="178.00" y1="606.80" x2="178.00" y2="610.20" stroke="#1010e0" stroke-width="1.2" />
<line x1="184.00" y1="606.80" x2="184.00" y2="610.20" stroke="#1010e0" stroke-width="1.2" />
<line x1="186.50" y1="606.80" x2="186.50" y2="610.20" stroke="#1010e0" stroke-width="1.2" />
<line x1="193.00" y1="606.80" x2="193.00" y2="610.20" stroke="#1010e0" stroke-width="1.2" />
<line x1="198.00" y1="606.80" x2="198.00" y2="610.20" stroke="#1010e0" stroke-width="1.2" />
<line x1="202.00" y1="606.80" x2="202.00" y2="610.20" stroke="#1010e0" stroke-width="1.2" />
<line x1="205.00" y1="606.80" x2="205.00" y2="610.20" stroke="#1010e0" stroke-width="1.2" />
<line x1="211.00" y1="606.80" x2="211.00" y2="610.20" stroke="#1010e0" stroke-width="1.2" />
<line x1="216.00" y1="606.80" x2="216.00" y2="610.20" stroke="#1010e0" stroke-width="1.2" />
<line x1="221.00" y1="606.80" x2="221.00" y2="610.20" stroke="#1010e0" stroke-width="1.2" />
<line x1="225.00" y1="606.80" x2="225.00" y2="610.20" stroke="#1010e0" stroke-width="1.2" />
<line x1="230.00" y1="606.80" x2="230.00" y2="610.20" stroke="#1010e0" stroke-width="1.2" />
<line x1="233.00" y1="606.80" x2="233.00" y2="610.20" stroke="#1010e0" stroke-width="1.2" />
<line x1="241.50" y1="606.80" x2="241.50" y2="610.20" stroke="#1010e0" stroke-width="1.2" />
<line x1="246.40" y1="606.80" x2="246.40" y2="610.20" stroke="#1010e0" stroke-width="1.2" />
<line x1="251.30" y1="606.80" x2="251.30" y2="610.20" stroke="#1010e0" stroke-width="1.2" />
<line x1="256.20" y1="606.80" x2="256.20" y2="610.20" stroke="#1010e0" stroke-width="1.2" />
<line x1="261.10" y1="606.80" x2="261.10" y2="610.20" stroke="#1010e0" stroke-width="1.2" />
<line x1="266.00" y1="606.80" x2="266.00" y2="610.20" stroke="#1010e0" stroke-width="1.2" />
<line x1="270.90" y1="606.80" x2="270.90" y2="610.20" stroke="#1010e0" stroke-width="1.2" />
<line x1="275.80" y1="606.80" x2="275.80" y2="610.20" stroke="#1010e0" stroke-width="1.2" />
<line x1="280.70" y1="606.80" x2="280.70" y2="610.20" stroke="#1010e0" stroke-width="1.2" />
<line x1="285.60" y1="606.80" x2="285.60" y2="610.20" stroke="#1010e0" stroke-width="1.2" />
<line x1="290.50" y1="606.80" x2="290.50" y2="610.20" stroke="#1010e0" stroke-width="1.2" />
<line x1="295.40" y1="606.80" x2="295.40" y2="610.20" stroke="#1010e0" stroke-width="1.2" />
<line x1="300.30" y1="606.80" x2="300.30" y2="610.20" stroke="#1010e0" stroke-width="1.2" />
<line x1="305.20" y1="606.80" x2="305.20" y2="610.20" stroke="#1010e0" stroke-width="1.2" />
<line x1="310.10" y1="606.80" x2="310.10" y2="610.20" stroke="#1010e0" stroke-width="1.2" />
<line x1="315.00" y1="606.80" x2="315.00" y2="610.20" stroke="#1010e0" stroke-width="1.2" />
<line x1="319.90" y1="606.80" x2="319.90" y2="610.20" stroke="#1010e0" stroke-width="1.2" />
<line x1="324.80" y1="606.80" x2="324.80" y2="610.20" stroke="#1010e0" stroke-width="1.2" />
<line x1="329.70" y1="606.80" x2="329.70" y2="610.20" stroke="#1010e0" stroke-width="1.2" />
<line x1="334.60" y1="606.80" x2="334.60" y2="610.20" stroke="#1010e0" stroke-width="1.2" />
<line x1="339.50" y1="606.80" x2="339.50" y2="610.20" stroke="#1010e0" stroke-width="1.2" />
<line x1="344.40" y1="606.80" x2="344.40" y2="610.20" stroke="#1010e0" stroke-width="1.2" />
<line x1="349.30" y1="606.80" x2="349.30" y2="610.20" stroke="#1010e0" stroke-width="1.2" />
<line x1="354.20" y1="606.80" x2="354.20" y2="610.20" stroke="#1010e0" stroke-width="1.2" />
<line x1="359.10" y1="606.80" x2="359.10" y2="610.20" stroke="#1010e0" stroke-width="1.2" />
<line x1="364.00" y1="606.80" x2="364.00" y2="610.20" stroke="#1010e0" stroke-width="1.2" />
<line x1="368.90" y1="606.80" x2="368.90" y2="610.20" stroke="#1010e0" stroke-width="1.2" />
<line x1="373.80" y1="606.80" x2="373.80" y2="610.20" stroke="#1010e0" stroke-width="1.2" />
<line x1="378.70" y1="606.80" x2="378.70" y2="610.20" stroke="#1010e0" stroke-width="1.2" />
<line x1="383.60" y1="606.80" x2="383.60" y2="610.20" stroke="#1010e0" stroke-width="1.2" />
<line x1="388.50" y1="606.80" x2="388.50" y2="610.20" stroke="#1010e0" stroke-width="1.2" />
<line x1="393.40" y1="606.80" x2="393.40" y2="610.20" stroke="#1010e0" stroke-width="1.2" />
<rect x="168.50" y="606.40" width="2.60" height="4.30" fill="#1010e0" rx="0.8"/>
<rect x="236.30" y="606.40" width="2.60" height="4.30" fill="#1010e0" rx="0.8"/>
<rect x="398.20" y="606.40" width="2.80" height="4.30" fill="#1010e0" />
<text x="159.20" y="604.00" font-size="8.4" text-anchor="start" fill="#222" stroke="#222" stroke-width="0.08" textLength="24" lengthAdjust="spacingAndGlyphs" >Exon 3</text>
<text x="228.30" y="604.00" font-size="8.4" text-anchor="start" fill="#222" stroke="#222" stroke-width="0.08" textLength="23.7" lengthAdjust="spacingAndGlyphs" >Exon 2</text>
<text x="303.00" y="603.80" font-size="8.4" text-anchor="start" fill="#e8202a" stroke="#e8202a" stroke-width="0.08" textLength="28" lengthAdjust="spacingAndGlyphs" >Exon 1b</text>
<text x="386.60" y="603.80" font-size="8.4" text-anchor="start" fill="#222" stroke="#222" stroke-width="0.08" textLength="27.8" lengthAdjust="spacingAndGlyphs" >Exon 1a</text>
<text x="228.00" y="621.80" font-size="8.6" text-anchor="start" fill="#222" stroke="#222" stroke-width="0.08" font-style="italic" textLength="19.0" lengthAdjust="spacingAndGlyphs" >PAX5</text>
<rect x="308.80" y="589.80" width="11.60" height="2.40" fill="#e8202a" />
</svg></body></html>
